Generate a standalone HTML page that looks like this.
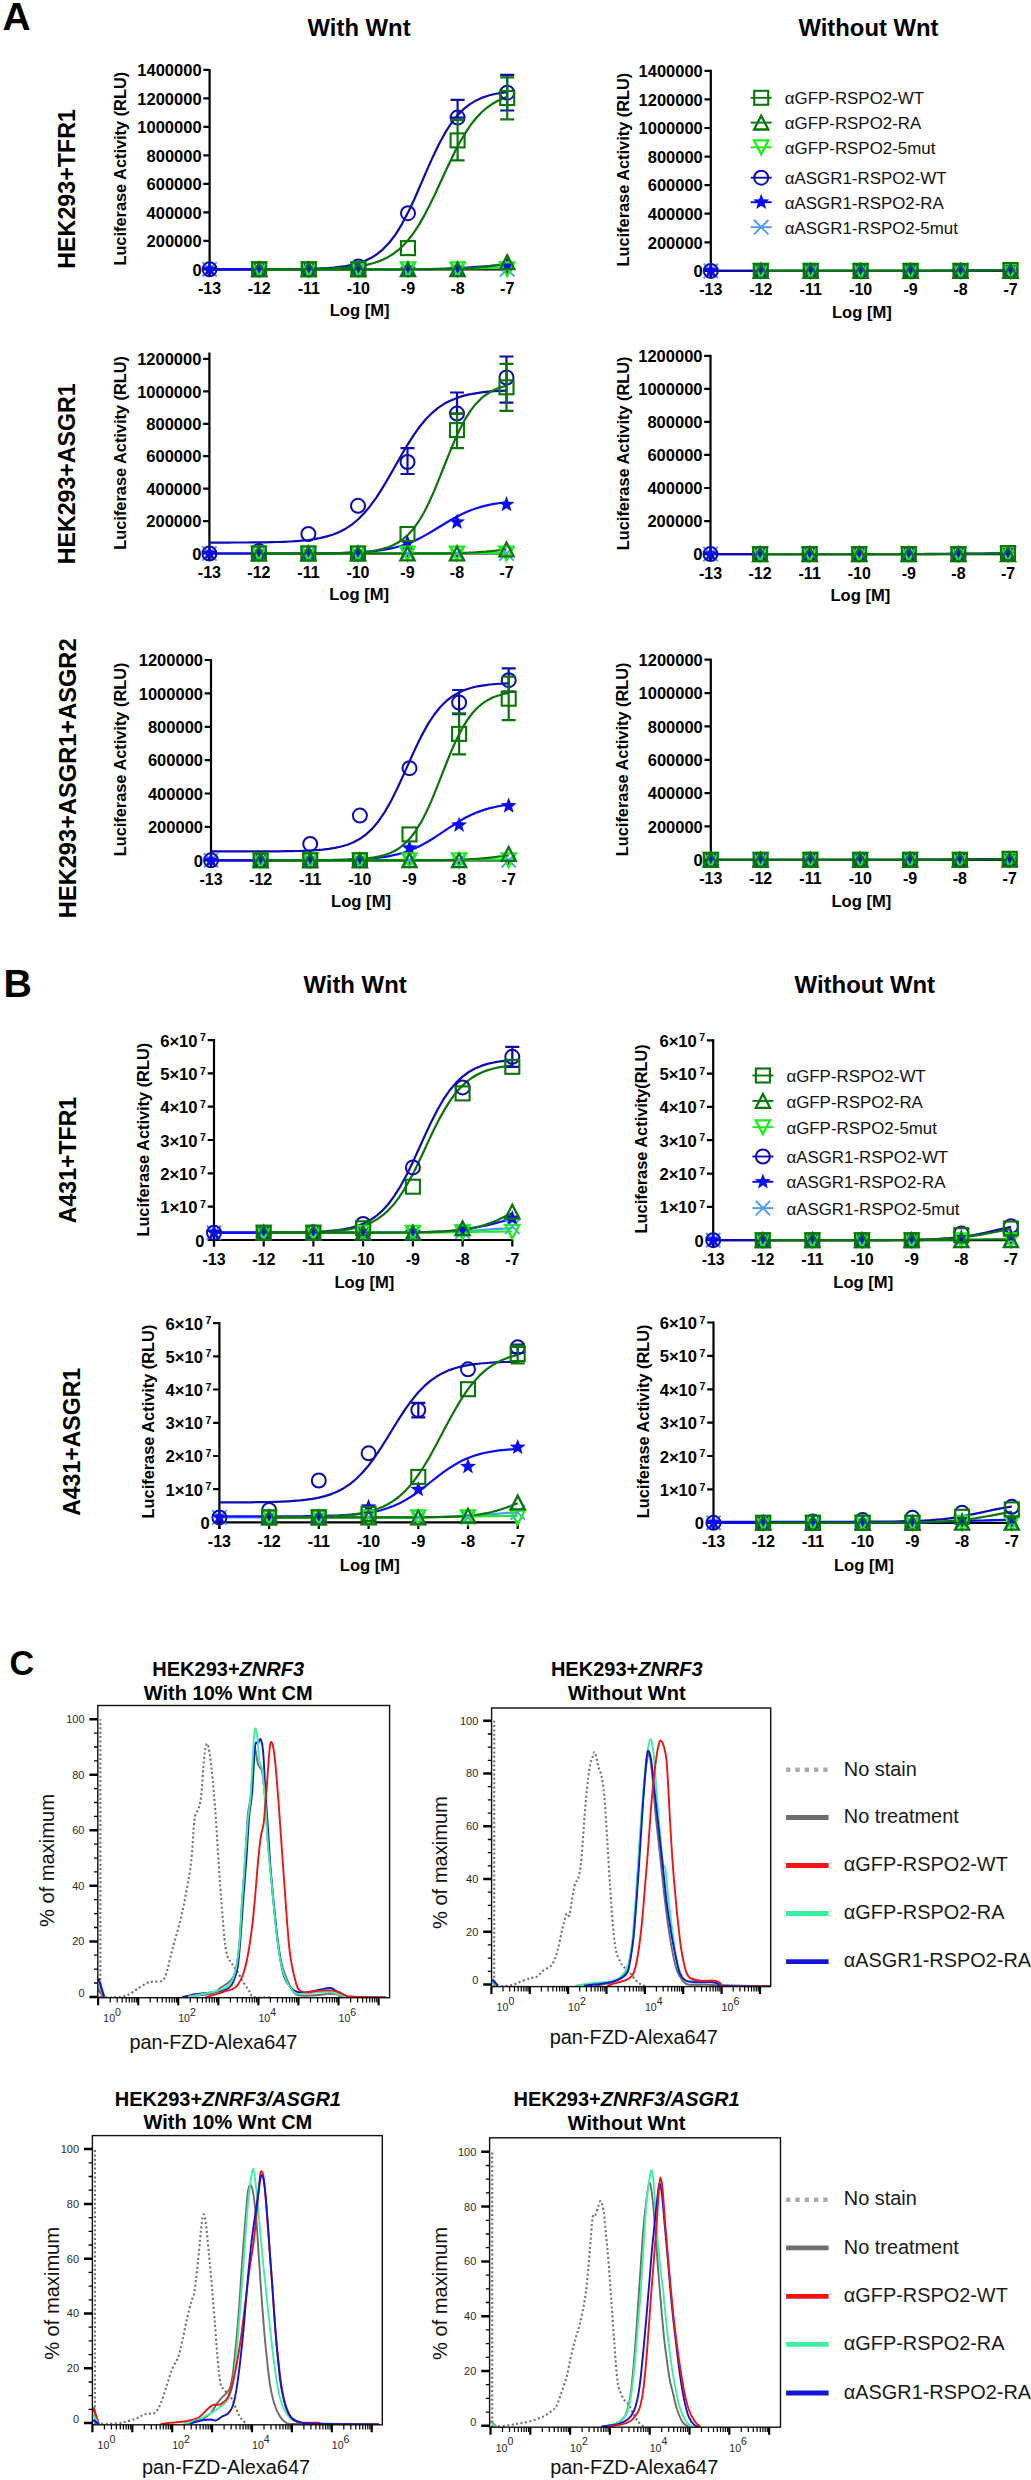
<!DOCTYPE html>
<html><head><meta charset="utf-8"><style>
html,body{margin:0;padding:0;background:#fff;}
svg{display:block;font-family:"Liberation Sans", sans-serif;}
</style></head><body>
<svg width="1031" height="2480" viewBox="0 0 1031 2480">
<rect width="1031" height="2480" fill="#fff"/>
<text font-size="38.95" font-weight="bold" transform="translate(2.47 29.80)">A</text>
<text font-size="39.39" font-weight="bold" transform="translate(3.50 997.00)">B</text>
<text font-size="34.18" font-weight="bold" transform="translate(9.40 1674.96)">C</text>
<text font-size="23.83" font-weight="bold" transform="translate(307.58 35.99)">With Wnt</text>
<text font-size="23.82" font-weight="bold" transform="translate(798.48 35.86)">Without Wnt</text>
<text font-size="23.93" font-weight="bold" transform="translate(303.38 993.18)">With Wnt</text>
<text font-size="23.91" font-weight="bold" transform="translate(794.58 992.86)">Without Wnt</text>
<path d="M209.6 68.9V275.8M208.6 269.3H508.2" stroke="#000" stroke-width="2.2" fill="none"/>
<path d="M203.3 269.3H209.6M203.3 240.8H209.6M203.3 212.3H209.6M203.3 183.8H209.6M203.3 155.4H209.6M203.3 126.9H209.6M203.3 98.4H209.6M203.3 69.9H209.6M209.6 269.3V275.8M259.2 269.3V275.8M308.8 269.3V275.8M358.4 269.3V275.8M408.0 269.3V275.8M457.6 269.3V275.8M507.2 269.3V275.8" stroke="#000" stroke-width="2.2" fill="none"/>
<text x="201.60" y="275.50" font-size="16.5" font-weight="bold" text-anchor="end">0</text>
<text x="201.60" y="247.01" font-size="16.5" font-weight="bold" text-anchor="end">200000</text>
<text x="201.60" y="218.53" font-size="16.5" font-weight="bold" text-anchor="end">400000</text>
<text x="201.60" y="190.04" font-size="16.5" font-weight="bold" text-anchor="end">600000</text>
<text x="201.60" y="161.56" font-size="16.5" font-weight="bold" text-anchor="end">800000</text>
<text x="201.60" y="133.07" font-size="16.5" font-weight="bold" text-anchor="end">1000000</text>
<text x="201.60" y="104.59" font-size="16.5" font-weight="bold" text-anchor="end">1200000</text>
<text x="201.60" y="76.10" font-size="16.5" font-weight="bold" text-anchor="end">1400000</text>
<text x="209.60" y="293.80" font-size="16" font-weight="bold" text-anchor="middle">-13</text>
<text x="259.20" y="293.80" font-size="16" font-weight="bold" text-anchor="middle">-12</text>
<text x="308.80" y="293.80" font-size="16" font-weight="bold" text-anchor="middle">-11</text>
<text x="358.40" y="293.80" font-size="16" font-weight="bold" text-anchor="middle">-10</text>
<text x="408.00" y="293.80" font-size="16" font-weight="bold" text-anchor="middle">-9</text>
<text x="457.60" y="293.80" font-size="16" font-weight="bold" text-anchor="middle">-8</text>
<text x="507.20" y="293.80" font-size="16" font-weight="bold" text-anchor="middle">-7</text>
<text x="359.60" y="316.20" font-size="16.6" font-weight="bold" text-anchor="middle">Log [M]</text>
<text font-size="16.35" font-weight="bold" transform="translate(126.3 265.6) rotate(-90)">Luciferase Activity (RLU)</text>
<text font-size="23.28" font-weight="bold" transform="translate(75.49 268.74) rotate(-90)">HEK293+TFR1</text>
<path d="M209.6 269.3 L215.8 269.3 L222.0 269.3 L228.2 269.3 L234.4 269.3 L240.6 269.3 L246.8 269.3 L253.0 269.3 L259.2 269.3 L265.4 269.3 L271.6 269.2 L277.8 269.2 L284.0 269.2 L290.2 269.1 L296.4 269.1 L302.6 269.0 L308.8 268.8 L315.0 268.6 L321.2 268.4 L327.4 268.1 L333.6 267.6 L339.8 266.9 L346.0 266.1 L352.2 264.9 L358.4 263.2 L364.6 261.0 L370.8 258.1 L377.0 254.2 L383.2 249.1 L389.4 242.5 L395.6 234.3 L401.8 224.3 L408.0 212.6 L414.2 199.5 L420.4 185.3 L426.6 170.9 L432.8 156.9 L439.0 144.0 L445.2 132.7 L451.4 123.0 L457.6 115.2 L463.8 108.9 L470.0 104.1 L476.2 100.4 L482.4 97.6 L488.6 95.5 L494.8 94.0 L501.0 92.9 L507.2 92.1" fill="none" stroke="#0c0cb4" stroke-width="2.2" stroke-linejoin="round"/>
<path d="M209.6 269.3 L215.8 269.3 L222.0 269.3 L228.2 269.3 L234.4 269.3 L240.6 269.3 L246.8 269.3 L253.0 269.3 L259.2 269.3 L265.4 269.3 L271.6 269.3 L277.8 269.3 L284.0 269.3 L290.2 269.3 L296.4 269.3 L302.6 269.3 L308.8 269.3 L315.0 269.3 L321.2 269.3 L327.4 269.3 L333.6 269.3 L339.8 269.3 L346.0 269.3 L352.2 269.3 L358.4 269.3 L364.6 269.3 L370.8 269.3 L377.0 269.3 L383.2 269.3 L389.4 269.3 L395.6 269.3 L401.8 269.2 L408.0 269.2 L414.2 269.2 L420.4 269.1 L426.6 269.1 L432.8 269.0 L439.0 268.8 L445.2 268.7 L451.4 268.4 L457.6 268.2 L463.8 267.8 L470.0 267.4 L476.2 266.9 L482.4 266.5 L488.6 266.0 L494.8 265.5 L501.0 265.1 L507.2 264.7" fill="none" stroke="#0a0aff" stroke-width="2.2" stroke-linejoin="round"/>
<path d="M259.2 269.3 L264.4 269.3 L269.5 269.3 L274.7 269.3 L279.9 269.3 L285.0 269.3 L290.2 269.3 L295.4 269.3 L300.5 269.3 L305.7 269.3 L310.9 269.3 L316.0 269.3 L321.2 269.3 L326.4 269.3 L331.5 269.3 L336.7 269.3 L341.9 269.3 L347.0 269.3 L352.2 269.3 L357.4 269.3 L362.5 269.3 L367.7 269.3 L372.9 269.3 L378.0 269.3 L383.2 269.3 L388.4 269.2 L393.5 269.2 L398.7 269.2 L403.9 269.2 L409.0 269.2 L414.2 269.1 L419.4 269.1 L424.5 269.0 L429.7 269.0 L434.9 268.9 L440.0 268.9 L445.2 268.8 L450.4 268.7 L455.5 268.6 L460.7 268.5 L465.9 268.5 L471.0 268.4 L476.2 268.3 L481.4 268.2 L486.5 268.2 L491.7 268.1 L496.9 268.1 L502.0 268.0 L507.2 268.0" fill="none" stroke="#19f019" stroke-width="2.2" stroke-linejoin="round"/>
<path d="M259.2 269.3 L264.4 269.3 L269.5 269.3 L274.7 269.3 L279.9 269.3 L285.0 269.3 L290.2 269.3 L295.4 269.3 L300.5 269.3 L305.7 269.3 L310.9 269.3 L316.0 269.3 L321.2 269.3 L326.4 269.3 L331.5 269.3 L336.7 269.3 L341.9 269.3 L347.0 269.3 L352.2 269.3 L357.4 269.3 L362.5 269.3 L367.7 269.3 L372.9 269.3 L378.0 269.3 L383.2 269.3 L388.4 269.3 L393.5 269.3 L398.7 269.3 L403.9 269.3 L409.0 269.3 L414.2 269.2 L419.4 269.2 L424.5 269.2 L429.7 269.2 L434.9 269.1 L440.0 269.0 L445.2 269.0 L450.4 268.8 L455.5 268.7 L460.7 268.5 L465.9 268.3 L471.0 268.0 L476.2 267.6 L481.4 267.1 L486.5 266.6 L491.7 265.9 L496.9 265.2 L502.0 264.4 L507.2 263.6" fill="none" stroke="#0a760a" stroke-width="2.2" stroke-linejoin="round"/>
<path d="M259.2 269.3 L264.4 269.3 L269.5 269.3 L274.7 269.2 L279.9 269.2 L285.0 269.2 L290.2 269.2 L295.4 269.2 L300.5 269.1 L305.7 269.1 L310.9 269.0 L316.0 268.9 L321.2 268.8 L326.4 268.7 L331.5 268.5 L336.7 268.2 L341.9 267.9 L347.0 267.5 L352.2 267.0 L357.4 266.4 L362.5 265.6 L367.7 264.6 L372.9 263.3 L378.0 261.6 L383.2 259.5 L388.4 256.9 L393.5 253.7 L398.7 249.7 L403.9 244.8 L409.0 239.0 L414.2 232.1 L419.4 224.1 L424.5 215.1 L429.7 205.1 L434.9 194.4 L440.0 183.3 L445.2 172.0 L450.4 161.0 L455.5 150.5 L460.7 140.8 L465.9 132.1 L471.0 124.5 L476.2 118.0 L481.4 112.5 L486.5 108.0 L491.7 104.3 L496.9 101.3 L502.0 98.9 L507.2 96.9" fill="none" stroke="#0a760a" stroke-width="2.2" stroke-linejoin="round"/>
<path d="M202.4 262.1L216.8 276.5M202.4 276.5L216.8 262.1" stroke="#4d9bff" stroke-width="1.9" fill="none"/>
<path d="M252.0 262.1L266.4 276.5M252.0 276.5L266.4 262.1" stroke="#4d9bff" stroke-width="1.9" fill="none"/>
<path d="M301.6 262.1L316.0 276.5M301.6 276.5L316.0 262.1" stroke="#4d9bff" stroke-width="1.9" fill="none"/>
<path d="M351.2 262.1L365.6 276.5M351.2 276.5L365.6 262.1" stroke="#4d9bff" stroke-width="1.9" fill="none"/>
<path d="M400.8 262.1L415.2 276.5M400.8 276.5L415.2 262.1" stroke="#4d9bff" stroke-width="1.9" fill="none"/>
<path d="M450.4 262.1L464.8 276.5M450.4 276.5L464.8 262.1" stroke="#4d9bff" stroke-width="1.9" fill="none"/>
<path d="M500.0 262.1L514.4 276.5M500.0 276.5L514.4 262.1" stroke="#4d9bff" stroke-width="1.9" fill="none"/>
<polygon points="209.6,260.9 211.7,266.4 217.6,266.7 213.0,270.4 214.5,276.1 209.6,272.8 204.7,276.1 206.2,270.4 201.6,266.7 207.5,266.4" fill="#0a0aff"/>
<polygon points="259.2,260.9 261.3,266.4 267.2,266.7 262.6,270.4 264.1,276.1 259.2,272.8 254.3,276.1 255.8,270.4 251.2,266.7 257.1,266.4" fill="#0a0aff"/>
<polygon points="308.8,260.9 310.9,266.4 316.8,266.7 312.2,270.4 313.7,276.1 308.8,272.8 303.9,276.1 305.4,270.4 300.8,266.7 306.7,266.4" fill="#0a0aff"/>
<polygon points="358.4,260.9 360.5,266.4 366.4,266.7 361.8,270.4 363.3,276.1 358.4,272.8 353.5,276.1 355.0,270.4 350.4,266.7 356.3,266.4" fill="#0a0aff"/>
<polygon points="408.0,260.9 410.1,266.4 416.0,266.7 411.4,270.4 412.9,276.1 408.0,272.8 403.1,276.1 404.6,270.4 400.0,266.7 405.9,266.4" fill="#0a0aff"/>
<polygon points="457.6,260.9 459.7,266.4 465.6,266.7 461.0,270.4 462.5,276.1 457.6,272.8 452.7,276.1 454.2,270.4 449.6,266.7 455.5,266.4" fill="#0a0aff"/>
<polygon points="507.2,256.6 509.3,262.2 515.2,262.4 510.6,266.1 512.1,271.8 507.2,268.6 502.3,271.8 503.8,266.1 499.2,262.4 505.1,262.2" fill="#0a0aff"/>
<circle cx="209.6" cy="269.3" r="7.0" fill="none" stroke="#0c0cb4" stroke-width="2.0"/>
<circle cx="259.2" cy="269.3" r="7.0" fill="none" stroke="#0c0cb4" stroke-width="2.0"/>
<circle cx="308.8" cy="269.3" r="7.0" fill="none" stroke="#0c0cb4" stroke-width="2.0"/>
<circle cx="358.4" cy="266.5" r="7.0" fill="none" stroke="#0c0cb4" stroke-width="2.0"/>
<circle cx="408.0" cy="213.2" r="7.0" fill="none" stroke="#0c0cb4" stroke-width="2.0"/>
<path d="M457.6 117.6V99.8M450.6 117.6h14M450.6 99.8h14" stroke="#0c0cb4" stroke-width="2.2" fill="none"/>
<circle cx="457.6" cy="117.6" r="7.0" fill="none" stroke="#0c0cb4" stroke-width="2.0"/>
<path d="M507.2 110.5V74.9M500.2 110.5h14M500.2 74.9h14" stroke="#0c0cb4" stroke-width="2.2" fill="none"/>
<circle cx="507.2" cy="92.7" r="7.0" fill="none" stroke="#0c0cb4" stroke-width="2.0"/>
<polygon points="259.2,276.2 252.1,262.4 266.3,262.4" fill="none" stroke="#19f019" stroke-width="2.3"/>
<polygon points="308.8,276.2 301.7,262.4 315.9,262.4" fill="none" stroke="#19f019" stroke-width="2.3"/>
<polygon points="358.4,276.2 351.3,262.4 365.5,262.4" fill="none" stroke="#19f019" stroke-width="2.3"/>
<polygon points="408.0,276.2 400.9,262.4 415.1,262.4" fill="none" stroke="#19f019" stroke-width="2.3"/>
<polygon points="457.6,276.2 450.5,262.4 464.7,262.4" fill="none" stroke="#19f019" stroke-width="2.3"/>
<polygon points="507.2,276.2 500.1,262.4 514.3,262.4" fill="none" stroke="#19f019" stroke-width="2.3"/>
<polygon points="259.2,262.4 252.1,276.2 266.3,276.2" fill="none" stroke="#0a760a" stroke-width="2.3"/>
<polygon points="308.8,262.4 301.7,276.2 315.9,276.2" fill="none" stroke="#0a760a" stroke-width="2.3"/>
<polygon points="358.4,262.4 351.3,276.2 365.5,276.2" fill="none" stroke="#0a760a" stroke-width="2.3"/>
<polygon points="408.0,262.4 400.9,276.2 415.1,276.2" fill="none" stroke="#0a760a" stroke-width="2.3"/>
<polygon points="457.6,262.4 450.5,276.2 464.7,276.2" fill="none" stroke="#0a760a" stroke-width="2.3"/>
<polygon points="507.2,255.3 500.1,269.1 514.3,269.1" fill="none" stroke="#0a760a" stroke-width="2.3"/>
<rect x="252.2" y="262.3" width="14.0" height="14.0" fill="none" stroke="#0a760a" stroke-width="2.1"/>
<rect x="301.8" y="262.3" width="14.0" height="14.0" fill="none" stroke="#0a760a" stroke-width="2.1"/>
<rect x="351.4" y="262.3" width="14.0" height="14.0" fill="none" stroke="#0a760a" stroke-width="2.1"/>
<rect x="401.0" y="241.1" width="14.0" height="14.0" fill="none" stroke="#0a760a" stroke-width="2.1"/>
<path d="M457.6 160.3V119.8M450.6 160.3h14M450.6 119.8h14" stroke="#0a760a" stroke-width="2.2" fill="none"/>
<rect x="450.6" y="133.4" width="14.0" height="14.0" fill="none" stroke="#0a760a" stroke-width="2.1"/>
<path d="M507.2 119.3V77.3M500.2 119.3h14M500.2 77.3h14" stroke="#0a760a" stroke-width="2.2" fill="none"/>
<rect x="500.2" y="91.0" width="14.0" height="14.0" fill="none" stroke="#0a760a" stroke-width="2.1"/>
<path d="M710.8 69.8V277.4M709.8 270.9H1011.5" stroke="#000" stroke-width="2.2" fill="none"/>
<path d="M704.5 270.9H710.8M704.5 242.3H710.8M704.5 213.7H710.8M704.5 185.1H710.8M704.5 156.6H710.8M704.5 128.0H710.8M704.5 99.4H710.8M704.5 70.8H710.8M710.8 270.9V277.4M760.8 270.9V277.4M810.7 270.9V277.4M860.6 270.9V277.4M910.6 270.9V277.4M960.5 270.9V277.4M1010.5 270.9V277.4" stroke="#000" stroke-width="2.2" fill="none"/>
<text x="702.80" y="277.10" font-size="16.5" font-weight="bold" text-anchor="end">0</text>
<text x="702.80" y="248.51" font-size="16.5" font-weight="bold" text-anchor="end">200000</text>
<text x="702.80" y="219.93" font-size="16.5" font-weight="bold" text-anchor="end">400000</text>
<text x="702.80" y="191.34" font-size="16.5" font-weight="bold" text-anchor="end">600000</text>
<text x="702.80" y="162.76" font-size="16.5" font-weight="bold" text-anchor="end">800000</text>
<text x="702.80" y="134.17" font-size="16.5" font-weight="bold" text-anchor="end">1000000</text>
<text x="702.80" y="105.59" font-size="16.5" font-weight="bold" text-anchor="end">1200000</text>
<text x="702.80" y="77.00" font-size="16.5" font-weight="bold" text-anchor="end">1400000</text>
<text x="710.80" y="295.40" font-size="16" font-weight="bold" text-anchor="middle">-13</text>
<text x="760.75" y="295.40" font-size="16" font-weight="bold" text-anchor="middle">-12</text>
<text x="810.70" y="295.40" font-size="16" font-weight="bold" text-anchor="middle">-11</text>
<text x="860.65" y="295.40" font-size="16" font-weight="bold" text-anchor="middle">-10</text>
<text x="910.60" y="295.40" font-size="16" font-weight="bold" text-anchor="middle">-9</text>
<text x="960.55" y="295.40" font-size="16" font-weight="bold" text-anchor="middle">-8</text>
<text x="1010.50" y="295.40" font-size="16" font-weight="bold" text-anchor="middle">-7</text>
<text x="861.85" y="317.80" font-size="16.6" font-weight="bold" text-anchor="middle">Log [M]</text>
<text font-size="16.35" font-weight="bold" transform="translate(628.9 266.5) rotate(-90)">Luciferase Activity (RLU)</text>
<path d="M710.8 270.9 L717.0 270.9 L723.3 270.9 L729.5 270.9 L735.8 270.9 L742.0 270.9 L748.3 270.9 L754.5 270.9 L760.8 270.9 L767.0 270.9 L773.2 270.9 L779.5 270.9 L785.7 270.9 L792.0 270.9 L798.2 270.9 L804.5 270.9 L810.7 270.9 L816.9 270.9 L823.2 270.9 L829.4 270.9 L835.7 270.9 L841.9 270.9 L848.2 270.9 L854.4 270.9 L860.6 270.9 L866.9 270.9 L873.1 270.9 L879.4 270.9 L885.6 270.9 L891.9 270.9 L898.1 270.9 L904.4 270.9 L910.6 270.8 L916.8 270.8 L923.1 270.8 L929.3 270.8 L935.6 270.7 L941.8 270.7 L948.1 270.6 L954.3 270.6 L960.5 270.5 L966.8 270.5 L973.0 270.4 L979.3 270.4 L985.5 270.4 L991.8 270.3 L998.0 270.3 L1004.3 270.3 L1010.5 270.3" fill="none" stroke="#0c0cb4" stroke-width="2.2" stroke-linejoin="round"/>
<path d="M760.8 270.9 L766.0 270.9 L771.2 270.9 L776.4 270.9 L781.6 270.9 L786.8 270.9 L792.0 270.9 L797.2 270.9 L802.4 270.9 L807.6 270.9 L812.8 270.9 L818.0 270.9 L823.2 270.9 L828.4 270.9 L833.6 270.9 L838.8 270.9 L844.0 270.9 L849.2 270.9 L854.4 270.9 L859.6 270.9 L864.8 270.9 L870.0 270.9 L875.2 270.9 L880.4 270.9 L885.6 270.9 L890.8 270.9 L896.0 270.9 L901.2 270.9 L906.4 270.9 L911.6 270.9 L916.8 270.9 L922.0 270.9 L927.2 270.9 L932.5 270.9 L937.7 270.9 L942.9 270.9 L948.1 270.8 L953.3 270.8 L958.5 270.8 L963.7 270.8 L968.9 270.8 L974.1 270.7 L979.3 270.7 L984.5 270.6 L989.7 270.6 L994.9 270.5 L1000.1 270.5 L1005.3 270.4 L1010.5 270.3" fill="none" stroke="#0a760a" stroke-width="2.2" stroke-linejoin="round"/>
<path d="M703.6 263.7L718.0 278.1M703.6 278.1L718.0 263.7" stroke="#4d9bff" stroke-width="1.9" fill="none"/>
<path d="M753.5 263.7L768.0 278.1M753.5 278.1L768.0 263.7" stroke="#4d9bff" stroke-width="1.9" fill="none"/>
<path d="M803.5 263.7L817.9 278.1M803.5 278.1L817.9 263.7" stroke="#4d9bff" stroke-width="1.9" fill="none"/>
<path d="M853.4 263.7L867.9 278.1M853.4 278.1L867.9 263.7" stroke="#4d9bff" stroke-width="1.9" fill="none"/>
<path d="M903.4 263.7L917.8 278.1M903.4 278.1L917.8 263.7" stroke="#4d9bff" stroke-width="1.9" fill="none"/>
<path d="M953.3 263.7L967.8 278.1M953.3 278.1L967.8 263.7" stroke="#4d9bff" stroke-width="1.9" fill="none"/>
<path d="M1003.3 263.7L1017.7 278.1M1003.3 278.1L1017.7 263.7" stroke="#4d9bff" stroke-width="1.9" fill="none"/>
<polygon points="710.8,262.5 712.9,268.0 718.8,268.3 714.2,272.0 715.7,277.7 710.8,274.4 705.9,277.7 707.4,272.0 702.8,268.3 708.7,268.0" fill="#0a0aff"/>
<polygon points="760.8,262.5 762.8,268.0 768.7,268.3 764.1,272.0 765.7,277.7 760.8,274.4 755.8,277.7 757.4,272.0 752.8,268.3 758.7,268.0" fill="#0a0aff"/>
<polygon points="810.7,262.5 812.8,268.0 818.7,268.3 814.1,272.0 815.6,277.7 810.7,274.4 805.8,277.7 807.3,272.0 802.7,268.3 808.6,268.0" fill="#0a0aff"/>
<polygon points="860.6,262.5 862.7,268.0 868.6,268.3 864.0,272.0 865.6,277.7 860.6,274.4 855.7,277.7 857.3,272.0 852.7,268.3 858.6,268.0" fill="#0a0aff"/>
<polygon points="910.6,262.5 912.7,268.0 918.6,268.3 914.0,272.0 915.5,277.7 910.6,274.4 905.7,277.7 907.2,272.0 902.6,268.3 908.5,268.0" fill="#0a0aff"/>
<polygon points="960.5,262.5 962.6,268.0 968.5,268.3 963.9,272.0 965.5,277.7 960.5,274.4 955.6,277.7 957.2,272.0 952.6,268.3 958.5,268.0" fill="#0a0aff"/>
<polygon points="1010.5,262.5 1012.6,268.0 1018.5,268.3 1013.9,272.0 1015.4,277.7 1010.5,274.4 1005.6,277.7 1007.1,272.0 1002.5,268.3 1008.4,268.0" fill="#0a0aff"/>
<circle cx="710.8" cy="270.9" r="7.0" fill="none" stroke="#0c0cb4" stroke-width="2.0"/>
<circle cx="760.8" cy="270.9" r="7.0" fill="none" stroke="#0c0cb4" stroke-width="2.0"/>
<circle cx="810.7" cy="270.9" r="7.0" fill="none" stroke="#0c0cb4" stroke-width="2.0"/>
<circle cx="860.6" cy="270.9" r="7.0" fill="none" stroke="#0c0cb4" stroke-width="2.0"/>
<circle cx="910.6" cy="270.9" r="7.0" fill="none" stroke="#0c0cb4" stroke-width="2.0"/>
<circle cx="960.5" cy="270.9" r="7.0" fill="none" stroke="#0c0cb4" stroke-width="2.0"/>
<circle cx="1010.5" cy="270.9" r="7.0" fill="none" stroke="#0c0cb4" stroke-width="2.0"/>
<polygon points="760.8,277.8 753.6,264.0 767.9,264.0" fill="none" stroke="#19f019" stroke-width="2.3"/>
<polygon points="810.7,277.8 803.6,264.0 817.8,264.0" fill="none" stroke="#19f019" stroke-width="2.3"/>
<polygon points="860.6,277.8 853.5,264.0 867.8,264.0" fill="none" stroke="#19f019" stroke-width="2.3"/>
<polygon points="910.6,277.8 903.5,264.0 917.7,264.0" fill="none" stroke="#19f019" stroke-width="2.3"/>
<polygon points="960.5,277.8 953.4,264.0 967.6,264.0" fill="none" stroke="#19f019" stroke-width="2.3"/>
<polygon points="1010.5,277.8 1003.4,264.0 1017.6,264.0" fill="none" stroke="#19f019" stroke-width="2.3"/>
<polygon points="760.8,264.0 753.6,277.8 767.9,277.8" fill="none" stroke="#0a760a" stroke-width="2.3"/>
<polygon points="810.7,264.0 803.6,277.8 817.8,277.8" fill="none" stroke="#0a760a" stroke-width="2.3"/>
<polygon points="860.6,264.0 853.5,277.8 867.8,277.8" fill="none" stroke="#0a760a" stroke-width="2.3"/>
<polygon points="910.6,264.0 903.5,277.8 917.7,277.8" fill="none" stroke="#0a760a" stroke-width="2.3"/>
<polygon points="960.5,264.0 953.4,277.8 967.6,277.8" fill="none" stroke="#0a760a" stroke-width="2.3"/>
<polygon points="1010.5,264.0 1003.4,277.8 1017.6,277.8" fill="none" stroke="#0a760a" stroke-width="2.3"/>
<rect x="753.8" y="263.9" width="14.0" height="14.0" fill="none" stroke="#0a760a" stroke-width="2.1"/>
<rect x="803.7" y="263.9" width="14.0" height="14.0" fill="none" stroke="#0a760a" stroke-width="2.1"/>
<rect x="853.6" y="263.9" width="14.0" height="14.0" fill="none" stroke="#0a760a" stroke-width="2.1"/>
<rect x="903.6" y="263.9" width="14.0" height="14.0" fill="none" stroke="#0a760a" stroke-width="2.1"/>
<rect x="953.5" y="263.9" width="14.0" height="14.0" fill="none" stroke="#0a760a" stroke-width="2.1"/>
<rect x="1003.5" y="263.0" width="14.0" height="14.0" fill="none" stroke="#0a760a" stroke-width="2.1"/>
<path d="M209.4 352.4V560.0M208.4 553.5H507.5" stroke="#000" stroke-width="2.2" fill="none"/>
<path d="M203.1 553.5H209.4M203.1 521.1H209.4M203.1 488.6H209.4M203.1 456.2H209.4M203.1 423.8H209.4M203.1 391.3H209.4M203.1 358.9H209.4M209.4 553.5V560.0M258.9 553.5V560.0M308.4 553.5V560.0M358.0 553.5V560.0M407.5 553.5V560.0M457.0 553.5V560.0M506.5 553.5V560.0" stroke="#000" stroke-width="2.2" fill="none"/>
<text x="201.40" y="559.70" font-size="16.5" font-weight="bold" text-anchor="end">0</text>
<text x="201.40" y="527.27" font-size="16.5" font-weight="bold" text-anchor="end">200000</text>
<text x="201.40" y="494.83" font-size="16.5" font-weight="bold" text-anchor="end">400000</text>
<text x="201.40" y="462.40" font-size="16.5" font-weight="bold" text-anchor="end">600000</text>
<text x="201.40" y="429.97" font-size="16.5" font-weight="bold" text-anchor="end">800000</text>
<text x="201.40" y="397.53" font-size="16.5" font-weight="bold" text-anchor="end">1000000</text>
<text x="201.40" y="365.10" font-size="16.5" font-weight="bold" text-anchor="end">1200000</text>
<text x="209.40" y="578.00" font-size="16" font-weight="bold" text-anchor="middle">-13</text>
<text x="258.92" y="578.00" font-size="16" font-weight="bold" text-anchor="middle">-12</text>
<text x="308.43" y="578.00" font-size="16" font-weight="bold" text-anchor="middle">-11</text>
<text x="357.95" y="578.00" font-size="16" font-weight="bold" text-anchor="middle">-10</text>
<text x="407.47" y="578.00" font-size="16" font-weight="bold" text-anchor="middle">-9</text>
<text x="456.98" y="578.00" font-size="16" font-weight="bold" text-anchor="middle">-8</text>
<text x="506.50" y="578.00" font-size="16" font-weight="bold" text-anchor="middle">-7</text>
<text x="359.15" y="600.40" font-size="16.6" font-weight="bold" text-anchor="middle">Log [M]</text>
<text font-size="16.35" font-weight="bold" transform="translate(126.3 549.7) rotate(-90)">Luciferase Activity (RLU)</text>
<text font-size="23.16" font-weight="bold" transform="translate(75.25 564.23) rotate(-90)">HEK293+ASGR1</text>
<path d="M209.4 542.6 L215.6 542.6 L221.8 542.6 L228.0 542.6 L234.2 542.5 L240.3 542.5 L246.5 542.5 L252.7 542.4 L258.9 542.4 L265.1 542.3 L271.3 542.2 L277.5 542.0 L283.7 541.8 L289.9 541.5 L296.1 541.1 L302.2 540.6 L308.4 540.0 L314.6 539.1 L320.8 537.9 L327.0 536.4 L333.2 534.5 L339.4 532.0 L345.6 528.7 L351.8 524.6 L358.0 519.5 L364.1 513.3 L370.3 505.9 L376.5 497.3 L382.7 487.6 L388.9 477.1 L395.1 466.2 L401.3 455.2 L407.5 444.8 L413.7 435.1 L419.8 426.5 L426.0 419.0 L432.2 412.8 L438.4 407.7 L444.6 403.6 L450.8 400.4 L457.0 397.9 L463.2 395.9 L469.4 394.4 L475.6 393.3 L481.7 392.4 L487.9 391.7 L494.1 391.2 L500.3 390.8 L506.5 390.6" fill="none" stroke="#0c0cb4" stroke-width="2.2" stroke-linejoin="round"/>
<path d="M209.4 553.5 L215.6 553.5 L221.8 553.5 L228.0 553.5 L234.2 553.5 L240.3 553.5 L246.5 553.5 L252.7 553.5 L258.9 553.5 L265.1 553.5 L271.3 553.5 L277.5 553.5 L283.7 553.5 L289.9 553.4 L296.1 553.4 L302.2 553.4 L308.4 553.4 L314.6 553.3 L320.8 553.3 L327.0 553.2 L333.2 553.1 L339.4 553.0 L345.6 552.8 L351.8 552.6 L358.0 552.3 L364.1 551.9 L370.3 551.5 L376.5 550.8 L382.7 550.0 L388.9 548.9 L395.1 547.5 L401.3 545.8 L407.5 543.7 L413.7 541.2 L419.8 538.3 L426.0 534.9 L432.2 531.3 L438.4 527.5 L444.6 523.7 L450.8 520.0 L457.0 516.5 L463.2 513.4 L469.4 510.7 L475.6 508.5 L481.7 506.6 L487.9 505.1 L494.1 503.9 L500.3 503.0 L506.5 502.3" fill="none" stroke="#0a0aff" stroke-width="2.2" stroke-linejoin="round"/>
<path d="M258.9 553.5 L264.1 553.5 L269.2 553.5 L274.4 553.5 L279.5 553.5 L284.7 553.5 L289.9 553.5 L295.0 553.5 L300.2 553.5 L305.3 553.5 L310.5 553.5 L315.7 553.5 L320.8 553.5 L326.0 553.5 L331.1 553.5 L336.3 553.5 L341.4 553.5 L346.6 553.5 L351.8 553.5 L356.9 553.5 L362.1 553.5 L367.2 553.5 L372.4 553.5 L377.6 553.5 L382.7 553.5 L387.9 553.5 L393.0 553.5 L398.2 553.5 L403.3 553.4 L408.5 553.4 L413.7 553.4 L418.8 553.4 L424.0 553.4 L429.1 553.3 L434.3 553.3 L439.4 553.3 L444.6 553.2 L449.8 553.2 L454.9 553.1 L460.1 553.1 L465.2 553.0 L470.4 553.0 L475.6 552.9 L480.7 552.9 L485.9 552.9 L491.0 552.8 L496.2 552.8 L501.3 552.8 L506.5 552.8" fill="none" stroke="#19f019" stroke-width="2.2" stroke-linejoin="round"/>
<path d="M258.9 553.5 L264.1 553.5 L269.2 553.5 L274.4 553.5 L279.5 553.5 L284.7 553.5 L289.9 553.5 L295.0 553.5 L300.2 553.5 L305.3 553.5 L310.5 553.5 L315.7 553.5 L320.8 553.5 L326.0 553.5 L331.1 553.5 L336.3 553.5 L341.4 553.5 L346.6 553.5 L351.8 553.5 L356.9 553.5 L362.1 553.5 L367.2 553.5 L372.4 553.5 L377.6 553.5 L382.7 553.5 L387.9 553.5 L393.0 553.5 L398.2 553.5 L403.3 553.5 L408.5 553.5 L413.7 553.5 L418.8 553.4 L424.0 553.4 L429.1 553.4 L434.3 553.4 L439.4 553.3 L444.6 553.3 L449.8 553.2 L454.9 553.1 L460.1 552.9 L465.2 552.8 L470.4 552.5 L475.6 552.3 L480.7 551.9 L485.9 551.6 L491.0 551.1 L496.2 550.6 L501.3 550.0 L506.5 549.4" fill="none" stroke="#0a760a" stroke-width="2.2" stroke-linejoin="round"/>
<path d="M258.9 553.5 L264.1 553.5 L269.2 553.5 L274.4 553.5 L279.5 553.5 L284.7 553.5 L289.9 553.5 L295.0 553.5 L300.2 553.5 L305.3 553.5 L310.5 553.4 L315.7 553.4 L320.8 553.4 L326.0 553.3 L331.1 553.3 L336.3 553.2 L341.4 553.1 L346.6 552.9 L351.8 552.7 L356.9 552.5 L362.1 552.1 L367.2 551.6 L372.4 551.0 L377.6 550.1 L382.7 548.9 L387.9 547.3 L393.0 545.3 L398.2 542.5 L403.3 538.9 L408.5 534.3 L413.7 528.5 L418.8 521.2 L424.0 512.5 L429.1 502.2 L434.3 490.6 L439.4 478.1 L444.6 465.0 L449.8 452.1 L454.9 439.9 L460.1 428.8 L465.2 419.1 L470.4 410.9 L475.6 404.2 L480.7 398.9 L485.9 394.7 L491.0 391.5 L496.2 389.0 L501.3 387.1 L506.5 385.7" fill="none" stroke="#0a760a" stroke-width="2.2" stroke-linejoin="round"/>
<path d="M202.2 546.3L216.6 560.7M202.2 560.7L216.6 546.3" stroke="#4d9bff" stroke-width="1.9" fill="none"/>
<path d="M251.7 546.3L266.1 560.7M251.7 560.7L266.1 546.3" stroke="#4d9bff" stroke-width="1.9" fill="none"/>
<path d="M301.2 546.3L315.6 560.7M301.2 560.7L315.6 546.3" stroke="#4d9bff" stroke-width="1.9" fill="none"/>
<path d="M350.7 546.3L365.2 560.7M350.7 560.7L365.2 546.3" stroke="#4d9bff" stroke-width="1.9" fill="none"/>
<path d="M400.3 546.3L414.7 560.7M400.3 560.7L414.7 546.3" stroke="#4d9bff" stroke-width="1.9" fill="none"/>
<path d="M449.8 546.3L464.2 560.7M449.8 560.7L464.2 546.3" stroke="#4d9bff" stroke-width="1.9" fill="none"/>
<path d="M499.3 546.3L513.7 560.7M499.3 560.7L513.7 546.3" stroke="#4d9bff" stroke-width="1.9" fill="none"/>
<polygon points="209.4,545.1 211.5,550.6 217.4,550.9 212.8,554.6 214.3,560.3 209.4,557.0 204.5,560.3 206.0,554.6 201.4,550.9 207.3,550.6" fill="#0a0aff"/>
<polygon points="258.9,545.1 261.0,550.6 266.9,550.9 262.3,554.6 263.9,560.3 258.9,557.0 254.0,560.3 255.6,554.6 250.9,550.9 256.8,550.6" fill="#0a0aff"/>
<polygon points="308.4,545.1 310.5,550.6 316.4,550.9 311.8,554.6 313.4,560.3 308.4,557.0 303.5,560.3 305.1,554.6 300.4,550.9 306.4,550.6" fill="#0a0aff"/>
<polygon points="358.0,545.1 360.0,550.6 365.9,550.9 361.3,554.6 362.9,560.3 358.0,557.0 353.0,560.3 354.6,554.6 350.0,550.9 355.9,550.6" fill="#0a0aff"/>
<polygon points="407.5,534.6 409.5,540.1 415.5,540.4 410.8,544.0 412.4,549.8 407.5,546.5 402.5,549.8 404.1,544.0 399.5,540.4 405.4,540.1" fill="#0a0aff"/>
<polygon points="457.0,513.8 459.1,519.3 465.0,519.6 460.3,523.3 461.9,529.0 457.0,525.7 452.0,529.0 453.6,523.3 449.0,519.6 454.9,519.3" fill="#0a0aff"/>
<polygon points="506.5,496.1 508.6,501.7 514.5,501.9 509.9,505.6 511.4,511.3 506.5,508.1 501.6,511.3 503.1,505.6 498.5,501.9 504.4,501.7" fill="#0a0aff"/>
<circle cx="209.4" cy="553.5" r="7.0" fill="none" stroke="#0c0cb4" stroke-width="2.0"/>
<circle cx="258.9" cy="551.1" r="7.0" fill="none" stroke="#0c0cb4" stroke-width="2.0"/>
<circle cx="308.4" cy="534.0" r="7.0" fill="none" stroke="#0c0cb4" stroke-width="2.0"/>
<circle cx="358.0" cy="505.8" r="7.0" fill="none" stroke="#0c0cb4" stroke-width="2.0"/>
<path d="M407.5 474.0V448.1M400.5 474.0h14M400.5 448.1h14" stroke="#0c0cb4" stroke-width="2.2" fill="none"/>
<circle cx="407.5" cy="462.0" r="7.0" fill="none" stroke="#0c0cb4" stroke-width="2.0"/>
<path d="M457.0 413.6V392.5M450.0 413.6h14M450.0 392.5h14" stroke="#0c0cb4" stroke-width="2.2" fill="none"/>
<circle cx="457.0" cy="413.6" r="7.0" fill="none" stroke="#0c0cb4" stroke-width="2.0"/>
<path d="M506.5 402.7V356.5M499.5 402.7h14M499.5 356.5h14" stroke="#0c0cb4" stroke-width="2.2" fill="none"/>
<circle cx="506.5" cy="377.5" r="7.0" fill="none" stroke="#0c0cb4" stroke-width="2.0"/>
<polygon points="258.9,560.4 251.8,546.6 266.0,546.6" fill="none" stroke="#19f019" stroke-width="2.3"/>
<polygon points="308.4,560.4 301.3,546.6 315.5,546.6" fill="none" stroke="#19f019" stroke-width="2.3"/>
<polygon points="358.0,560.4 350.9,546.6 365.1,546.6" fill="none" stroke="#19f019" stroke-width="2.3"/>
<polygon points="407.5,560.4 400.4,546.6 414.6,546.6" fill="none" stroke="#19f019" stroke-width="2.3"/>
<polygon points="457.0,560.4 449.9,546.6 464.1,546.6" fill="none" stroke="#19f019" stroke-width="2.3"/>
<polygon points="506.5,560.4 499.4,546.6 513.6,546.6" fill="none" stroke="#19f019" stroke-width="2.3"/>
<polygon points="258.9,546.6 251.8,560.4 266.0,560.4" fill="none" stroke="#0a760a" stroke-width="2.3"/>
<polygon points="308.4,546.6 301.3,560.4 315.5,560.4" fill="none" stroke="#0a760a" stroke-width="2.3"/>
<polygon points="358.0,546.6 350.9,560.4 365.1,560.4" fill="none" stroke="#0a760a" stroke-width="2.3"/>
<polygon points="407.5,546.6 400.4,560.4 414.6,560.4" fill="none" stroke="#0a760a" stroke-width="2.3"/>
<polygon points="457.0,546.6 449.9,560.4 464.1,560.4" fill="none" stroke="#0a760a" stroke-width="2.3"/>
<polygon points="506.5,542.5 499.4,556.3 513.6,556.3" fill="none" stroke="#0a760a" stroke-width="2.3"/>
<rect x="251.9" y="546.5" width="14.0" height="14.0" fill="none" stroke="#0a760a" stroke-width="2.1"/>
<rect x="301.4" y="546.5" width="14.0" height="14.0" fill="none" stroke="#0a760a" stroke-width="2.1"/>
<rect x="351.0" y="546.5" width="14.0" height="14.0" fill="none" stroke="#0a760a" stroke-width="2.1"/>
<rect x="400.5" y="527.0" width="14.0" height="14.0" fill="none" stroke="#0a760a" stroke-width="2.1"/>
<path d="M457.0 448.1V413.6M450.0 448.1h14M450.0 413.6h14" stroke="#0a760a" stroke-width="2.2" fill="none"/>
<rect x="450.0" y="423.1" width="14.0" height="14.0" fill="none" stroke="#0a760a" stroke-width="2.1"/>
<path d="M506.5 410.8V363.8M499.5 410.8h14M499.5 363.8h14" stroke="#0a760a" stroke-width="2.2" fill="none"/>
<rect x="499.5" y="380.3" width="14.0" height="14.0" fill="none" stroke="#0a760a" stroke-width="2.1"/>
<path d="M710.5 354.8V560.6M709.5 554.1H1009.0" stroke="#000" stroke-width="2.2" fill="none"/>
<path d="M704.2 554.1H710.5M704.2 521.1H710.5M704.2 488.0H710.5M704.2 454.9H710.5M704.2 421.9H710.5M704.2 388.9H710.5M704.2 355.8H710.5M710.5 554.1V560.6M760.1 554.1V560.6M809.7 554.1V560.6M859.2 554.1V560.6M908.8 554.1V560.6M958.4 554.1V560.6M1008.0 554.1V560.6" stroke="#000" stroke-width="2.2" fill="none"/>
<text x="702.50" y="560.30" font-size="16.5" font-weight="bold" text-anchor="end">0</text>
<text x="702.50" y="527.25" font-size="16.5" font-weight="bold" text-anchor="end">200000</text>
<text x="702.50" y="494.20" font-size="16.5" font-weight="bold" text-anchor="end">400000</text>
<text x="702.50" y="461.15" font-size="16.5" font-weight="bold" text-anchor="end">600000</text>
<text x="702.50" y="428.10" font-size="16.5" font-weight="bold" text-anchor="end">800000</text>
<text x="702.50" y="395.05" font-size="16.5" font-weight="bold" text-anchor="end">1000000</text>
<text x="702.50" y="362.00" font-size="16.5" font-weight="bold" text-anchor="end">1200000</text>
<text x="710.50" y="578.60" font-size="16" font-weight="bold" text-anchor="middle">-13</text>
<text x="760.08" y="578.60" font-size="16" font-weight="bold" text-anchor="middle">-12</text>
<text x="809.67" y="578.60" font-size="16" font-weight="bold" text-anchor="middle">-11</text>
<text x="859.25" y="578.60" font-size="16" font-weight="bold" text-anchor="middle">-10</text>
<text x="908.83" y="578.60" font-size="16" font-weight="bold" text-anchor="middle">-9</text>
<text x="958.42" y="578.60" font-size="16" font-weight="bold" text-anchor="middle">-8</text>
<text x="1008.00" y="578.60" font-size="16" font-weight="bold" text-anchor="middle">-7</text>
<text x="860.45" y="601.00" font-size="16.6" font-weight="bold" text-anchor="middle">Log [M]</text>
<text font-size="16.35" font-weight="bold" transform="translate(628.9 550.2) rotate(-90)">Luciferase Activity (RLU)</text>
<path d="M710.5 554.1 L716.7 554.1 L722.9 554.1 L729.1 554.1 L735.3 554.1 L741.5 554.1 L747.7 554.1 L753.9 554.1 L760.1 554.1 L766.3 554.1 L772.5 554.1 L778.7 554.1 L784.9 554.1 L791.1 554.1 L797.3 554.1 L803.5 554.1 L809.7 554.1 L815.9 554.1 L822.1 554.1 L828.3 554.1 L834.5 554.1 L840.7 554.1 L846.9 554.1 L853.1 554.1 L859.2 554.1 L865.4 554.1 L871.6 554.1 L877.8 554.1 L884.0 554.1 L890.2 554.1 L896.4 554.1 L902.6 554.0 L908.8 554.0 L915.0 554.0 L921.2 554.0 L927.4 553.9 L933.6 553.9 L939.8 553.9 L946.0 553.8 L952.2 553.7 L958.4 553.7 L964.6 553.6 L970.8 553.6 L977.0 553.5 L983.2 553.5 L989.4 553.4 L995.6 553.4 L1001.8 553.4 L1008.0 553.3" fill="none" stroke="#0c0cb4" stroke-width="2.2" stroke-linejoin="round"/>
<path d="M760.1 554.1 L765.2 554.1 L770.4 554.1 L775.6 554.1 L780.7 554.1 L785.9 554.1 L791.1 554.1 L796.2 554.1 L801.4 554.1 L806.6 554.1 L811.7 554.1 L816.9 554.1 L822.1 554.1 L827.2 554.1 L832.4 554.1 L837.6 554.1 L842.7 554.1 L847.9 554.1 L853.1 554.1 L858.2 554.1 L863.4 554.1 L868.5 554.1 L873.7 554.1 L878.9 554.1 L884.0 554.1 L889.2 554.1 L894.4 554.1 L899.5 554.1 L904.7 554.1 L909.9 554.1 L915.0 554.1 L920.2 554.1 L925.4 554.1 L930.5 554.1 L935.7 554.1 L940.9 554.0 L946.0 554.0 L951.2 554.0 L956.4 554.0 L961.5 554.0 L966.7 553.9 L971.8 553.9 L977.0 553.8 L982.2 553.8 L987.3 553.7 L992.5 553.7 L997.7 553.6 L1002.8 553.5 L1008.0 553.4" fill="none" stroke="#0a760a" stroke-width="2.2" stroke-linejoin="round"/>
<path d="M703.3 546.9L717.7 561.3M703.3 561.3L717.7 546.9" stroke="#4d9bff" stroke-width="1.9" fill="none"/>
<path d="M752.9 546.9L767.3 561.3M752.9 561.3L767.3 546.9" stroke="#4d9bff" stroke-width="1.9" fill="none"/>
<path d="M802.5 546.9L816.9 561.3M802.5 561.3L816.9 546.9" stroke="#4d9bff" stroke-width="1.9" fill="none"/>
<path d="M852.0 546.9L866.5 561.3M852.0 561.3L866.5 546.9" stroke="#4d9bff" stroke-width="1.9" fill="none"/>
<path d="M901.6 546.9L916.0 561.3M901.6 561.3L916.0 546.9" stroke="#4d9bff" stroke-width="1.9" fill="none"/>
<path d="M951.2 546.9L965.6 561.3M951.2 561.3L965.6 546.9" stroke="#4d9bff" stroke-width="1.9" fill="none"/>
<path d="M1000.8 546.9L1015.2 561.3M1000.8 561.3L1015.2 546.9" stroke="#4d9bff" stroke-width="1.9" fill="none"/>
<polygon points="710.5,545.7 712.6,551.2 718.5,551.5 713.9,555.2 715.4,560.9 710.5,557.6 705.6,560.9 707.1,555.2 702.5,551.5 708.4,551.2" fill="#0a0aff"/>
<polygon points="760.1,545.7 762.2,551.2 768.1,551.5 763.4,555.2 765.0,560.9 760.1,557.6 755.1,560.9 756.7,555.2 752.1,551.5 758.0,551.2" fill="#0a0aff"/>
<polygon points="809.7,545.7 811.7,551.2 817.7,551.5 813.0,555.2 814.6,560.9 809.7,557.6 804.7,560.9 806.3,555.2 801.7,551.5 807.6,551.2" fill="#0a0aff"/>
<polygon points="859.2,545.7 861.3,551.2 867.2,551.5 862.6,555.2 864.2,560.9 859.2,557.6 854.3,560.9 855.9,555.2 851.3,551.5 857.2,551.2" fill="#0a0aff"/>
<polygon points="908.8,545.7 910.9,551.2 916.8,551.5 912.2,555.2 913.8,560.9 908.8,557.6 903.9,560.9 905.5,555.2 900.8,551.5 906.8,551.2" fill="#0a0aff"/>
<polygon points="958.4,545.7 960.5,551.2 966.4,551.5 961.8,555.2 963.4,560.9 958.4,557.6 953.5,560.9 955.1,555.2 950.4,551.5 956.3,551.2" fill="#0a0aff"/>
<polygon points="1008.0,545.7 1010.1,551.2 1016.0,551.5 1011.4,555.2 1012.9,560.9 1008.0,557.6 1003.1,560.9 1004.6,555.2 1000.0,551.5 1005.9,551.2" fill="#0a0aff"/>
<circle cx="710.5" cy="554.1" r="7.0" fill="none" stroke="#0c0cb4" stroke-width="2.0"/>
<circle cx="760.1" cy="554.1" r="7.0" fill="none" stroke="#0c0cb4" stroke-width="2.0"/>
<circle cx="809.7" cy="554.1" r="7.0" fill="none" stroke="#0c0cb4" stroke-width="2.0"/>
<circle cx="859.2" cy="554.1" r="7.0" fill="none" stroke="#0c0cb4" stroke-width="2.0"/>
<circle cx="908.8" cy="554.1" r="7.0" fill="none" stroke="#0c0cb4" stroke-width="2.0"/>
<circle cx="958.4" cy="554.1" r="7.0" fill="none" stroke="#0c0cb4" stroke-width="2.0"/>
<circle cx="1008.0" cy="554.1" r="7.0" fill="none" stroke="#0c0cb4" stroke-width="2.0"/>
<polygon points="760.1,561.0 753.0,547.2 767.2,547.2" fill="none" stroke="#19f019" stroke-width="2.3"/>
<polygon points="809.7,561.0 802.6,547.2 816.8,547.2" fill="none" stroke="#19f019" stroke-width="2.3"/>
<polygon points="859.2,561.0 852.1,547.2 866.4,547.2" fill="none" stroke="#19f019" stroke-width="2.3"/>
<polygon points="908.8,561.0 901.7,547.2 915.9,547.2" fill="none" stroke="#19f019" stroke-width="2.3"/>
<polygon points="958.4,561.0 951.3,547.2 965.5,547.2" fill="none" stroke="#19f019" stroke-width="2.3"/>
<polygon points="1008.0,561.0 1000.9,547.2 1015.1,547.2" fill="none" stroke="#19f019" stroke-width="2.3"/>
<polygon points="760.1,547.2 753.0,561.0 767.2,561.0" fill="none" stroke="#0a760a" stroke-width="2.3"/>
<polygon points="809.7,547.2 802.6,561.0 816.8,561.0" fill="none" stroke="#0a760a" stroke-width="2.3"/>
<polygon points="859.2,547.2 852.1,561.0 866.4,561.0" fill="none" stroke="#0a760a" stroke-width="2.3"/>
<polygon points="908.8,547.2 901.7,561.0 915.9,561.0" fill="none" stroke="#0a760a" stroke-width="2.3"/>
<polygon points="958.4,547.2 951.3,561.0 965.5,561.0" fill="none" stroke="#0a760a" stroke-width="2.3"/>
<polygon points="1008.0,547.2 1000.9,561.0 1015.1,561.0" fill="none" stroke="#0a760a" stroke-width="2.3"/>
<rect x="753.1" y="547.1" width="14.0" height="14.0" fill="none" stroke="#0a760a" stroke-width="2.1"/>
<rect x="802.7" y="547.1" width="14.0" height="14.0" fill="none" stroke="#0a760a" stroke-width="2.1"/>
<rect x="852.2" y="547.1" width="14.0" height="14.0" fill="none" stroke="#0a760a" stroke-width="2.1"/>
<rect x="901.8" y="547.1" width="14.0" height="14.0" fill="none" stroke="#0a760a" stroke-width="2.1"/>
<rect x="951.4" y="547.1" width="14.0" height="14.0" fill="none" stroke="#0a760a" stroke-width="2.1"/>
<rect x="1001.0" y="546.1" width="14.0" height="14.0" fill="none" stroke="#0a760a" stroke-width="2.1"/>
<path d="M211.0 659.0V866.8M210.0 860.3H509.7" stroke="#000" stroke-width="2.2" fill="none"/>
<path d="M204.7 860.3H211.0M204.7 826.9H211.0M204.7 793.5H211.0M204.7 760.1H211.0M204.7 726.8H211.0M204.7 693.4H211.0M204.7 660.0H211.0M211.0 860.3V866.8M260.6 860.3V866.8M310.2 860.3V866.8M359.9 860.3V866.8M409.5 860.3V866.8M459.1 860.3V866.8M508.7 860.3V866.8" stroke="#000" stroke-width="2.2" fill="none"/>
<text x="203.00" y="866.50" font-size="16.5" font-weight="bold" text-anchor="end">0</text>
<text x="203.00" y="833.12" font-size="16.5" font-weight="bold" text-anchor="end">200000</text>
<text x="203.00" y="799.73" font-size="16.5" font-weight="bold" text-anchor="end">400000</text>
<text x="203.00" y="766.35" font-size="16.5" font-weight="bold" text-anchor="end">600000</text>
<text x="203.00" y="732.97" font-size="16.5" font-weight="bold" text-anchor="end">800000</text>
<text x="203.00" y="699.58" font-size="16.5" font-weight="bold" text-anchor="end">1000000</text>
<text x="203.00" y="666.20" font-size="16.5" font-weight="bold" text-anchor="end">1200000</text>
<text x="211.00" y="884.80" font-size="16" font-weight="bold" text-anchor="middle">-13</text>
<text x="260.62" y="884.80" font-size="16" font-weight="bold" text-anchor="middle">-12</text>
<text x="310.23" y="884.80" font-size="16" font-weight="bold" text-anchor="middle">-11</text>
<text x="359.85" y="884.80" font-size="16" font-weight="bold" text-anchor="middle">-10</text>
<text x="409.47" y="884.80" font-size="16" font-weight="bold" text-anchor="middle">-9</text>
<text x="459.08" y="884.80" font-size="16" font-weight="bold" text-anchor="middle">-8</text>
<text x="508.70" y="884.80" font-size="16" font-weight="bold" text-anchor="middle">-7</text>
<text x="361.05" y="907.20" font-size="16.6" font-weight="bold" text-anchor="middle">Log [M]</text>
<text font-size="16.35" font-weight="bold" transform="translate(126.2 856.3) rotate(-90)">Luciferase Activity (RLU)</text>
<text font-size="23.63" font-weight="bold" transform="translate(75.64 918.16) rotate(-90)">HEK293+ASGR1+ASGR2</text>
<path d="M211.0 851.4 L217.2 851.4 L223.4 851.4 L229.6 851.4 L235.8 851.4 L242.0 851.4 L248.2 851.4 L254.4 851.4 L260.6 851.4 L266.8 851.4 L273.0 851.3 L279.2 851.3 L285.4 851.2 L291.6 851.1 L297.8 851.0 L304.0 850.8 L310.2 850.5 L316.4 850.1 L322.6 849.6 L328.8 848.9 L335.0 847.9 L341.2 846.5 L347.4 844.7 L353.6 842.2 L359.9 838.8 L366.1 834.4 L372.3 828.6 L378.5 821.2 L384.7 812.1 L390.9 801.2 L397.1 788.8 L403.3 775.4 L409.5 761.4 L415.7 747.8 L421.9 735.1 L428.1 723.9 L434.3 714.5 L440.5 706.8 L446.7 700.7 L452.9 696.0 L459.1 692.4 L465.3 689.7 L471.5 687.8 L477.7 686.3 L483.9 685.3 L490.1 684.5 L496.3 684.0 L502.5 683.6 L508.7 683.3" fill="none" stroke="#0c0cb4" stroke-width="2.2" stroke-linejoin="round"/>
<path d="M211.0 860.3 L217.2 860.3 L223.4 860.3 L229.6 860.3 L235.8 860.3 L242.0 860.3 L248.2 860.3 L254.4 860.3 L260.6 860.3 L266.8 860.3 L273.0 860.3 L279.2 860.3 L285.4 860.3 L291.6 860.3 L297.8 860.2 L304.0 860.2 L310.2 860.2 L316.4 860.1 L322.6 860.1 L328.8 860.0 L335.0 859.9 L341.2 859.8 L347.4 859.7 L353.6 859.4 L359.9 859.2 L366.1 858.8 L372.3 858.3 L378.5 857.7 L384.7 856.8 L390.9 855.8 L397.1 854.4 L403.3 852.7 L409.5 850.6 L415.7 848.0 L421.9 845.0 L428.1 841.5 L434.3 837.7 L440.5 833.6 L446.7 829.4 L452.9 825.3 L459.1 821.4 L465.3 817.8 L471.5 814.7 L477.7 812.1 L483.9 809.9 L490.1 808.1 L496.3 806.7 L502.5 805.5 L508.7 804.7" fill="none" stroke="#0a0aff" stroke-width="2.2" stroke-linejoin="round"/>
<path d="M260.6 860.3 L265.8 860.3 L271.0 860.3 L276.1 860.3 L281.3 860.3 L286.5 860.3 L291.6 860.3 L296.8 860.3 L302.0 860.3 L307.1 860.3 L312.3 860.3 L317.5 860.3 L322.6 860.3 L327.8 860.3 L333.0 860.3 L338.1 860.3 L343.3 860.3 L348.5 860.3 L353.6 860.3 L358.8 860.3 L364.0 860.3 L369.2 860.3 L374.3 860.3 L379.5 860.3 L384.7 860.3 L389.8 860.3 L395.0 860.3 L400.2 860.2 L405.3 860.2 L410.5 860.2 L415.7 860.2 L420.8 860.2 L426.0 860.2 L431.2 860.1 L436.3 860.1 L441.5 860.0 L446.7 860.0 L451.8 860.0 L457.0 859.9 L462.2 859.9 L467.4 859.8 L472.5 859.8 L477.7 859.7 L482.9 859.7 L488.0 859.6 L493.2 859.6 L498.4 859.6 L503.5 859.6 L508.7 859.5" fill="none" stroke="#19f019" stroke-width="2.2" stroke-linejoin="round"/>
<path d="M260.6 860.3 L265.8 860.3 L271.0 860.3 L276.1 860.3 L281.3 860.3 L286.5 860.3 L291.6 860.3 L296.8 860.3 L302.0 860.3 L307.1 860.3 L312.3 860.3 L317.5 860.3 L322.6 860.3 L327.8 860.3 L333.0 860.3 L338.1 860.3 L343.3 860.3 L348.5 860.3 L353.6 860.3 L358.8 860.3 L364.0 860.3 L369.2 860.3 L374.3 860.3 L379.5 860.3 L384.7 860.3 L389.8 860.3 L395.0 860.3 L400.2 860.3 L405.3 860.3 L410.5 860.3 L415.7 860.2 L420.8 860.2 L426.0 860.2 L431.2 860.2 L436.3 860.1 L441.5 860.1 L446.7 860.0 L451.8 859.9 L457.0 859.8 L462.2 859.6 L467.4 859.4 L472.5 859.1 L477.7 858.8 L482.9 858.4 L488.0 857.9 L493.2 857.3 L498.4 856.7 L503.5 856.0 L508.7 855.3" fill="none" stroke="#0a760a" stroke-width="2.2" stroke-linejoin="round"/>
<path d="M260.6 860.3 L265.8 860.3 L271.0 860.3 L276.1 860.3 L281.3 860.3 L286.5 860.3 L291.6 860.3 L296.8 860.3 L302.0 860.3 L307.1 860.2 L312.3 860.2 L317.5 860.2 L322.6 860.2 L327.8 860.1 L333.0 860.1 L338.1 860.0 L343.3 859.9 L348.5 859.7 L353.6 859.5 L358.8 859.2 L364.0 858.7 L369.2 858.2 L374.3 857.4 L379.5 856.4 L384.7 855.0 L389.8 853.2 L395.0 850.7 L400.2 847.5 L405.3 843.2 L410.5 837.8 L415.7 831.0 L420.8 822.7 L426.0 812.7 L431.2 801.4 L436.3 788.9 L441.5 775.7 L446.7 762.5 L451.8 749.9 L457.0 738.5 L462.2 728.4 L467.4 719.9 L472.5 713.0 L477.7 707.5 L482.9 703.2 L488.0 699.9 L493.2 697.3 L498.4 695.5 L503.5 694.0 L508.7 693.0" fill="none" stroke="#0a760a" stroke-width="2.2" stroke-linejoin="round"/>
<path d="M203.8 853.1L218.2 867.5M203.8 867.5L218.2 853.1" stroke="#4d9bff" stroke-width="1.9" fill="none"/>
<path d="M253.4 853.1L267.8 867.5M253.4 867.5L267.8 853.1" stroke="#4d9bff" stroke-width="1.9" fill="none"/>
<path d="M303.0 853.1L317.4 867.5M303.0 867.5L317.4 853.1" stroke="#4d9bff" stroke-width="1.9" fill="none"/>
<path d="M352.6 853.1L367.1 867.5M352.6 867.5L367.1 853.1" stroke="#4d9bff" stroke-width="1.9" fill="none"/>
<path d="M402.3 853.1L416.7 867.5M402.3 867.5L416.7 853.1" stroke="#4d9bff" stroke-width="1.9" fill="none"/>
<path d="M451.9 853.1L466.3 867.5M451.9 867.5L466.3 853.1" stroke="#4d9bff" stroke-width="1.9" fill="none"/>
<path d="M501.5 853.1L515.9 867.5M501.5 867.5L515.9 853.1" stroke="#4d9bff" stroke-width="1.9" fill="none"/>
<polygon points="211.0,851.9 213.1,857.4 219.0,857.7 214.4,861.4 215.9,867.1 211.0,863.8 206.1,867.1 207.6,861.4 203.0,857.7 208.9,857.4" fill="#0a0aff"/>
<polygon points="260.6,851.9 262.7,857.4 268.6,857.7 264.0,861.4 265.6,867.1 260.6,863.8 255.7,867.1 257.3,861.4 252.6,857.7 258.5,857.4" fill="#0a0aff"/>
<polygon points="310.2,851.9 312.3,857.4 318.2,857.7 313.6,861.4 315.2,867.1 310.2,863.8 305.3,867.1 306.9,861.4 302.2,857.7 308.2,857.4" fill="#0a0aff"/>
<polygon points="359.9,851.9 361.9,857.4 367.8,857.7 363.2,861.4 364.8,867.1 359.9,863.8 354.9,867.1 356.5,861.4 351.9,857.7 357.8,857.4" fill="#0a0aff"/>
<polygon points="409.5,839.7 411.5,845.3 417.5,845.5 412.8,849.2 414.4,854.9 409.5,851.6 404.5,854.9 406.1,849.2 401.5,845.5 407.4,845.3" fill="#0a0aff"/>
<polygon points="459.1,816.7 461.2,822.2 467.1,822.5 462.4,826.2 464.0,831.9 459.1,828.6 454.1,831.9 455.7,826.2 451.1,822.5 457.0,822.2" fill="#0a0aff"/>
<polygon points="508.7,797.5 510.8,803.0 516.7,803.3 512.1,807.0 513.6,812.7 508.7,809.4 503.8,812.7 505.3,807.0 500.7,803.3 506.6,803.0" fill="#0a0aff"/>
<circle cx="211.0" cy="860.3" r="7.0" fill="none" stroke="#0c0cb4" stroke-width="2.0"/>
<circle cx="260.6" cy="860.3" r="7.0" fill="none" stroke="#0c0cb4" stroke-width="2.0"/>
<circle cx="310.2" cy="843.9" r="7.0" fill="none" stroke="#0c0cb4" stroke-width="2.0"/>
<circle cx="359.9" cy="815.6" r="7.0" fill="none" stroke="#0c0cb4" stroke-width="2.0"/>
<circle cx="409.5" cy="768.2" r="7.0" fill="none" stroke="#0c0cb4" stroke-width="2.0"/>
<path d="M459.1 714.2V690.0M452.1 714.2h14M452.1 690.0h14" stroke="#0c0cb4" stroke-width="2.2" fill="none"/>
<circle cx="459.1" cy="702.6" r="7.0" fill="none" stroke="#0c0cb4" stroke-width="2.0"/>
<path d="M508.7 691.7V668.3M501.7 691.7h14M501.7 668.3h14" stroke="#0c0cb4" stroke-width="2.2" fill="none"/>
<circle cx="508.7" cy="680.2" r="7.0" fill="none" stroke="#0c0cb4" stroke-width="2.0"/>
<polygon points="260.6,867.2 253.5,853.4 267.7,853.4" fill="none" stroke="#19f019" stroke-width="2.3"/>
<polygon points="310.2,867.2 303.1,853.4 317.3,853.4" fill="none" stroke="#19f019" stroke-width="2.3"/>
<polygon points="359.9,867.2 352.8,853.4 367.0,853.4" fill="none" stroke="#19f019" stroke-width="2.3"/>
<polygon points="409.5,867.2 402.4,853.4 416.6,853.4" fill="none" stroke="#19f019" stroke-width="2.3"/>
<polygon points="459.1,867.2 452.0,853.4 466.2,853.4" fill="none" stroke="#19f019" stroke-width="2.3"/>
<polygon points="508.7,867.2 501.6,853.4 515.8,853.4" fill="none" stroke="#19f019" stroke-width="2.3"/>
<polygon points="260.6,853.4 253.5,867.2 267.7,867.2" fill="none" stroke="#0a760a" stroke-width="2.3"/>
<polygon points="310.2,853.4 303.1,867.2 317.3,867.2" fill="none" stroke="#0a760a" stroke-width="2.3"/>
<polygon points="359.9,853.4 352.8,867.2 367.0,867.2" fill="none" stroke="#0a760a" stroke-width="2.3"/>
<polygon points="409.5,853.4 402.4,867.2 416.6,867.2" fill="none" stroke="#0a760a" stroke-width="2.3"/>
<polygon points="459.1,853.4 452.0,867.2 466.2,867.2" fill="none" stroke="#0a760a" stroke-width="2.3"/>
<polygon points="508.7,847.1 501.6,860.9 515.8,860.9" fill="none" stroke="#0a760a" stroke-width="2.3"/>
<rect x="253.6" y="853.3" width="14.0" height="14.0" fill="none" stroke="#0a760a" stroke-width="2.1"/>
<rect x="303.2" y="853.3" width="14.0" height="14.0" fill="none" stroke="#0a760a" stroke-width="2.1"/>
<rect x="352.9" y="853.3" width="14.0" height="14.0" fill="none" stroke="#0a760a" stroke-width="2.1"/>
<rect x="402.5" y="827.4" width="14.0" height="14.0" fill="none" stroke="#0a760a" stroke-width="2.1"/>
<path d="M459.1 754.3V713.4M452.1 754.3h14M452.1 713.4h14" stroke="#0a760a" stroke-width="2.2" fill="none"/>
<rect x="452.1" y="726.9" width="14.0" height="14.0" fill="none" stroke="#0a760a" stroke-width="2.1"/>
<path d="M508.7 720.1V676.7M501.7 720.1h14M501.7 676.7h14" stroke="#0a760a" stroke-width="2.2" fill="none"/>
<rect x="501.7" y="691.7" width="14.0" height="14.0" fill="none" stroke="#0a760a" stroke-width="2.1"/>
<path d="M710.8 658.7V866.3M709.8 859.8H1010.7" stroke="#000" stroke-width="2.2" fill="none"/>
<path d="M704.5 859.8H710.8M704.5 826.4H710.8M704.5 793.1H710.8M704.5 759.8H710.8M704.5 726.4H710.8M704.5 693.1H710.8M704.5 659.7H710.8M710.8 859.8V866.3M760.6 859.8V866.3M810.4 859.8V866.3M860.2 859.8V866.3M910.1 859.8V866.3M959.9 859.8V866.3M1009.7 859.8V866.3" stroke="#000" stroke-width="2.2" fill="none"/>
<text x="702.80" y="866.00" font-size="16.5" font-weight="bold" text-anchor="end">0</text>
<text x="702.80" y="832.65" font-size="16.5" font-weight="bold" text-anchor="end">200000</text>
<text x="702.80" y="799.30" font-size="16.5" font-weight="bold" text-anchor="end">400000</text>
<text x="702.80" y="765.95" font-size="16.5" font-weight="bold" text-anchor="end">600000</text>
<text x="702.80" y="732.60" font-size="16.5" font-weight="bold" text-anchor="end">800000</text>
<text x="702.80" y="699.25" font-size="16.5" font-weight="bold" text-anchor="end">1000000</text>
<text x="702.80" y="665.90" font-size="16.5" font-weight="bold" text-anchor="end">1200000</text>
<text x="710.80" y="884.30" font-size="16" font-weight="bold" text-anchor="middle">-13</text>
<text x="760.62" y="884.30" font-size="16" font-weight="bold" text-anchor="middle">-12</text>
<text x="810.43" y="884.30" font-size="16" font-weight="bold" text-anchor="middle">-11</text>
<text x="860.25" y="884.30" font-size="16" font-weight="bold" text-anchor="middle">-10</text>
<text x="910.07" y="884.30" font-size="16" font-weight="bold" text-anchor="middle">-9</text>
<text x="959.88" y="884.30" font-size="16" font-weight="bold" text-anchor="middle">-8</text>
<text x="1009.70" y="884.30" font-size="16" font-weight="bold" text-anchor="middle">-7</text>
<text x="861.45" y="906.70" font-size="16.6" font-weight="bold" text-anchor="middle">Log [M]</text>
<text font-size="16.35" font-weight="bold" transform="translate(627.6 856.2) rotate(-90)">Luciferase Activity (RLU)</text>
<path d="M710.8 859.8 L717.0 859.8 L723.3 859.8 L729.5 859.8 L735.7 859.8 L741.9 859.8 L748.2 859.8 L754.4 859.8 L760.6 859.8 L766.8 859.8 L773.1 859.8 L779.3 859.8 L785.5 859.8 L791.8 859.8 L798.0 859.8 L804.2 859.8 L810.4 859.8 L816.7 859.8 L822.9 859.8 L829.1 859.8 L835.3 859.8 L841.6 859.8 L847.8 859.8 L854.0 859.8 L860.2 859.8 L866.5 859.8 L872.7 859.8 L878.9 859.8 L885.2 859.8 L891.4 859.8 L897.6 859.8 L903.8 859.7 L910.1 859.7 L916.3 859.7 L922.5 859.7 L928.7 859.6 L935.0 859.6 L941.2 859.6 L947.4 859.5 L953.7 859.4 L959.9 859.4 L966.1 859.3 L972.3 859.3 L978.6 859.2 L984.8 859.2 L991.0 859.1 L997.2 859.1 L1003.5 859.1 L1009.7 859.0" fill="none" stroke="#0c0cb4" stroke-width="2.2" stroke-linejoin="round"/>
<path d="M710.8 859.8 L717.0 859.8 L723.3 859.8 L729.5 859.8 L735.7 859.8 L741.9 859.8 L748.2 859.8 L754.4 859.8 L760.6 859.8 L766.8 859.8 L773.1 859.8 L779.3 859.8 L785.5 859.8 L791.8 859.8 L798.0 859.8 L804.2 859.8 L810.4 859.8 L816.7 859.8 L822.9 859.8 L829.1 859.8 L835.3 859.8 L841.6 859.8 L847.8 859.8 L854.0 859.8 L860.2 859.8 L866.5 859.8 L872.7 859.8 L878.9 859.8 L885.2 859.8 L891.4 859.8 L897.6 859.8 L903.8 859.8 L910.1 859.8 L916.3 859.8 L922.5 859.8 L928.7 859.8 L935.0 859.8 L941.2 859.7 L947.4 859.7 L953.7 859.7 L959.9 859.7 L966.1 859.6 L972.3 859.6 L978.6 859.5 L984.8 859.5 L991.0 859.4 L997.2 859.3 L1003.5 859.2 L1009.7 859.1" fill="none" stroke="#0a760a" stroke-width="2.2" stroke-linejoin="round"/>
<path d="M703.6 852.6L718.0 867.0M703.6 867.0L718.0 852.6" stroke="#4d9bff" stroke-width="1.9" fill="none"/>
<path d="M753.4 852.6L767.8 867.0M753.4 867.0L767.8 852.6" stroke="#4d9bff" stroke-width="1.9" fill="none"/>
<path d="M803.2 852.6L817.6 867.0M803.2 867.0L817.6 852.6" stroke="#4d9bff" stroke-width="1.9" fill="none"/>
<path d="M853.0 852.6L867.5 867.0M853.0 867.0L867.5 852.6" stroke="#4d9bff" stroke-width="1.9" fill="none"/>
<path d="M902.9 852.6L917.3 867.0M902.9 867.0L917.3 852.6" stroke="#4d9bff" stroke-width="1.9" fill="none"/>
<path d="M952.7 852.6L967.1 867.0M952.7 867.0L967.1 852.6" stroke="#4d9bff" stroke-width="1.9" fill="none"/>
<path d="M1002.5 852.6L1016.9 867.0M1002.5 867.0L1016.9 852.6" stroke="#4d9bff" stroke-width="1.9" fill="none"/>
<polygon points="710.8,851.4 712.9,856.9 718.8,857.2 714.2,860.9 715.7,866.6 710.8,863.3 705.9,866.6 707.4,860.9 702.8,857.2 708.7,856.9" fill="#0a0aff"/>
<polygon points="760.6,851.4 762.7,856.9 768.6,857.2 764.0,860.9 765.6,866.6 760.6,863.3 755.7,866.6 757.3,860.9 752.6,857.2 758.5,856.9" fill="#0a0aff"/>
<polygon points="810.4,851.4 812.5,856.9 818.4,857.2 813.8,860.9 815.4,866.6 810.4,863.3 805.5,866.6 807.1,860.9 802.4,857.2 808.4,856.9" fill="#0a0aff"/>
<polygon points="860.2,851.4 862.3,856.9 868.2,857.2 863.6,860.9 865.2,866.6 860.2,863.3 855.3,866.6 856.9,860.9 852.3,857.2 858.2,856.9" fill="#0a0aff"/>
<polygon points="910.1,851.4 912.1,856.9 918.1,857.2 913.4,860.9 915.0,866.6 910.1,863.3 905.1,866.6 906.7,860.9 902.1,857.2 908.0,856.9" fill="#0a0aff"/>
<polygon points="959.9,851.4 962.0,856.9 967.9,857.2 963.2,860.9 964.8,866.6 959.9,863.3 954.9,866.6 956.5,860.9 951.9,857.2 957.8,856.9" fill="#0a0aff"/>
<polygon points="1009.7,851.4 1011.8,856.9 1017.7,857.2 1013.1,860.9 1014.6,866.6 1009.7,863.3 1004.8,866.6 1006.3,860.9 1001.7,857.2 1007.6,856.9" fill="#0a0aff"/>
<circle cx="710.8" cy="859.8" r="7.0" fill="none" stroke="#0c0cb4" stroke-width="2.0"/>
<circle cx="760.6" cy="859.8" r="7.0" fill="none" stroke="#0c0cb4" stroke-width="2.0"/>
<circle cx="810.4" cy="859.8" r="7.0" fill="none" stroke="#0c0cb4" stroke-width="2.0"/>
<circle cx="860.2" cy="859.8" r="7.0" fill="none" stroke="#0c0cb4" stroke-width="2.0"/>
<circle cx="910.1" cy="859.8" r="7.0" fill="none" stroke="#0c0cb4" stroke-width="2.0"/>
<circle cx="959.9" cy="859.8" r="7.0" fill="none" stroke="#0c0cb4" stroke-width="2.0"/>
<circle cx="1009.7" cy="859.8" r="7.0" fill="none" stroke="#0c0cb4" stroke-width="2.0"/>
<polygon points="710.8,866.7 703.7,852.9 717.9,852.9" fill="none" stroke="#19f019" stroke-width="2.3"/>
<polygon points="760.6,866.7 753.5,852.9 767.7,852.9" fill="none" stroke="#19f019" stroke-width="2.3"/>
<polygon points="810.4,866.7 803.3,852.9 817.5,852.9" fill="none" stroke="#19f019" stroke-width="2.3"/>
<polygon points="860.2,866.7 853.1,852.9 867.4,852.9" fill="none" stroke="#19f019" stroke-width="2.3"/>
<polygon points="910.1,866.7 903.0,852.9 917.2,852.9" fill="none" stroke="#19f019" stroke-width="2.3"/>
<polygon points="959.9,866.7 952.8,852.9 967.0,852.9" fill="none" stroke="#19f019" stroke-width="2.3"/>
<polygon points="1009.7,866.7 1002.6,852.9 1016.8,852.9" fill="none" stroke="#19f019" stroke-width="2.3"/>
<polygon points="710.8,852.9 703.7,866.7 717.9,866.7" fill="none" stroke="#0a760a" stroke-width="2.3"/>
<polygon points="760.6,852.9 753.5,866.7 767.7,866.7" fill="none" stroke="#0a760a" stroke-width="2.3"/>
<polygon points="810.4,852.9 803.3,866.7 817.5,866.7" fill="none" stroke="#0a760a" stroke-width="2.3"/>
<polygon points="860.2,852.9 853.1,866.7 867.4,866.7" fill="none" stroke="#0a760a" stroke-width="2.3"/>
<polygon points="910.1,852.9 903.0,866.7 917.2,866.7" fill="none" stroke="#0a760a" stroke-width="2.3"/>
<polygon points="959.9,852.9 952.8,866.7 967.0,866.7" fill="none" stroke="#0a760a" stroke-width="2.3"/>
<polygon points="1009.7,852.9 1002.6,866.7 1016.8,866.7" fill="none" stroke="#0a760a" stroke-width="2.3"/>
<rect x="703.8" y="852.8" width="14.0" height="14.0" fill="none" stroke="#0a760a" stroke-width="2.1"/>
<rect x="753.6" y="852.8" width="14.0" height="14.0" fill="none" stroke="#0a760a" stroke-width="2.1"/>
<rect x="803.4" y="852.8" width="14.0" height="14.0" fill="none" stroke="#0a760a" stroke-width="2.1"/>
<rect x="853.2" y="852.8" width="14.0" height="14.0" fill="none" stroke="#0a760a" stroke-width="2.1"/>
<rect x="903.1" y="852.8" width="14.0" height="14.0" fill="none" stroke="#0a760a" stroke-width="2.1"/>
<rect x="952.9" y="852.8" width="14.0" height="14.0" fill="none" stroke="#0a760a" stroke-width="2.1"/>
<rect x="1002.7" y="851.8" width="14.0" height="14.0" fill="none" stroke="#0a760a" stroke-width="2.1"/>
<path d="M214.0 1039.1V1246.5M213.0 1240.0H513.3" stroke="#000" stroke-width="2.2" fill="none"/>
<path d="M207.7 1240.0H214.0M207.7 1206.7H214.0M207.7 1173.4H214.0M207.7 1140.0H214.0M207.7 1106.7H214.0M207.7 1073.4H214.0M207.7 1040.1H214.0M214.0 1240.0V1246.5M263.7 1240.0V1246.5M313.4 1240.0V1246.5M363.1 1240.0V1246.5M412.9 1240.0V1246.5M462.6 1240.0V1246.5M512.3 1240.0V1246.5" stroke="#000" stroke-width="2.2" fill="none"/>
<text x="204.40" y="1246.60" font-size="16.5" font-weight="bold" text-anchor="end">0</text>
<text x="197.60" y="1213.18" font-size="16.6" font-weight="bold" text-anchor="end">1×10</text>
<text x="200.00" y="1207.78" font-size="10.6" font-weight="bold">7</text>
<text x="197.60" y="1179.87" font-size="16.6" font-weight="bold" text-anchor="end">2×10</text>
<text x="200.00" y="1174.47" font-size="10.6" font-weight="bold">7</text>
<text x="197.60" y="1146.55" font-size="16.6" font-weight="bold" text-anchor="end">3×10</text>
<text x="200.00" y="1141.15" font-size="10.6" font-weight="bold">7</text>
<text x="197.60" y="1113.23" font-size="16.6" font-weight="bold" text-anchor="end">4×10</text>
<text x="200.00" y="1107.83" font-size="10.6" font-weight="bold">7</text>
<text x="197.60" y="1079.92" font-size="16.6" font-weight="bold" text-anchor="end">5×10</text>
<text x="200.00" y="1074.52" font-size="10.6" font-weight="bold">7</text>
<text x="197.60" y="1046.60" font-size="16.6" font-weight="bold" text-anchor="end">6×10</text>
<text x="200.00" y="1041.20" font-size="10.6" font-weight="bold">7</text>
<text x="214.00" y="1264.50" font-size="16" font-weight="bold" text-anchor="middle">-13</text>
<text x="263.72" y="1264.50" font-size="16" font-weight="bold" text-anchor="middle">-12</text>
<text x="313.43" y="1264.50" font-size="16" font-weight="bold" text-anchor="middle">-11</text>
<text x="363.15" y="1264.50" font-size="16" font-weight="bold" text-anchor="middle">-10</text>
<text x="412.87" y="1264.50" font-size="16" font-weight="bold" text-anchor="middle">-9</text>
<text x="462.58" y="1264.50" font-size="16" font-weight="bold" text-anchor="middle">-8</text>
<text x="512.30" y="1264.50" font-size="16" font-weight="bold" text-anchor="middle">-7</text>
<text x="364.35" y="1288.10" font-size="16.6" font-weight="bold" text-anchor="middle">Log [M]</text>
<text font-size="16.35" font-weight="bold" transform="translate(149.1 1236.6) rotate(-90)">Luciferase Activity (RLU)</text>
<text font-size="23.07" font-weight="bold" transform="translate(75.55 1223.15) rotate(-90)">A431+TFR1</text>
<path d="M214.0 1232.7 L220.2 1232.7 L226.4 1232.7 L232.6 1232.7 L238.9 1232.7 L245.1 1232.7 L251.3 1232.7 L257.5 1232.7 L263.7 1232.7 L269.9 1232.7 L276.1 1232.7 L282.4 1232.7 L288.6 1232.7 L294.8 1232.7 L301.0 1232.7 L307.2 1232.7 L313.4 1232.7 L319.6 1232.7 L325.9 1232.7 L332.1 1232.7 L338.3 1232.7 L344.5 1232.7 L350.7 1232.7 L356.9 1232.7 L363.1 1232.7 L369.4 1232.6 L375.6 1232.6 L381.8 1232.6 L388.0 1232.6 L394.2 1232.6 L400.4 1232.6 L406.7 1232.5 L412.9 1232.5 L419.1 1232.4 L425.3 1232.4 L431.5 1232.3 L437.7 1232.1 L443.9 1232.0 L450.2 1231.8 L456.4 1231.5 L462.6 1231.2 L468.8 1230.9 L475.0 1230.5 L481.2 1230.1 L487.4 1229.7 L493.7 1229.2 L499.9 1228.8 L506.1 1228.5 L512.3 1228.1" fill="none" stroke="#4d9bff" stroke-width="2.2" stroke-linejoin="round"/>
<path d="M214.0 1232.7 L220.2 1232.7 L226.4 1232.7 L232.6 1232.7 L238.9 1232.7 L245.1 1232.6 L251.3 1232.6 L257.5 1232.6 L263.7 1232.6 L269.9 1232.6 L276.1 1232.6 L282.4 1232.5 L288.6 1232.5 L294.8 1232.4 L301.0 1232.3 L307.2 1232.1 L313.4 1231.9 L319.6 1231.6 L325.9 1231.3 L332.1 1230.7 L338.3 1230.0 L344.5 1229.1 L350.7 1227.8 L356.9 1226.0 L363.1 1223.7 L369.4 1220.6 L375.6 1216.5 L381.8 1211.2 L388.0 1204.5 L394.2 1196.2 L400.4 1186.3 L406.7 1174.7 L412.9 1161.9 L419.1 1148.3 L425.3 1134.6 L431.5 1121.4 L437.7 1109.3 L443.9 1098.7 L450.2 1089.7 L456.4 1082.4 L462.6 1076.6 L468.8 1072.0 L475.0 1068.5 L481.2 1065.9 L487.4 1063.9 L493.7 1062.5 L499.9 1061.4 L506.1 1060.6 L512.3 1060.0" fill="none" stroke="#0c0cb4" stroke-width="2.2" stroke-linejoin="round"/>
<path d="M214.0 1232.7 L220.2 1232.7 L226.4 1232.7 L232.6 1232.7 L238.9 1232.7 L245.1 1232.7 L251.3 1232.7 L257.5 1232.7 L263.7 1232.7 L269.9 1232.7 L276.1 1232.7 L282.4 1232.7 L288.6 1232.7 L294.8 1232.7 L301.0 1232.7 L307.2 1232.7 L313.4 1232.7 L319.6 1232.7 L325.9 1232.7 L332.1 1232.7 L338.3 1232.7 L344.5 1232.7 L350.7 1232.7 L356.9 1232.6 L363.1 1232.6 L369.4 1232.6 L375.6 1232.6 L381.8 1232.6 L388.0 1232.6 L394.2 1232.5 L400.4 1232.5 L406.7 1232.4 L412.9 1232.3 L419.1 1232.2 L425.3 1232.0 L431.5 1231.8 L437.7 1231.6 L443.9 1231.3 L450.2 1230.8 L456.4 1230.3 L462.6 1229.6 L468.8 1228.7 L475.0 1227.7 L481.2 1226.5 L487.4 1225.1 L493.7 1223.6 L499.9 1222.0 L506.1 1220.4 L512.3 1218.8" fill="none" stroke="#0a0aff" stroke-width="2.2" stroke-linejoin="round"/>
<path d="M263.7 1232.7 L268.9 1232.7 L274.1 1232.7 L279.3 1232.7 L284.4 1232.7 L289.6 1232.7 L294.8 1232.7 L300.0 1232.7 L305.1 1232.7 L310.3 1232.7 L315.5 1232.7 L320.7 1232.7 L325.9 1232.7 L331.0 1232.7 L336.2 1232.7 L341.4 1232.7 L346.6 1232.7 L351.8 1232.7 L356.9 1232.7 L362.1 1232.7 L367.3 1232.7 L372.5 1232.7 L377.7 1232.6 L382.8 1232.6 L388.0 1232.6 L393.2 1232.6 L398.4 1232.6 L403.5 1232.6 L408.7 1232.6 L413.9 1232.5 L419.1 1232.5 L424.3 1232.5 L429.4 1232.4 L434.6 1232.4 L439.8 1232.3 L445.0 1232.3 L450.2 1232.2 L455.3 1232.1 L460.5 1232.0 L465.7 1232.0 L470.9 1231.9 L476.0 1231.8 L481.2 1231.7 L486.4 1231.7 L491.6 1231.6 L496.8 1231.6 L501.9 1231.5 L507.1 1231.5 L512.3 1231.5" fill="none" stroke="#19f019" stroke-width="2.2" stroke-linejoin="round"/>
<path d="M263.7 1232.7 L268.9 1232.7 L274.1 1232.7 L279.3 1232.7 L284.4 1232.7 L289.6 1232.7 L294.8 1232.7 L300.0 1232.7 L305.1 1232.7 L310.3 1232.7 L315.5 1232.7 L320.7 1232.7 L325.9 1232.7 L331.0 1232.7 L336.2 1232.7 L341.4 1232.7 L346.6 1232.7 L351.8 1232.7 L356.9 1232.7 L362.1 1232.7 L367.3 1232.6 L372.5 1232.6 L377.7 1232.6 L382.8 1232.6 L388.0 1232.6 L393.2 1232.6 L398.4 1232.6 L403.5 1232.5 L408.7 1232.5 L413.9 1232.4 L419.1 1232.3 L424.3 1232.2 L429.4 1232.1 L434.6 1231.9 L439.8 1231.7 L445.0 1231.4 L450.2 1231.1 L455.3 1230.6 L460.5 1230.0 L465.7 1229.3 L470.9 1228.4 L476.0 1227.3 L481.2 1226.0 L486.4 1224.4 L491.6 1222.5 L496.8 1220.4 L501.9 1218.1 L507.1 1215.6 L512.3 1213.0" fill="none" stroke="#0a760a" stroke-width="2.2" stroke-linejoin="round"/>
<path d="M263.7 1232.6 L268.9 1232.6 L274.1 1232.6 L279.3 1232.6 L284.4 1232.5 L289.6 1232.5 L294.8 1232.5 L300.0 1232.4 L305.1 1232.3 L310.3 1232.2 L315.5 1232.0 L320.7 1231.9 L325.9 1231.6 L331.0 1231.3 L336.2 1230.9 L341.4 1230.3 L346.6 1229.7 L351.8 1228.8 L356.9 1227.6 L362.1 1226.2 L367.3 1224.3 L372.5 1221.9 L377.7 1218.9 L382.8 1215.2 L388.0 1210.6 L393.2 1205.1 L398.4 1198.4 L403.5 1190.7 L408.7 1181.8 L413.9 1171.9 L419.1 1161.3 L424.3 1150.3 L429.4 1139.1 L434.6 1128.3 L439.8 1118.1 L445.0 1108.9 L450.2 1100.6 L455.3 1093.5 L460.5 1087.6 L465.7 1082.6 L470.9 1078.5 L476.0 1075.3 L481.2 1072.7 L486.4 1070.6 L491.6 1069.0 L496.8 1067.7 L501.9 1066.8 L507.1 1066.0 L512.3 1065.4" fill="none" stroke="#0a760a" stroke-width="2.2" stroke-linejoin="round"/>
<path d="M206.8 1225.5L221.2 1239.9M206.8 1239.9L221.2 1225.5" stroke="#4d9bff" stroke-width="1.9" fill="none"/>
<path d="M256.5 1225.5L270.9 1239.9M256.5 1239.9L270.9 1225.5" stroke="#4d9bff" stroke-width="1.9" fill="none"/>
<path d="M306.2 1225.5L320.6 1239.9M306.2 1239.9L320.6 1225.5" stroke="#4d9bff" stroke-width="1.9" fill="none"/>
<path d="M355.9 1225.5L370.4 1239.9M355.9 1239.9L370.4 1225.5" stroke="#4d9bff" stroke-width="1.9" fill="none"/>
<path d="M405.7 1225.5L420.1 1239.9M405.7 1239.9L420.1 1225.5" stroke="#4d9bff" stroke-width="1.9" fill="none"/>
<path d="M455.4 1224.1L469.8 1238.6M455.4 1238.6L469.8 1224.1" stroke="#4d9bff" stroke-width="1.9" fill="none"/>
<path d="M505.1 1219.5L519.5 1233.9M505.1 1233.9L519.5 1219.5" stroke="#4d9bff" stroke-width="1.9" fill="none"/>
<polygon points="214.0,1224.3 216.1,1229.8 222.0,1230.1 217.4,1233.8 218.9,1239.5 214.0,1236.2 209.1,1239.5 210.6,1233.8 206.0,1230.1 211.9,1229.8" fill="#0a0aff"/>
<polygon points="263.7,1224.3 265.8,1229.8 271.7,1230.1 267.1,1233.8 268.7,1239.5 263.7,1236.2 258.8,1239.5 260.4,1233.8 255.7,1230.1 261.6,1229.8" fill="#0a0aff"/>
<polygon points="313.4,1224.3 315.5,1229.8 321.4,1230.1 316.8,1233.8 318.4,1239.5 313.4,1236.2 308.5,1239.5 310.1,1233.8 305.4,1230.1 311.4,1229.8" fill="#0a0aff"/>
<polygon points="363.1,1224.3 365.2,1229.8 371.1,1230.1 366.5,1233.8 368.1,1239.5 363.1,1236.2 358.2,1239.5 359.8,1233.8 355.2,1230.1 361.1,1229.8" fill="#0a0aff"/>
<polygon points="412.9,1224.3 414.9,1229.8 420.9,1230.1 416.2,1233.8 417.8,1239.5 412.9,1236.2 407.9,1239.5 409.5,1233.8 404.9,1230.1 410.8,1229.8" fill="#0a0aff"/>
<polygon points="462.6,1221.6 464.7,1227.2 470.6,1227.4 465.9,1231.1 467.5,1236.8 462.6,1233.5 457.6,1236.8 459.2,1231.1 454.6,1227.4 460.5,1227.2" fill="#0a0aff"/>
<polygon points="512.3,1209.9 514.4,1215.5 520.3,1215.7 515.7,1219.4 517.2,1225.1 512.3,1221.9 507.4,1225.1 508.9,1219.4 504.3,1215.7 510.2,1215.5" fill="#0a0aff"/>
<circle cx="214.0" cy="1232.7" r="7.0" fill="none" stroke="#0c0cb4" stroke-width="2.0"/>
<circle cx="263.7" cy="1232.7" r="7.0" fill="none" stroke="#0c0cb4" stroke-width="2.0"/>
<circle cx="313.4" cy="1232.3" r="7.0" fill="none" stroke="#0c0cb4" stroke-width="2.0"/>
<circle cx="363.1" cy="1224.0" r="7.0" fill="none" stroke="#0c0cb4" stroke-width="2.0"/>
<circle cx="412.9" cy="1167.4" r="7.0" fill="none" stroke="#0c0cb4" stroke-width="2.0"/>
<circle cx="462.6" cy="1087.4" r="7.0" fill="none" stroke="#0c0cb4" stroke-width="2.0"/>
<path d="M512.3 1066.8V1046.8M505.3 1066.8h14M505.3 1046.8h14" stroke="#0c0cb4" stroke-width="2.2" fill="none"/>
<circle cx="512.3" cy="1056.8" r="7.0" fill="none" stroke="#0c0cb4" stroke-width="2.0"/>
<polygon points="263.7,1239.6 256.6,1225.8 270.8,1225.8" fill="none" stroke="#19f019" stroke-width="2.3"/>
<polygon points="313.4,1239.6 306.3,1225.8 320.5,1225.8" fill="none" stroke="#19f019" stroke-width="2.3"/>
<polygon points="363.1,1239.6 356.0,1225.8 370.2,1225.8" fill="none" stroke="#19f019" stroke-width="2.3"/>
<polygon points="412.9,1239.6 405.8,1225.8 420.0,1225.8" fill="none" stroke="#19f019" stroke-width="2.3"/>
<polygon points="462.6,1239.2 455.5,1225.4 469.7,1225.4" fill="none" stroke="#19f019" stroke-width="2.3"/>
<polygon points="512.3,1238.6 505.2,1224.8 519.4,1224.8" fill="none" stroke="#19f019" stroke-width="2.3"/>
<polygon points="263.7,1225.8 256.6,1239.6 270.8,1239.6" fill="none" stroke="#0a760a" stroke-width="2.3"/>
<polygon points="313.4,1225.8 306.3,1239.6 320.5,1239.6" fill="none" stroke="#0a760a" stroke-width="2.3"/>
<polygon points="363.1,1225.8 356.0,1239.6 370.2,1239.6" fill="none" stroke="#0a760a" stroke-width="2.3"/>
<polygon points="412.9,1225.8 405.8,1239.6 420.0,1239.6" fill="none" stroke="#0a760a" stroke-width="2.3"/>
<polygon points="462.6,1221.4 455.5,1235.2 469.7,1235.2" fill="none" stroke="#0a760a" stroke-width="2.3"/>
<polygon points="512.3,1204.8 505.2,1218.6 519.4,1218.6" fill="none" stroke="#0a760a" stroke-width="2.3"/>
<rect x="256.7" y="1225.7" width="14.0" height="14.0" fill="none" stroke="#0a760a" stroke-width="2.1"/>
<rect x="306.4" y="1225.7" width="14.0" height="14.0" fill="none" stroke="#0a760a" stroke-width="2.1"/>
<rect x="356.1" y="1221.3" width="14.0" height="14.0" fill="none" stroke="#0a760a" stroke-width="2.1"/>
<rect x="405.9" y="1179.7" width="14.0" height="14.0" fill="none" stroke="#0a760a" stroke-width="2.1"/>
<rect x="455.6" y="1086.4" width="14.0" height="14.0" fill="none" stroke="#0a760a" stroke-width="2.1"/>
<rect x="505.3" y="1059.8" width="14.0" height="14.0" fill="none" stroke="#0a760a" stroke-width="2.1"/>
<path d="M713.2 1039.3V1246.7M712.2 1240.2H1011.9" stroke="#000" stroke-width="2.2" fill="none"/>
<path d="M706.9 1240.2H713.2M706.9 1206.9H713.2M706.9 1173.6H713.2M706.9 1140.2H713.2M706.9 1106.9H713.2M706.9 1073.6H713.2M706.9 1040.3H713.2M713.2 1240.2V1246.7M762.8 1240.2V1246.7M812.4 1240.2V1246.7M862.0 1240.2V1246.7M911.7 1240.2V1246.7M961.3 1240.2V1246.7M1010.9 1240.2V1246.7" stroke="#000" stroke-width="2.2" fill="none"/>
<text x="703.60" y="1246.80" font-size="16.5" font-weight="bold" text-anchor="end">0</text>
<text x="696.80" y="1213.38" font-size="16.6" font-weight="bold" text-anchor="end">1×10</text>
<text x="699.20" y="1207.98" font-size="10.6" font-weight="bold">7</text>
<text x="696.80" y="1180.07" font-size="16.6" font-weight="bold" text-anchor="end">2×10</text>
<text x="699.20" y="1174.67" font-size="10.6" font-weight="bold">7</text>
<text x="696.80" y="1146.75" font-size="16.6" font-weight="bold" text-anchor="end">3×10</text>
<text x="699.20" y="1141.35" font-size="10.6" font-weight="bold">7</text>
<text x="696.80" y="1113.43" font-size="16.6" font-weight="bold" text-anchor="end">4×10</text>
<text x="699.20" y="1108.03" font-size="10.6" font-weight="bold">7</text>
<text x="696.80" y="1080.12" font-size="16.6" font-weight="bold" text-anchor="end">5×10</text>
<text x="699.20" y="1074.72" font-size="10.6" font-weight="bold">7</text>
<text x="696.80" y="1046.80" font-size="16.6" font-weight="bold" text-anchor="end">6×10</text>
<text x="699.20" y="1041.40" font-size="10.6" font-weight="bold">7</text>
<text x="713.20" y="1264.70" font-size="16" font-weight="bold" text-anchor="middle">-13</text>
<text x="762.82" y="1264.70" font-size="16" font-weight="bold" text-anchor="middle">-12</text>
<text x="812.43" y="1264.70" font-size="16" font-weight="bold" text-anchor="middle">-11</text>
<text x="862.05" y="1264.70" font-size="16" font-weight="bold" text-anchor="middle">-10</text>
<text x="911.67" y="1264.70" font-size="16" font-weight="bold" text-anchor="middle">-9</text>
<text x="961.28" y="1264.70" font-size="16" font-weight="bold" text-anchor="middle">-8</text>
<text x="1010.90" y="1264.70" font-size="16" font-weight="bold" text-anchor="middle">-7</text>
<text x="863.25" y="1288.30" font-size="16.6" font-weight="bold" text-anchor="middle">Log [M]</text>
<text font-size="16.35" font-weight="bold" transform="translate(647.1 1233.4) rotate(-90)">Luciferase Activity(RLU)</text>
<path d="M713.2 1240.2 L719.4 1240.2 L725.6 1240.2 L731.8 1240.2 L738.0 1240.2 L744.2 1240.2 L750.4 1240.2 L756.6 1240.2 L762.8 1240.2 L769.0 1240.2 L775.2 1240.2 L781.4 1240.2 L787.6 1240.2 L793.8 1240.2 L800.0 1240.2 L806.2 1240.2 L812.4 1240.2 L818.6 1240.2 L824.8 1240.2 L831.0 1240.2 L837.2 1240.2 L843.4 1240.2 L849.6 1240.2 L855.8 1240.2 L862.0 1240.2 L868.3 1240.1 L874.5 1240.1 L880.7 1240.1 L886.9 1240.1 L893.1 1240.0 L899.3 1240.0 L905.5 1239.9 L911.7 1239.8 L917.9 1239.7 L924.1 1239.5 L930.3 1239.3 L936.5 1239.0 L942.7 1238.6 L948.9 1238.2 L955.1 1237.6 L961.3 1236.9 L967.5 1236.0 L973.7 1235.0 L979.9 1233.8 L986.1 1232.5 L992.3 1231.1 L998.5 1229.6 L1004.7 1228.2 L1010.9 1226.9" fill="none" stroke="#0c0cb4" stroke-width="2.2" stroke-linejoin="round"/>
<path d="M762.8 1240.2 L768.0 1240.2 L773.2 1240.2 L778.3 1240.2 L783.5 1240.2 L788.7 1240.2 L793.8 1240.2 L799.0 1240.2 L804.2 1240.2 L809.3 1240.2 L814.5 1240.2 L819.7 1240.2 L824.8 1240.2 L830.0 1240.2 L835.2 1240.2 L840.3 1240.2 L845.5 1240.2 L850.7 1240.2 L855.8 1240.2 L861.0 1240.2 L866.2 1240.2 L871.4 1240.2 L876.5 1240.2 L881.7 1240.2 L886.9 1240.2 L892.0 1240.2 L897.2 1240.2 L902.4 1240.1 L907.5 1240.1 L912.7 1240.1 L917.9 1240.1 L923.0 1240.1 L928.2 1240.0 L933.4 1240.0 L938.5 1239.9 L943.7 1239.9 L948.9 1239.8 L954.0 1239.8 L959.2 1239.7 L964.4 1239.7 L969.6 1239.6 L974.7 1239.5 L979.9 1239.5 L985.1 1239.4 L990.2 1239.4 L995.4 1239.4 L1000.6 1239.3 L1005.7 1239.3 L1010.9 1239.3" fill="none" stroke="#0a760a" stroke-width="2.2" stroke-linejoin="round"/>
<path d="M762.8 1240.2 L768.0 1240.2 L773.2 1240.2 L778.3 1240.2 L783.5 1240.2 L788.7 1240.2 L793.8 1240.2 L799.0 1240.2 L804.2 1240.2 L809.3 1240.2 L814.5 1240.2 L819.7 1240.2 L824.8 1240.2 L830.0 1240.2 L835.2 1240.2 L840.3 1240.2 L845.5 1240.2 L850.7 1240.2 L855.8 1240.2 L861.0 1240.2 L866.2 1240.2 L871.4 1240.1 L876.5 1240.1 L881.7 1240.1 L886.9 1240.1 L892.0 1240.1 L897.2 1240.0 L902.4 1240.0 L907.5 1239.9 L912.7 1239.9 L917.9 1239.8 L923.0 1239.7 L928.2 1239.5 L933.4 1239.3 L938.5 1239.1 L943.7 1238.8 L948.9 1238.5 L954.0 1238.1 L959.2 1237.6 L964.4 1237.1 L969.6 1236.4 L974.7 1235.7 L979.9 1234.8 L985.1 1233.9 L990.2 1233.0 L995.4 1232.0 L1000.6 1231.0 L1005.7 1230.0 L1010.9 1229.1" fill="none" stroke="#0a760a" stroke-width="2.2" stroke-linejoin="round"/>
<path d="M706.0 1233.0L720.4 1247.4M706.0 1247.4L720.4 1233.0" stroke="#4d9bff" stroke-width="1.9" fill="none"/>
<path d="M755.6 1233.0L770.0 1247.4M755.6 1247.4L770.0 1233.0" stroke="#4d9bff" stroke-width="1.9" fill="none"/>
<path d="M805.2 1233.0L819.6 1247.4M805.2 1247.4L819.6 1233.0" stroke="#4d9bff" stroke-width="1.9" fill="none"/>
<path d="M854.8 1233.0L869.3 1247.4M854.8 1247.4L869.3 1233.0" stroke="#4d9bff" stroke-width="1.9" fill="none"/>
<path d="M904.5 1233.0L918.9 1247.4M904.5 1247.4L918.9 1233.0" stroke="#4d9bff" stroke-width="1.9" fill="none"/>
<path d="M954.1 1233.0L968.5 1247.4M954.1 1247.4L968.5 1233.0" stroke="#4d9bff" stroke-width="1.9" fill="none"/>
<path d="M1003.7 1233.0L1018.1 1247.4M1003.7 1247.4L1018.1 1233.0" stroke="#4d9bff" stroke-width="1.9" fill="none"/>
<polygon points="713.2,1231.8 715.3,1237.3 721.2,1237.6 716.6,1241.3 718.1,1247.0 713.2,1243.7 708.3,1247.0 709.8,1241.3 705.2,1237.6 711.1,1237.3" fill="#0a0aff"/>
<polygon points="762.8,1231.8 764.9,1237.3 770.8,1237.6 766.2,1241.3 767.8,1247.0 762.8,1243.7 757.9,1247.0 759.5,1241.3 754.8,1237.6 760.7,1237.3" fill="#0a0aff"/>
<polygon points="812.4,1231.8 814.5,1237.3 820.4,1237.6 815.8,1241.3 817.4,1247.0 812.4,1243.7 807.5,1247.0 809.1,1241.3 804.4,1237.6 810.4,1237.3" fill="#0a0aff"/>
<polygon points="862.0,1231.8 864.1,1237.3 870.0,1237.6 865.4,1241.3 867.0,1247.0 862.0,1243.7 857.1,1247.0 858.7,1241.3 854.1,1237.6 860.0,1237.3" fill="#0a0aff"/>
<polygon points="911.7,1231.8 913.7,1237.3 919.7,1237.6 915.0,1241.3 916.6,1247.0 911.7,1243.7 906.7,1247.0 908.3,1241.3 903.7,1237.6 909.6,1237.3" fill="#0a0aff"/>
<polygon points="961.3,1229.1 963.4,1234.7 969.3,1234.9 964.6,1238.6 966.2,1244.3 961.3,1241.1 956.3,1244.3 957.9,1238.6 953.3,1234.9 959.2,1234.7" fill="#0a0aff"/>
<polygon points="1010.9,1227.8 1013.0,1233.3 1018.9,1233.6 1014.3,1237.3 1015.8,1243.0 1010.9,1239.7 1006.0,1243.0 1007.5,1237.3 1002.9,1233.6 1008.8,1233.3" fill="#0a0aff"/>
<circle cx="713.2" cy="1240.2" r="7.0" fill="none" stroke="#0c0cb4" stroke-width="2.0"/>
<circle cx="762.8" cy="1240.2" r="7.0" fill="none" stroke="#0c0cb4" stroke-width="2.0"/>
<circle cx="812.4" cy="1240.2" r="7.0" fill="none" stroke="#0c0cb4" stroke-width="2.0"/>
<circle cx="862.0" cy="1240.2" r="7.0" fill="none" stroke="#0c0cb4" stroke-width="2.0"/>
<circle cx="911.7" cy="1240.2" r="7.0" fill="none" stroke="#0c0cb4" stroke-width="2.0"/>
<circle cx="961.3" cy="1233.5" r="7.0" fill="none" stroke="#0c0cb4" stroke-width="2.0"/>
<circle cx="1010.9" cy="1226.2" r="7.0" fill="none" stroke="#0c0cb4" stroke-width="2.0"/>
<polygon points="762.8,1247.1 755.7,1233.3 769.9,1233.3" fill="none" stroke="#19f019" stroke-width="2.3"/>
<polygon points="812.4,1247.1 805.3,1233.3 819.5,1233.3" fill="none" stroke="#19f019" stroke-width="2.3"/>
<polygon points="862.0,1247.1 854.9,1233.3 869.1,1233.3" fill="none" stroke="#19f019" stroke-width="2.3"/>
<polygon points="911.7,1247.1 904.6,1233.3 918.8,1233.3" fill="none" stroke="#19f019" stroke-width="2.3"/>
<polygon points="961.3,1247.1 954.2,1233.3 968.4,1233.3" fill="none" stroke="#19f019" stroke-width="2.3"/>
<polygon points="1010.9,1247.1 1003.8,1233.3 1018.0,1233.3" fill="none" stroke="#19f019" stroke-width="2.3"/>
<polygon points="762.8,1233.3 755.7,1247.1 769.9,1247.1" fill="none" stroke="#0a760a" stroke-width="2.3"/>
<polygon points="812.4,1233.3 805.3,1247.1 819.5,1247.1" fill="none" stroke="#0a760a" stroke-width="2.3"/>
<polygon points="862.0,1233.3 854.9,1247.1 869.1,1247.1" fill="none" stroke="#0a760a" stroke-width="2.3"/>
<polygon points="911.7,1233.3 904.6,1247.1 918.8,1247.1" fill="none" stroke="#0a760a" stroke-width="2.3"/>
<polygon points="961.3,1233.3 954.2,1247.1 968.4,1247.1" fill="none" stroke="#0a760a" stroke-width="2.3"/>
<polygon points="1010.9,1233.3 1003.8,1247.1 1018.0,1247.1" fill="none" stroke="#0a760a" stroke-width="2.3"/>
<rect x="755.8" y="1233.2" width="14.0" height="14.0" fill="none" stroke="#0a760a" stroke-width="2.1"/>
<rect x="805.4" y="1233.2" width="14.0" height="14.0" fill="none" stroke="#0a760a" stroke-width="2.1"/>
<rect x="855.0" y="1233.2" width="14.0" height="14.0" fill="none" stroke="#0a760a" stroke-width="2.1"/>
<rect x="904.7" y="1233.2" width="14.0" height="14.0" fill="none" stroke="#0a760a" stroke-width="2.1"/>
<rect x="954.3" y="1228.2" width="14.0" height="14.0" fill="none" stroke="#0a760a" stroke-width="2.1"/>
<rect x="1003.9" y="1221.5" width="14.0" height="14.0" fill="none" stroke="#0a760a" stroke-width="2.1"/>
<path d="M219.4 1322.1V1528.9M218.4 1522.4H518.7" stroke="#000" stroke-width="2.2" fill="none"/>
<path d="M213.1 1522.4H219.4M213.1 1489.2H219.4M213.1 1456.0H219.4M213.1 1422.8H219.4M213.1 1389.5H219.4M213.1 1356.3H219.4M213.1 1323.1H219.4M219.4 1522.4V1528.9M269.1 1522.4V1528.9M318.8 1522.4V1528.9M368.6 1522.4V1528.9M418.3 1522.4V1528.9M468.0 1522.4V1528.9M517.7 1522.4V1528.9" stroke="#000" stroke-width="2.2" fill="none"/>
<text x="209.80" y="1529.00" font-size="16.5" font-weight="bold" text-anchor="end">0</text>
<text x="203.00" y="1495.68" font-size="16.6" font-weight="bold" text-anchor="end">1×10</text>
<text x="205.40" y="1490.28" font-size="10.6" font-weight="bold">7</text>
<text x="203.00" y="1462.47" font-size="16.6" font-weight="bold" text-anchor="end">2×10</text>
<text x="205.40" y="1457.07" font-size="10.6" font-weight="bold">7</text>
<text x="203.00" y="1429.25" font-size="16.6" font-weight="bold" text-anchor="end">3×10</text>
<text x="205.40" y="1423.85" font-size="10.6" font-weight="bold">7</text>
<text x="203.00" y="1396.03" font-size="16.6" font-weight="bold" text-anchor="end">4×10</text>
<text x="205.40" y="1390.63" font-size="10.6" font-weight="bold">7</text>
<text x="203.00" y="1362.82" font-size="16.6" font-weight="bold" text-anchor="end">5×10</text>
<text x="205.40" y="1357.42" font-size="10.6" font-weight="bold">7</text>
<text x="203.00" y="1329.60" font-size="16.6" font-weight="bold" text-anchor="end">6×10</text>
<text x="205.40" y="1324.20" font-size="10.6" font-weight="bold">7</text>
<text x="219.40" y="1546.90" font-size="16" font-weight="bold" text-anchor="middle">-13</text>
<text x="269.12" y="1546.90" font-size="16" font-weight="bold" text-anchor="middle">-12</text>
<text x="318.83" y="1546.90" font-size="16" font-weight="bold" text-anchor="middle">-11</text>
<text x="368.55" y="1546.90" font-size="16" font-weight="bold" text-anchor="middle">-10</text>
<text x="418.27" y="1546.90" font-size="16" font-weight="bold" text-anchor="middle">-9</text>
<text x="467.98" y="1546.90" font-size="16" font-weight="bold" text-anchor="middle">-8</text>
<text x="517.70" y="1546.90" font-size="16" font-weight="bold" text-anchor="middle">-7</text>
<text x="369.75" y="1570.50" font-size="16.6" font-weight="bold" text-anchor="middle">Log [M]</text>
<text font-size="16.35" font-weight="bold" transform="translate(154.1 1518.4) rotate(-90)">Luciferase Activity (RLU)</text>
<text font-size="23.06" font-weight="bold" transform="translate(80.05 1515.85) rotate(-90)">A431+ASGR1</text>
<path d="M219.4 1517.4 L225.6 1517.4 L231.8 1517.4 L238.0 1517.4 L244.3 1517.4 L250.5 1517.4 L256.7 1517.4 L262.9 1517.4 L269.1 1517.4 L275.3 1517.4 L281.5 1517.4 L287.8 1517.4 L294.0 1517.4 L300.2 1517.4 L306.4 1517.4 L312.6 1517.4 L318.8 1517.4 L325.0 1517.4 L331.3 1517.4 L337.5 1517.4 L343.7 1517.4 L349.9 1517.4 L356.1 1517.4 L362.3 1517.4 L368.6 1517.4 L374.8 1517.4 L381.0 1517.4 L387.2 1517.4 L393.4 1517.4 L399.6 1517.3 L405.8 1517.3 L412.1 1517.3 L418.3 1517.2 L424.5 1517.1 L430.7 1517.1 L436.9 1517.0 L443.1 1516.8 L449.3 1516.6 L455.6 1516.4 L461.8 1516.1 L468.0 1515.8 L474.2 1515.4 L480.4 1515.0 L486.6 1514.6 L492.8 1514.1 L499.1 1513.6 L505.3 1513.2 L511.5 1512.7 L517.7 1512.4" fill="none" stroke="#4d9bff" stroke-width="2.2" stroke-linejoin="round"/>
<path d="M219.4 1502.4 L225.6 1502.4 L231.8 1502.4 L238.0 1502.4 L244.3 1502.3 L250.5 1502.3 L256.7 1502.2 L262.9 1502.1 L269.1 1502.0 L275.3 1501.8 L281.5 1501.6 L287.8 1501.3 L294.0 1500.9 L300.2 1500.4 L306.4 1499.7 L312.6 1498.8 L318.8 1497.6 L325.0 1496.1 L331.3 1494.1 L337.5 1491.5 L343.7 1488.2 L349.9 1484.1 L356.1 1479.0 L362.3 1472.8 L368.6 1465.5 L374.8 1457.1 L381.0 1447.9 L387.2 1438.0 L393.4 1427.8 L399.6 1417.9 L405.8 1408.4 L412.1 1399.9 L418.3 1392.3 L424.5 1385.9 L430.7 1380.6 L436.9 1376.3 L443.1 1372.9 L449.3 1370.1 L455.6 1368.0 L461.8 1366.4 L468.0 1365.2 L474.2 1364.2 L480.4 1363.5 L486.6 1363.0 L492.8 1362.5 L499.1 1362.2 L505.3 1362.0 L511.5 1361.8 L517.7 1361.7" fill="none" stroke="#0c0cb4" stroke-width="2.2" stroke-linejoin="round"/>
<path d="M219.4 1516.4 L225.6 1516.4 L231.8 1516.4 L238.0 1516.4 L244.3 1516.4 L250.5 1516.4 L256.7 1516.4 L262.9 1516.4 L269.1 1516.4 L275.3 1516.4 L281.5 1516.4 L287.8 1516.3 L294.0 1516.3 L300.2 1516.3 L306.4 1516.2 L312.6 1516.1 L318.8 1516.0 L325.0 1515.9 L331.3 1515.7 L337.5 1515.5 L343.7 1515.2 L349.9 1514.8 L356.1 1514.3 L362.3 1513.6 L368.6 1512.8 L374.8 1511.6 L381.0 1510.2 L387.2 1508.3 L393.4 1506.0 L399.6 1503.2 L405.8 1499.9 L412.1 1496.0 L418.3 1491.7 L424.5 1487.0 L430.7 1482.0 L436.9 1477.1 L443.1 1472.4 L449.3 1468.1 L455.6 1464.2 L461.8 1460.8 L468.0 1458.0 L474.2 1455.8 L480.4 1453.9 L486.6 1452.5 L492.8 1451.3 L499.1 1450.4 L505.3 1449.8 L511.5 1449.3 L517.7 1448.9" fill="none" stroke="#0a0aff" stroke-width="2.2" stroke-linejoin="round"/>
<path d="M269.1 1517.4 L274.3 1517.4 L279.5 1517.4 L284.7 1517.4 L289.8 1517.4 L295.0 1517.4 L300.2 1517.4 L305.4 1517.4 L310.5 1517.4 L315.7 1517.4 L320.9 1517.4 L326.1 1517.4 L331.3 1517.4 L336.4 1517.4 L341.6 1517.4 L346.8 1517.4 L352.0 1517.4 L357.2 1517.4 L362.3 1517.4 L367.5 1517.4 L372.7 1517.4 L377.9 1517.4 L383.1 1517.4 L388.2 1517.4 L393.4 1517.4 L398.6 1517.4 L403.8 1517.3 L408.9 1517.3 L414.1 1517.3 L419.3 1517.3 L424.5 1517.2 L429.7 1517.2 L434.8 1517.1 L440.0 1517.1 L445.2 1517.0 L450.4 1516.9 L455.6 1516.8 L460.7 1516.7 L465.9 1516.6 L471.1 1516.5 L476.3 1516.4 L481.4 1516.3 L486.6 1516.2 L491.8 1516.2 L497.0 1516.1 L502.2 1516.0 L507.3 1516.0 L512.5 1515.9 L517.7 1515.9" fill="none" stroke="#19f019" stroke-width="2.2" stroke-linejoin="round"/>
<path d="M269.1 1517.4 L274.3 1517.4 L279.5 1517.4 L284.7 1517.4 L289.8 1517.4 L295.0 1517.4 L300.2 1517.4 L305.4 1517.4 L310.5 1517.4 L315.7 1517.4 L320.9 1517.4 L326.1 1517.4 L331.3 1517.4 L336.4 1517.4 L341.6 1517.4 L346.8 1517.4 L352.0 1517.4 L357.2 1517.4 L362.3 1517.4 L367.5 1517.4 L372.7 1517.4 L377.9 1517.4 L383.1 1517.4 L388.2 1517.4 L393.4 1517.4 L398.6 1517.4 L403.8 1517.4 L408.9 1517.4 L414.1 1517.3 L419.3 1517.3 L424.5 1517.3 L429.7 1517.2 L434.8 1517.1 L440.0 1517.0 L445.2 1516.9 L450.4 1516.8 L455.6 1516.6 L460.7 1516.3 L465.9 1515.9 L471.1 1515.4 L476.3 1514.9 L481.4 1514.1 L486.6 1513.2 L491.8 1512.0 L497.0 1510.6 L502.2 1509.0 L507.3 1507.3 L512.5 1505.3 L517.7 1503.3" fill="none" stroke="#0a760a" stroke-width="2.2" stroke-linejoin="round"/>
<path d="M269.1 1517.4 L274.3 1517.3 L279.5 1517.3 L284.7 1517.3 L289.8 1517.3 L295.0 1517.2 L300.2 1517.2 L305.4 1517.1 L310.5 1517.0 L315.7 1516.9 L320.9 1516.7 L326.1 1516.6 L331.3 1516.3 L336.4 1516.0 L341.6 1515.7 L346.8 1515.2 L352.0 1514.7 L357.2 1513.9 L362.3 1513.0 L367.5 1511.9 L372.7 1510.5 L377.9 1508.8 L383.1 1506.7 L388.2 1504.0 L393.4 1500.9 L398.6 1497.0 L403.8 1492.4 L408.9 1487.0 L414.1 1480.7 L419.3 1473.5 L424.5 1465.5 L429.7 1456.7 L434.8 1447.3 L440.0 1437.6 L445.2 1427.7 L450.4 1418.0 L455.6 1408.8 L460.7 1400.1 L465.9 1392.2 L471.1 1385.2 L476.3 1379.1 L481.4 1373.8 L486.6 1369.3 L491.8 1365.6 L497.0 1362.5 L502.2 1360.0 L507.3 1357.9 L512.5 1356.3 L517.7 1354.9" fill="none" stroke="#0a760a" stroke-width="2.2" stroke-linejoin="round"/>
<path d="M212.2 1510.2L226.6 1524.6M212.2 1524.6L226.6 1510.2" stroke="#4d9bff" stroke-width="1.9" fill="none"/>
<path d="M261.9 1510.2L276.3 1524.6M261.9 1524.6L276.3 1510.2" stroke="#4d9bff" stroke-width="1.9" fill="none"/>
<path d="M311.6 1510.2L326.0 1524.6M311.6 1524.6L326.0 1510.2" stroke="#4d9bff" stroke-width="1.9" fill="none"/>
<path d="M361.3 1510.2L375.8 1524.6M361.3 1524.6L375.8 1510.2" stroke="#4d9bff" stroke-width="1.9" fill="none"/>
<path d="M411.1 1510.2L425.5 1524.6M411.1 1524.6L425.5 1510.2" stroke="#4d9bff" stroke-width="1.9" fill="none"/>
<path d="M460.8 1510.2L475.2 1524.6M460.8 1524.6L475.2 1510.2" stroke="#4d9bff" stroke-width="1.9" fill="none"/>
<path d="M510.5 1505.2L524.9 1519.6M510.5 1519.6L524.9 1505.2" stroke="#4d9bff" stroke-width="1.9" fill="none"/>
<polygon points="219.4,1509.0 221.5,1514.6 227.4,1514.8 222.8,1518.5 224.3,1524.2 219.4,1520.9 214.5,1524.2 216.0,1518.5 211.4,1514.8 217.3,1514.6" fill="#0a0aff"/>
<polygon points="269.1,1509.0 271.2,1514.6 277.1,1514.8 272.5,1518.5 274.1,1524.2 269.1,1520.9 264.2,1524.2 265.8,1518.5 261.1,1514.8 267.0,1514.6" fill="#0a0aff"/>
<polygon points="318.8,1509.0 320.9,1514.6 326.8,1514.8 322.2,1518.5 323.8,1524.2 318.8,1520.9 313.9,1524.2 315.5,1518.5 310.8,1514.8 316.8,1514.6" fill="#0a0aff"/>
<polygon points="368.6,1498.7 370.6,1504.3 376.5,1504.5 371.9,1508.2 373.5,1513.9 368.6,1510.6 363.6,1513.9 365.2,1508.2 360.6,1504.5 366.5,1504.3" fill="#0a0aff"/>
<polygon points="418.3,1481.1 420.3,1486.7 426.3,1486.9 421.6,1490.6 423.2,1496.3 418.3,1493.0 413.3,1496.3 414.9,1490.6 410.3,1486.9 416.2,1486.7" fill="#0a0aff"/>
<polygon points="468.0,1458.2 470.1,1463.7 476.0,1464.0 471.3,1467.7 472.9,1473.4 468.0,1470.1 463.0,1473.4 464.6,1467.7 460.0,1464.0 465.9,1463.7" fill="#0a0aff"/>
<polygon points="517.7,1438.9 519.8,1444.5 525.7,1444.7 521.1,1448.4 522.6,1454.1 517.7,1450.9 512.8,1454.1 514.3,1448.4 509.7,1444.7 515.6,1444.5" fill="#0a0aff"/>
<circle cx="219.4" cy="1517.4" r="7.0" fill="none" stroke="#0c0cb4" stroke-width="2.0"/>
<circle cx="269.1" cy="1510.1" r="7.0" fill="none" stroke="#0c0cb4" stroke-width="2.0"/>
<circle cx="318.8" cy="1480.5" r="7.0" fill="none" stroke="#0c0cb4" stroke-width="2.0"/>
<circle cx="368.6" cy="1453.3" r="7.0" fill="none" stroke="#0c0cb4" stroke-width="2.0"/>
<path d="M418.3 1417.4V1402.8M411.3 1417.4h14M411.3 1402.8h14" stroke="#0c0cb4" stroke-width="2.2" fill="none"/>
<circle cx="418.3" cy="1410.1" r="7.0" fill="none" stroke="#0c0cb4" stroke-width="2.0"/>
<circle cx="468.0" cy="1369.3" r="7.0" fill="none" stroke="#0c0cb4" stroke-width="2.0"/>
<path d="M517.7 1353.0V1344.7M510.7 1353.0h14M510.7 1344.7h14" stroke="#0c0cb4" stroke-width="2.2" fill="none"/>
<circle cx="517.7" cy="1347.3" r="7.0" fill="none" stroke="#0c0cb4" stroke-width="2.0"/>
<polygon points="269.1,1524.3 262.0,1510.5 276.2,1510.5" fill="none" stroke="#19f019" stroke-width="2.3"/>
<polygon points="318.8,1524.3 311.7,1510.5 325.9,1510.5" fill="none" stroke="#19f019" stroke-width="2.3"/>
<polygon points="368.6,1524.3 361.5,1510.5 375.7,1510.5" fill="none" stroke="#19f019" stroke-width="2.3"/>
<polygon points="418.3,1524.3 411.2,1510.5 425.4,1510.5" fill="none" stroke="#19f019" stroke-width="2.3"/>
<polygon points="468.0,1524.3 460.9,1510.5 475.1,1510.5" fill="none" stroke="#19f019" stroke-width="2.3"/>
<polygon points="517.7,1524.3 510.6,1510.5 524.8,1510.5" fill="none" stroke="#19f019" stroke-width="2.3"/>
<polygon points="269.1,1510.5 262.0,1524.3 276.2,1524.3" fill="none" stroke="#0a760a" stroke-width="2.3"/>
<polygon points="318.8,1510.5 311.7,1524.3 325.9,1524.3" fill="none" stroke="#0a760a" stroke-width="2.3"/>
<polygon points="368.6,1510.5 361.5,1524.3 375.7,1524.3" fill="none" stroke="#0a760a" stroke-width="2.3"/>
<polygon points="418.3,1510.5 411.2,1524.3 425.4,1524.3" fill="none" stroke="#0a760a" stroke-width="2.3"/>
<polygon points="468.0,1508.9 460.9,1522.7 475.1,1522.7" fill="none" stroke="#0a760a" stroke-width="2.3"/>
<polygon points="517.7,1495.6 510.6,1509.4 524.8,1509.4" fill="none" stroke="#0a760a" stroke-width="2.3"/>
<rect x="262.1" y="1510.4" width="14.0" height="14.0" fill="none" stroke="#0a760a" stroke-width="2.1"/>
<rect x="311.8" y="1510.4" width="14.0" height="14.0" fill="none" stroke="#0a760a" stroke-width="2.1"/>
<rect x="361.6" y="1506.8" width="14.0" height="14.0" fill="none" stroke="#0a760a" stroke-width="2.1"/>
<rect x="411.3" y="1469.9" width="14.0" height="14.0" fill="none" stroke="#0a760a" stroke-width="2.1"/>
<rect x="461.0" y="1382.2" width="14.0" height="14.0" fill="none" stroke="#0a760a" stroke-width="2.1"/>
<path d="M517.7 1363.3V1345.7M510.7 1363.3h14M510.7 1345.7h14" stroke="#0a760a" stroke-width="2.2" fill="none"/>
<rect x="510.7" y="1347.0" width="14.0" height="14.0" fill="none" stroke="#0a760a" stroke-width="2.1"/>
<path d="M713.5 1321.5V1529.3M712.5 1522.8H1012.8" stroke="#000" stroke-width="2.2" fill="none"/>
<path d="M707.2 1522.8H713.5M707.2 1489.4H713.5M707.2 1456.0H713.5M707.2 1422.7H713.5M707.2 1389.3H713.5M707.2 1355.9H713.5M707.2 1322.5H713.5M713.5 1522.8V1529.3M763.2 1522.8V1529.3M812.9 1522.8V1529.3M862.6 1522.8V1529.3M912.4 1522.8V1529.3M962.1 1522.8V1529.3M1011.8 1522.8V1529.3" stroke="#000" stroke-width="2.2" fill="none"/>
<text x="703.90" y="1529.40" font-size="16.5" font-weight="bold" text-anchor="end">0</text>
<text x="697.10" y="1495.92" font-size="16.6" font-weight="bold" text-anchor="end">1×10</text>
<text x="699.50" y="1490.52" font-size="10.6" font-weight="bold">7</text>
<text x="697.10" y="1462.53" font-size="16.6" font-weight="bold" text-anchor="end">2×10</text>
<text x="699.50" y="1457.13" font-size="10.6" font-weight="bold">7</text>
<text x="697.10" y="1429.15" font-size="16.6" font-weight="bold" text-anchor="end">3×10</text>
<text x="699.50" y="1423.75" font-size="10.6" font-weight="bold">7</text>
<text x="697.10" y="1395.77" font-size="16.6" font-weight="bold" text-anchor="end">4×10</text>
<text x="699.50" y="1390.37" font-size="10.6" font-weight="bold">7</text>
<text x="697.10" y="1362.38" font-size="16.6" font-weight="bold" text-anchor="end">5×10</text>
<text x="699.50" y="1356.98" font-size="10.6" font-weight="bold">7</text>
<text x="697.10" y="1329.00" font-size="16.6" font-weight="bold" text-anchor="end">6×10</text>
<text x="699.50" y="1323.60" font-size="10.6" font-weight="bold">7</text>
<text x="713.50" y="1547.30" font-size="16" font-weight="bold" text-anchor="middle">-13</text>
<text x="763.22" y="1547.30" font-size="16" font-weight="bold" text-anchor="middle">-12</text>
<text x="812.93" y="1547.30" font-size="16" font-weight="bold" text-anchor="middle">-11</text>
<text x="862.65" y="1547.30" font-size="16" font-weight="bold" text-anchor="middle">-10</text>
<text x="912.37" y="1547.30" font-size="16" font-weight="bold" text-anchor="middle">-9</text>
<text x="962.08" y="1547.30" font-size="16" font-weight="bold" text-anchor="middle">-8</text>
<text x="1011.80" y="1547.30" font-size="16" font-weight="bold" text-anchor="middle">-7</text>
<text x="863.85" y="1570.90" font-size="16.6" font-weight="bold" text-anchor="middle">Log [M]</text>
<text font-size="16.35" font-weight="bold" transform="translate(649.4 1518.2) rotate(-90)">Luciferase Activity (RLU)</text>
<path d="M713.5 1521.8 L719.7 1521.8 L725.9 1521.8 L732.1 1521.8 L738.4 1521.8 L744.6 1521.8 L750.8 1521.8 L757.0 1521.8 L763.2 1521.8 L769.4 1521.8 L775.6 1521.8 L781.9 1521.8 L788.1 1521.8 L794.3 1521.8 L800.5 1521.8 L806.7 1521.8 L812.9 1521.8 L819.1 1521.8 L825.4 1521.8 L831.6 1521.8 L837.8 1521.8 L844.0 1521.8 L850.2 1521.8 L856.4 1521.7 L862.6 1521.7 L868.9 1521.7 L875.1 1521.7 L881.3 1521.6 L887.5 1521.6 L893.7 1521.5 L899.9 1521.4 L906.2 1521.2 L912.4 1521.1 L918.6 1520.8 L924.8 1520.5 L931.0 1520.2 L937.2 1519.7 L943.4 1519.1 L949.7 1518.3 L955.9 1517.4 L962.1 1516.4 L968.3 1515.2 L974.5 1513.9 L980.7 1512.6 L986.9 1511.2 L993.2 1509.9 L999.4 1508.6 L1005.6 1507.5 L1011.8 1506.6" fill="none" stroke="#0c0cb4" stroke-width="2.2" stroke-linejoin="round"/>
<path d="M713.5 1522.8 L719.7 1522.8 L725.9 1522.8 L732.1 1522.8 L738.4 1522.8 L744.6 1522.8 L750.8 1522.8 L757.0 1522.8 L763.2 1522.8 L769.4 1522.8 L775.6 1522.8 L781.9 1522.8 L788.1 1522.8 L794.3 1522.8 L800.5 1522.8 L806.7 1522.8 L812.9 1522.8 L819.1 1522.8 L825.4 1522.8 L831.6 1522.8 L837.8 1522.8 L844.0 1522.8 L850.2 1522.8 L856.4 1522.8 L862.6 1522.8 L868.9 1522.8 L875.1 1522.7 L881.3 1522.7 L887.5 1522.7 L893.7 1522.7 L899.9 1522.6 L906.2 1522.6 L912.4 1522.5 L918.6 1522.4 L924.8 1522.3 L931.0 1522.2 L937.2 1522.0 L943.4 1521.8 L949.7 1521.6 L955.9 1521.4 L962.1 1521.1 L968.3 1520.9 L974.5 1520.7 L980.7 1520.5 L986.9 1520.3 L993.2 1520.1 L999.4 1520.0 L1005.6 1519.9 L1011.8 1519.8" fill="none" stroke="#0a0aff" stroke-width="2.2" stroke-linejoin="round"/>
<path d="M763.2 1522.8 L768.4 1522.8 L773.6 1522.8 L778.8 1522.8 L783.9 1522.8 L789.1 1522.8 L794.3 1522.8 L799.5 1522.8 L804.6 1522.8 L809.8 1522.8 L815.0 1522.8 L820.2 1522.8 L825.4 1522.8 L830.5 1522.8 L835.7 1522.8 L840.9 1522.8 L846.1 1522.8 L851.3 1522.8 L856.4 1522.8 L861.6 1522.8 L866.8 1522.8 L872.0 1522.7 L877.2 1522.7 L882.3 1522.7 L887.5 1522.7 L892.7 1522.7 L897.9 1522.6 L903.0 1522.6 L908.2 1522.5 L913.4 1522.5 L918.6 1522.4 L923.8 1522.3 L928.9 1522.1 L934.1 1521.9 L939.3 1521.7 L944.5 1521.4 L949.7 1521.1 L954.8 1520.7 L960.0 1520.2 L965.2 1519.7 L970.4 1519.0 L975.5 1518.3 L980.7 1517.4 L985.9 1516.5 L991.1 1515.6 L996.3 1514.6 L1001.4 1513.6 L1006.6 1512.6 L1011.8 1511.7" fill="none" stroke="#0a760a" stroke-width="2.2" stroke-linejoin="round"/>
<path d="M706.3 1515.6L720.7 1530.0M706.3 1530.0L720.7 1515.6" stroke="#4d9bff" stroke-width="1.9" fill="none"/>
<path d="M756.0 1515.6L770.4 1530.0M756.0 1530.0L770.4 1515.6" stroke="#4d9bff" stroke-width="1.9" fill="none"/>
<path d="M805.7 1515.6L820.1 1530.0M805.7 1530.0L820.1 1515.6" stroke="#4d9bff" stroke-width="1.9" fill="none"/>
<path d="M855.4 1515.6L869.9 1530.0M855.4 1530.0L869.9 1515.6" stroke="#4d9bff" stroke-width="1.9" fill="none"/>
<path d="M905.2 1515.6L919.6 1530.0M905.2 1530.0L919.6 1515.6" stroke="#4d9bff" stroke-width="1.9" fill="none"/>
<path d="M954.9 1515.6L969.3 1530.0M954.9 1530.0L969.3 1515.6" stroke="#4d9bff" stroke-width="1.9" fill="none"/>
<path d="M1004.6 1515.6L1019.0 1530.0M1004.6 1530.0L1019.0 1515.6" stroke="#4d9bff" stroke-width="1.9" fill="none"/>
<polygon points="713.5,1514.4 715.6,1519.9 721.5,1520.2 716.9,1523.9 718.4,1529.6 713.5,1526.3 708.6,1529.6 710.1,1523.9 705.5,1520.2 711.4,1519.9" fill="#0a0aff"/>
<polygon points="763.2,1514.4 765.3,1519.9 771.2,1520.2 766.6,1523.9 768.2,1529.6 763.2,1526.3 758.3,1529.6 759.9,1523.9 755.2,1520.2 761.1,1519.9" fill="#0a0aff"/>
<polygon points="812.9,1514.4 815.0,1519.9 820.9,1520.2 816.3,1523.9 817.9,1529.6 812.9,1526.3 808.0,1529.6 809.6,1523.9 804.9,1520.2 810.9,1519.9" fill="#0a0aff"/>
<polygon points="862.6,1514.4 864.7,1519.9 870.6,1520.2 866.0,1523.9 867.6,1529.6 862.6,1526.3 857.7,1529.6 859.3,1523.9 854.7,1520.2 860.6,1519.9" fill="#0a0aff"/>
<polygon points="912.4,1514.4 914.4,1519.9 920.4,1520.2 915.7,1523.9 917.3,1529.6 912.4,1526.3 907.4,1529.6 909.0,1523.9 904.4,1520.2 910.3,1519.9" fill="#0a0aff"/>
<polygon points="962.1,1511.7 964.2,1517.3 970.1,1517.5 965.4,1521.2 967.0,1526.9 962.1,1523.7 957.1,1526.9 958.7,1521.2 954.1,1517.5 960.0,1517.3" fill="#0a0aff"/>
<polygon points="1011.8,1511.1 1013.9,1516.6 1019.8,1516.9 1015.2,1520.6 1016.7,1526.3 1011.8,1523.0 1006.9,1526.3 1008.4,1520.6 1003.8,1516.9 1009.7,1516.6" fill="#0a0aff"/>
<circle cx="713.5" cy="1522.8" r="7.0" fill="none" stroke="#0c0cb4" stroke-width="2.0"/>
<circle cx="763.2" cy="1522.8" r="7.0" fill="none" stroke="#0c0cb4" stroke-width="2.0"/>
<circle cx="812.9" cy="1521.5" r="7.0" fill="none" stroke="#0c0cb4" stroke-width="2.0"/>
<circle cx="862.6" cy="1520.1" r="7.0" fill="none" stroke="#0c0cb4" stroke-width="2.0"/>
<circle cx="912.4" cy="1517.8" r="7.0" fill="none" stroke="#0c0cb4" stroke-width="2.0"/>
<circle cx="962.1" cy="1512.8" r="7.0" fill="none" stroke="#0c0cb4" stroke-width="2.0"/>
<circle cx="1011.8" cy="1506.8" r="7.0" fill="none" stroke="#0c0cb4" stroke-width="2.0"/>
<polygon points="763.2,1529.7 756.1,1515.9 770.3,1515.9" fill="none" stroke="#19f019" stroke-width="2.3"/>
<polygon points="812.9,1529.7 805.8,1515.9 820.0,1515.9" fill="none" stroke="#19f019" stroke-width="2.3"/>
<polygon points="862.6,1529.7 855.5,1515.9 869.8,1515.9" fill="none" stroke="#19f019" stroke-width="2.3"/>
<polygon points="912.4,1529.7 905.3,1515.9 919.5,1515.9" fill="none" stroke="#19f019" stroke-width="2.3"/>
<polygon points="962.1,1529.7 955.0,1515.9 969.2,1515.9" fill="none" stroke="#19f019" stroke-width="2.3"/>
<polygon points="1011.8,1529.7 1004.7,1515.9 1018.9,1515.9" fill="none" stroke="#19f019" stroke-width="2.3"/>
<polygon points="763.2,1515.9 756.1,1529.7 770.3,1529.7" fill="none" stroke="#0a760a" stroke-width="2.3"/>
<polygon points="812.9,1515.9 805.8,1529.7 820.0,1529.7" fill="none" stroke="#0a760a" stroke-width="2.3"/>
<polygon points="862.6,1515.9 855.5,1529.7 869.8,1529.7" fill="none" stroke="#0a760a" stroke-width="2.3"/>
<polygon points="912.4,1515.9 905.3,1529.7 919.5,1529.7" fill="none" stroke="#0a760a" stroke-width="2.3"/>
<polygon points="962.1,1515.9 955.0,1529.7 969.2,1529.7" fill="none" stroke="#0a760a" stroke-width="2.3"/>
<polygon points="1011.8,1515.9 1004.7,1529.7 1018.9,1529.7" fill="none" stroke="#0a760a" stroke-width="2.3"/>
<rect x="756.2" y="1515.8" width="14.0" height="14.0" fill="none" stroke="#0a760a" stroke-width="2.1"/>
<rect x="805.9" y="1515.8" width="14.0" height="14.0" fill="none" stroke="#0a760a" stroke-width="2.1"/>
<rect x="855.6" y="1515.8" width="14.0" height="14.0" fill="none" stroke="#0a760a" stroke-width="2.1"/>
<rect x="905.4" y="1515.8" width="14.0" height="14.0" fill="none" stroke="#0a760a" stroke-width="2.1"/>
<rect x="955.1" y="1509.8" width="14.0" height="14.0" fill="none" stroke="#0a760a" stroke-width="2.1"/>
<rect x="1004.8" y="1502.4" width="14.0" height="14.0" fill="none" stroke="#0a760a" stroke-width="2.1"/>
<path d="M750.7 97.8h21" stroke="#0a760a" stroke-width="1.9"/>
<rect x="754.2" y="90.8" width="14.0" height="14.0" fill="none" stroke="#0a760a" stroke-width="2.1"/>
<text x="784.80" y="104.40" font-size="16.9" fill="#111">αGFP-RSPO2-WT</text>
<path d="M750.7 122.6h21" stroke="#0a760a" stroke-width="1.9"/>
<polygon points="761.2,115.7 754.1,129.5 768.3,129.5" fill="none" stroke="#0a760a" stroke-width="2.3"/>
<text x="784.80" y="129.20" font-size="16.9" fill="#111">αGFP-RSPO2-RA</text>
<path d="M750.7 147.3h21" stroke="#19f019" stroke-width="1.9"/>
<polygon points="761.2,154.2 754.1,140.4 768.3,140.4" fill="none" stroke="#19f019" stroke-width="2.3"/>
<text x="784.80" y="153.90" font-size="16.9" fill="#111">αGFP-RSPO2-5mut</text>
<path d="M750.7 177.7h21" stroke="#0c0cb4" stroke-width="1.9"/>
<circle cx="761.2" cy="177.7" r="7.0" fill="none" stroke="#0c0cb4" stroke-width="2.0"/>
<text x="784.80" y="184.30" font-size="16.9" fill="#111">αASGR1-RSPO2-WT</text>
<path d="M750.7 202.2h21" stroke="#0a0aff" stroke-width="1.9"/>
<polygon points="761.2,193.8 763.3,199.3 769.2,199.6 764.6,203.3 766.1,209.0 761.2,205.7 756.3,209.0 757.8,203.3 753.2,199.6 759.1,199.3" fill="#0a0aff"/>
<text x="784.80" y="208.80" font-size="16.9" fill="#111">αASGR1-RSPO2-RA</text>
<path d="M750.7 227.2h21" stroke="#4d9bff" stroke-width="1.9"/>
<path d="M754.0 220.0L768.4 234.4M754.0 234.4L768.4 220.0" stroke="#4d9bff" stroke-width="1.9" fill="none"/>
<text x="784.80" y="233.80" font-size="16.9" fill="#111">αASGR1-RSPO2-5mut</text>
<path d="M752.4 1075.5h21" stroke="#0a760a" stroke-width="1.9"/>
<rect x="755.9" y="1068.5" width="14.0" height="14.0" fill="none" stroke="#0a760a" stroke-width="2.1"/>
<text x="786.40" y="1082.10" font-size="16.9" fill="#111">αGFP-RSPO2-WT</text>
<path d="M752.4 1100.9h21" stroke="#0a760a" stroke-width="1.9"/>
<polygon points="762.9,1094.0 755.8,1107.8 770.0,1107.8" fill="none" stroke="#0a760a" stroke-width="2.3"/>
<text x="786.40" y="1107.50" font-size="16.9" fill="#111">αGFP-RSPO2-RA</text>
<path d="M752.4 1127.2h21" stroke="#19f019" stroke-width="1.9"/>
<polygon points="762.9,1134.1 755.8,1120.3 770.0,1120.3" fill="none" stroke="#19f019" stroke-width="2.3"/>
<text x="786.40" y="1133.80" font-size="16.9" fill="#111">αGFP-RSPO2-5mut</text>
<path d="M752.4 1156.5h21" stroke="#0c0cb4" stroke-width="1.9"/>
<circle cx="762.9" cy="1156.5" r="7.0" fill="none" stroke="#0c0cb4" stroke-width="2.0"/>
<text x="786.40" y="1163.10" font-size="16.9" fill="#111">αASGR1-RSPO2-WT</text>
<path d="M752.4 1181.8h21" stroke="#0a0aff" stroke-width="1.9"/>
<polygon points="762.9,1173.4 765.0,1178.9 770.9,1179.2 766.3,1182.9 767.8,1188.6 762.9,1185.3 758.0,1188.6 759.5,1182.9 754.9,1179.2 760.8,1178.9" fill="#0a0aff"/>
<text x="786.40" y="1188.40" font-size="16.9" fill="#111">αASGR1-RSPO2-RA</text>
<path d="M752.4 1208.1h21" stroke="#4d9bff" stroke-width="1.9"/>
<path d="M755.7 1200.9L770.1 1215.3M755.7 1215.3L770.1 1200.9" stroke="#4d9bff" stroke-width="1.9" fill="none"/>
<text x="786.40" y="1214.70" font-size="16.9" fill="#111">αASGR1-RSPO2-5mut</text>
<clipPath id="c1"><rect x="97.8" y="1705.5" width="291.8" height="292.20000000000005"/></clipPath>
<g clip-path="url(#c1)" fill="none" stroke-linejoin="round">
<path d="M100.4 1997.7V1719.2" stroke="#707070" stroke-width="2.1" stroke-dasharray="2 2.4"/>
<path d="M100.8 1996.8 C102.8 1996.9 108.1 1997.6 112.5 1997.4 C116.8 1997.1 122.6 1996.9 127.0 1995.3 C131.4 1993.8 135.2 1990.1 138.6 1988.0 C142.0 1986.0 144.9 1983.9 147.4 1982.8 C149.8 1981.7 150.8 1982.0 153.2 1981.6 C155.6 1981.3 159.7 1982.1 161.9 1980.8 C164.1 1979.4 164.6 1978.6 166.3 1973.5 C168.0 1968.4 169.9 1958.5 172.1 1950.2 C174.3 1942.0 177.2 1932.8 179.4 1924.0 C181.6 1915.3 183.3 1908.0 185.2 1897.8 C187.1 1887.7 189.6 1875.1 191.0 1862.9 C192.5 1850.8 193.2 1833.1 193.9 1825.1 C194.7 1817.1 194.7 1817.6 195.4 1814.9 C196.1 1812.3 197.3 1812.3 198.3 1809.1 C199.3 1806.0 200.2 1804.5 201.2 1796.0 C202.2 1787.5 203.1 1766.9 204.1 1758.2 C205.1 1749.5 206.0 1744.1 207.0 1743.6 C208.0 1743.2 209.0 1749.0 209.9 1755.3 C210.9 1761.6 211.9 1771.3 212.8 1781.5 C213.8 1791.6 214.8 1802.8 215.7 1816.4 C216.7 1830.0 217.7 1848.4 218.7 1862.9 C219.6 1877.5 220.6 1891.1 221.6 1903.7 C222.5 1916.3 223.5 1929.9 224.5 1938.6 C225.4 1947.3 226.2 1951.9 227.4 1956.0 C228.6 1960.2 230.0 1960.6 231.7 1963.3 C233.4 1966.0 235.6 1968.9 237.6 1972.0 C239.5 1975.2 241.4 1979.1 243.4 1982.2 C245.3 1985.4 247.5 1988.5 249.2 1991.0 C250.9 1993.4 250.2 1995.7 253.6 1996.8 C257.0 1997.8 266.9 1997.3 269.6 1997.4" stroke="#707070" stroke-width="2.1" stroke-dasharray="2 2.5"/>
<path d="M98.6 1988.0L104.1 1996.9" stroke="#6c6c6c" stroke-width="2.2"/>
<path d="M98.6 1990.0L104.1 1996.9" stroke="#f01414" stroke-width="2.2"/>
<path d="M98.6 1985.0L104.1 1996.9" stroke="#3cf0a0" stroke-width="2.2"/>
<path d="M98.6 1978.5L104.1 1996.9" stroke="#1414d8" stroke-width="2.2"/>
<path d="M182.3 1996.8 C187.1 1996.3 205.1 1995.3 211.4 1993.9 C217.7 1992.4 217.2 1990.0 220.1 1988.0 C223.0 1986.1 226.4 1984.6 228.8 1982.2 C231.3 1979.8 233.0 1979.3 234.7 1973.5 C236.4 1967.7 237.8 1958.9 239.0 1947.3 C240.2 1935.7 241.0 1917.7 241.9 1903.7 C242.9 1889.6 243.9 1877.5 244.8 1862.9 C245.8 1848.4 246.8 1827.5 247.7 1816.4 C248.7 1805.2 249.7 1805.7 250.7 1796.0 C251.6 1786.3 252.8 1766.2 253.6 1758.2 C254.3 1750.2 254.3 1747.0 255.0 1748.0 C255.8 1749.0 256.7 1759.9 257.9 1764.0 C259.1 1768.1 261.1 1766.4 262.3 1772.7 C263.5 1779.0 264.2 1789.7 265.2 1801.8 C266.2 1814.0 266.9 1830.9 268.1 1845.5 C269.3 1860.0 271.0 1874.6 272.5 1889.1 C273.9 1903.7 275.4 1920.6 276.8 1932.8 C278.3 1944.9 279.5 1954.1 281.2 1961.9 C282.9 1969.6 285.1 1974.5 287.0 1979.3 C289.0 1984.2 290.9 1988.3 292.8 1991.0 C294.8 1993.6 294.8 1994.6 298.7 1995.3 C302.5 1996.0 311.3 1995.6 316.1 1995.3 C321.0 1995.1 324.4 1994.0 327.8 1993.9 C331.2 1993.7 333.6 1994.0 336.5 1994.4 C339.4 1994.9 337.0 1996.3 345.2 1996.8 C353.5 1997.3 379.2 1997.3 386.0 1997.4" stroke="#6c6c6c" stroke-width="1.9"/>
<path d="M182.3 1997.4 C184.2 1996.9 190.5 1995.1 193.9 1994.4 C197.3 1993.8 199.7 1993.6 202.7 1993.3 C205.6 1992.9 208.5 1992.8 211.4 1992.4 C214.3 1992.0 217.2 1991.7 220.1 1991.0 C223.0 1990.2 226.7 1989.5 228.8 1988.0 C231.0 1986.6 231.7 1985.6 233.2 1982.2 C234.7 1978.8 236.4 1974.9 237.6 1967.7 C238.8 1960.4 239.5 1950.2 240.5 1938.6 C241.4 1926.9 242.4 1910.9 243.4 1897.8 C244.4 1884.8 245.3 1873.6 246.3 1860.0 C247.3 1846.4 248.2 1827.5 249.2 1816.4 C250.2 1805.2 251.1 1804.7 252.1 1793.1 C253.1 1781.5 254.1 1754.8 255.0 1746.6 C256.0 1738.3 257.0 1744.9 257.9 1743.6 C258.9 1742.4 260.0 1737.8 260.8 1739.3 C261.7 1740.7 262.4 1744.4 263.2 1752.4 C263.9 1760.4 264.4 1774.2 265.2 1787.3 C266.0 1800.4 267.1 1816.4 268.1 1830.9 C269.1 1845.5 269.8 1859.5 271.0 1874.6 C272.2 1889.6 273.9 1907.5 275.4 1921.1 C276.8 1934.7 278.3 1946.8 279.8 1956.0 C281.2 1965.3 282.4 1971.3 284.1 1976.4 C285.8 1981.5 288.0 1984.1 289.9 1986.6 C291.9 1989.1 293.3 1990.6 295.8 1991.5 C298.2 1992.5 301.1 1992.6 304.5 1992.4 C307.9 1992.2 312.7 1991.0 316.1 1990.4 C319.5 1989.7 322.4 1989.0 324.9 1988.6 C327.3 1988.2 328.7 1987.7 330.7 1988.0 C332.6 1988.4 334.1 1989.7 336.5 1991.0 C338.9 1992.2 342.8 1994.3 345.2 1995.3 C347.6 1996.3 344.2 1996.4 351.0 1996.8 C357.8 1997.1 380.1 1997.3 386.0 1997.4" stroke="#1414d8" stroke-width="1.9"/>
<path d="M188.1 1996.8 C193.0 1995.8 210.4 1992.9 217.2 1991.0 C224.0 1989.0 225.9 1988.0 228.8 1985.1 C231.7 1982.2 233.0 1979.8 234.7 1973.5 C236.4 1967.2 237.8 1958.9 239.0 1947.3 C240.2 1935.7 241.0 1917.7 241.9 1903.7 C242.9 1889.6 243.9 1876.5 244.8 1862.9 C245.8 1849.4 246.8 1833.4 247.7 1822.2 C248.7 1811.0 249.7 1809.1 250.7 1796.0 C251.6 1782.9 252.8 1754.9 253.6 1743.6 C254.3 1732.4 254.4 1729.5 255.0 1728.5 C255.7 1727.5 256.6 1732.4 257.4 1737.8 C258.1 1743.3 258.6 1755.8 259.4 1761.1 C260.2 1766.4 261.3 1763.0 262.3 1769.8 C263.3 1776.6 264.2 1789.2 265.2 1801.8 C266.2 1814.4 266.9 1830.4 268.1 1845.5 C269.3 1860.5 271.0 1877.0 272.5 1892.0 C273.9 1907.1 275.4 1923.5 276.8 1935.7 C278.3 1947.8 279.5 1957.0 281.2 1964.8 C282.9 1972.5 285.1 1977.9 287.0 1982.2 C289.0 1986.6 290.9 1989.0 292.8 1991.0 C294.8 1992.9 294.8 1993.6 298.7 1993.9 C302.5 1994.1 311.3 1992.7 316.1 1992.4 C321.0 1992.1 324.4 1991.6 327.8 1991.8 C331.2 1992.1 333.1 1993.0 336.5 1993.9 C339.9 1994.7 339.9 1996.2 348.1 1996.8 C356.4 1997.4 379.6 1997.3 386.0 1997.4" stroke="#3cf0a0" stroke-width="1.9"/>
<path d="M205.6 1997.4 C207.5 1996.8 213.8 1994.9 217.2 1993.9 C220.6 1992.8 223.5 1991.7 225.9 1991.0 C228.4 1990.2 229.8 1990.5 231.7 1989.5 C233.7 1988.5 235.6 1987.8 237.6 1985.1 C239.5 1982.5 241.7 1978.3 243.4 1973.5 C245.1 1968.6 246.3 1963.8 247.7 1956.0 C249.2 1948.3 250.9 1936.6 252.1 1926.9 C253.3 1917.2 254.1 1908.5 255.0 1897.8 C256.0 1887.2 257.0 1873.1 257.9 1862.9 C258.9 1852.7 259.9 1843.5 260.8 1836.7 C261.8 1830.0 262.8 1830.4 263.8 1822.2 C264.7 1814.0 265.7 1799.4 266.7 1787.3 C267.6 1775.2 268.8 1757.0 269.6 1749.5 C270.3 1741.9 270.4 1742.7 271.0 1742.2 C271.6 1741.7 272.3 1742.9 273.1 1746.6 C273.8 1750.2 274.5 1755.3 275.4 1764.0 C276.3 1772.7 277.3 1786.3 278.3 1798.9 C279.3 1811.5 280.2 1826.1 281.2 1839.7 C282.2 1853.2 283.1 1866.8 284.1 1880.4 C285.1 1894.0 286.1 1909.0 287.0 1921.1 C288.0 1933.2 288.7 1943.9 289.9 1953.1 C291.1 1962.3 292.8 1970.3 294.3 1976.4 C295.8 1982.5 296.5 1986.8 298.7 1989.5 C300.8 1992.2 304.5 1992.2 307.4 1992.4 C310.3 1992.6 312.7 1991.3 316.1 1991.0 C319.5 1990.6 324.4 1990.3 327.8 1990.4 C331.2 1990.5 333.6 1990.7 336.5 1991.5 C339.4 1992.4 342.8 1994.4 345.2 1995.3 C347.6 1996.2 344.2 1996.4 351.0 1996.8 C357.8 1997.1 380.1 1997.3 386.0 1997.4" stroke="#f01414" stroke-width="1.9"/>
</g>
<rect x="97.8" y="1705.5" width="291.8" height="292.20000000000005" fill="none" stroke="#111" stroke-width="1.4"/>
<path d="M89.4 1996.9H97.8M89.4 1941.4H97.8M89.4 1885.8H97.8M89.4 1830.3H97.8M89.4 1774.7H97.8M89.4 1719.2H97.8" stroke="#000" stroke-width="2.5"/>
<path d="M94.0 1983.0H97.8M94.0 1969.1H97.8M94.0 1955.2H97.8M94.0 1927.5H97.8M94.0 1913.6H97.8M94.0 1899.7H97.8M94.0 1871.9H97.8M94.0 1858.1H97.8M94.0 1844.2H97.8M94.0 1816.4H97.8M94.0 1802.5H97.8M94.0 1788.6H97.8M94.0 1760.9H97.8M94.0 1747.0H97.8M94.0 1733.1H97.8" stroke="#000" stroke-width="1.3"/>
<text x="84.50" y="1996.60" font-size="11" text-anchor="end" fill="#2a2a2a">0</text>
<text x="84.50" y="1945.26" font-size="11" text-anchor="end" fill="#2a2a2a">20</text>
<text x="84.50" y="1889.72" font-size="11" text-anchor="end" fill="#2a2a2a">40</text>
<text x="84.50" y="1834.18" font-size="11" text-anchor="end" fill="#2a2a2a">60</text>
<text x="84.50" y="1778.64" font-size="11" text-anchor="end" fill="#2a2a2a">80</text>
<text x="84.50" y="1723.10" font-size="11" text-anchor="end" fill="#2a2a2a">100</text>
<path d="M98.1 1997.7V2005.2M138.2 1997.7V2005.2M178.2 1997.7V2005.2M218.3 1997.7V2005.2M258.4 1997.7V2005.2M298.4 1997.7V2005.2M338.5 1997.7V2005.2M378.6 1997.7V2005.2" stroke="#000" stroke-width="2.2"/>
<path d="M110.2 1997.7V2002.5M117.2 1997.7V2002.5M122.2 1997.7V2002.5M126.1 1997.7V2002.5M129.3 1997.7V2002.5M132.0 1997.7V2002.5M134.3 1997.7V2002.5M136.3 1997.7V2002.5M150.2 1997.7V2002.5M157.3 1997.7V2002.5M162.3 1997.7V2002.5M166.2 1997.7V2002.5M169.4 1997.7V2002.5M172.0 1997.7V2002.5M174.4 1997.7V2002.5M176.4 1997.7V2002.5M190.3 1997.7V2002.5M197.4 1997.7V2002.5M202.4 1997.7V2002.5M206.2 1997.7V2002.5M209.4 1997.7V2002.5M212.1 1997.7V2002.5M214.4 1997.7V2002.5M216.5 1997.7V2002.5M230.4 1997.7V2002.5M237.4 1997.7V2002.5M242.4 1997.7V2002.5M246.3 1997.7V2002.5M249.5 1997.7V2002.5M252.2 1997.7V2002.5M254.5 1997.7V2002.5M256.5 1997.7V2002.5M270.4 1997.7V2002.5M277.5 1997.7V2002.5M282.5 1997.7V2002.5M286.4 1997.7V2002.5M289.6 1997.7V2002.5M292.2 1997.7V2002.5M294.6 1997.7V2002.5M296.6 1997.7V2002.5M310.5 1997.7V2002.5M317.6 1997.7V2002.5M322.6 1997.7V2002.5M326.5 1997.7V2002.5M329.6 1997.7V2002.5M332.3 1997.7V2002.5M334.6 1997.7V2002.5M336.7 1997.7V2002.5M350.6 1997.7V2002.5M357.6 1997.7V2002.5M362.6 1997.7V2002.5M366.5 1997.7V2002.5M369.7 1997.7V2002.5M372.4 1997.7V2002.5M374.7 1997.7V2002.5M376.8 1997.7V2002.5" stroke="#000" stroke-width="1.2"/>
<text x="103.3" y="2022.3" font-size="10.6" fill="#2a2a2a">10<tspan dy="-6.6">0</tspan></text>
<text x="178.2" y="2022.3" font-size="10.6" fill="#2a2a2a">10<tspan dy="-6.6">2</tspan></text>
<text x="258.4" y="2022.3" font-size="10.6" fill="#2a2a2a">10<tspan dy="-6.6">4</tspan></text>
<text x="338.5" y="2022.3" font-size="10.6" fill="#2a2a2a">10<tspan dy="-6.6">6</tspan></text>
<text x="228.20" y="1676.00" font-size="20" font-weight="bold" text-anchor="middle">HEK293+<tspan font-style="italic">ZNRF3</tspan></text>
<text x="228.20" y="1699.60" font-size="20" font-weight="bold" text-anchor="middle">With 10% Wnt CM</text>
<text x="213.40" y="2049.00" font-size="19.9" text-anchor="middle" fill="#111">pan-FZD-Alexa647</text>
<text font-size="20.1" text-anchor="middle" fill="#111" transform="translate(53.9 1860.5) rotate(-90)">% of maximum</text>
<clipPath id="c2"><rect x="491.6" y="1708.0" width="279.1" height="278.5999999999999"/></clipPath>
<g clip-path="url(#c2)" fill="none" stroke-linejoin="round">
<path d="M494.2 1986.6V1720.8" stroke="#707070" stroke-width="2.1" stroke-dasharray="2 2.4"/>
<path d="M496.6 1986.6 C499.1 1986.3 506.8 1986.1 511.2 1985.1 C515.5 1984.2 519.4 1982.0 522.8 1980.8 C526.2 1979.6 529.1 1978.6 531.6 1977.9 C534.0 1977.1 535.4 1977.6 537.4 1976.4 C539.3 1975.2 540.8 1972.5 543.2 1970.6 C545.6 1968.6 549.5 1968.2 551.9 1964.8 C554.3 1961.4 556.0 1956.0 557.7 1950.2 C559.4 1944.4 560.6 1935.9 562.1 1929.9 C563.6 1923.8 565.3 1916.3 566.5 1913.8 C567.7 1911.4 568.4 1918.0 569.4 1915.3 C570.3 1912.6 571.3 1903.2 572.3 1897.8 C573.3 1892.5 574.2 1886.5 575.2 1883.3 C576.2 1880.1 577.1 1882.3 578.1 1878.9 C579.1 1875.5 580.0 1871.9 581.0 1862.9 C582.0 1854.0 583.0 1837.2 583.9 1825.1 C584.9 1813.0 585.9 1799.9 586.8 1790.2 C587.8 1780.5 588.8 1772.5 589.7 1766.9 C590.7 1761.3 591.8 1759.2 592.7 1756.7 C593.5 1754.3 594.0 1750.7 595.0 1752.4 C595.9 1754.1 597.4 1763.0 598.5 1766.9 C599.5 1770.8 600.4 1770.8 601.4 1775.6 C602.4 1780.5 603.3 1785.3 604.3 1796.0 C605.3 1806.7 606.2 1824.6 607.2 1839.7 C608.2 1854.7 609.1 1871.7 610.1 1886.2 C611.1 1900.8 612.0 1916.3 613.0 1926.9 C614.0 1937.6 614.7 1944.4 615.9 1950.2 C617.1 1956.0 618.8 1958.9 620.3 1961.9 C621.7 1964.8 623.0 1965.7 624.7 1967.7 C626.4 1969.6 628.5 1971.3 630.5 1973.5 C632.4 1975.7 634.4 1978.8 636.3 1980.8 C638.2 1982.7 640.2 1984.2 642.1 1985.1 C644.1 1986.1 647.0 1986.3 647.9 1986.6" stroke="#707070" stroke-width="2.1" stroke-dasharray="2 2.5"/>
<path d="M492.4 1982.0L497.9 1985.8" stroke="#3cf0a0" stroke-width="2.2"/>
<path d="M492.4 1979.5L497.9 1985.8" stroke="#1414d8" stroke-width="2.2"/>
<path d="M595.6 1985.7 C598.5 1985.1 608.7 1983.8 613.0 1982.2 C617.4 1980.7 619.3 1978.8 621.7 1976.4 C624.2 1974.0 625.9 1972.5 627.6 1967.7 C629.3 1962.8 630.7 1955.6 631.9 1947.3 C633.1 1939.1 633.9 1930.3 634.8 1918.2 C635.8 1906.1 636.8 1889.1 637.7 1874.6 C638.7 1860.0 639.7 1844.5 640.7 1830.9 C641.6 1817.4 642.6 1804.3 643.6 1793.1 C644.5 1782.0 645.5 1770.6 646.5 1764.0 C647.4 1757.5 648.4 1751.9 649.4 1753.8 C650.4 1755.8 651.3 1766.2 652.3 1775.6 C653.3 1785.1 654.0 1798.0 655.2 1810.6 C656.4 1823.2 658.1 1837.7 659.6 1851.3 C661.0 1864.9 662.5 1879.4 663.9 1892.0 C665.4 1904.6 666.8 1916.8 668.3 1926.9 C669.8 1937.1 671.2 1945.9 672.7 1953.1 C674.1 1960.4 675.3 1966.0 677.0 1970.6 C678.7 1975.2 680.9 1978.4 682.8 1980.8 C684.8 1983.1 684.8 1983.9 688.7 1984.6 C692.5 1985.2 701.3 1984.5 706.1 1984.6 C711.0 1984.6 707.1 1984.8 717.8 1985.1 C728.4 1985.4 761.4 1986.1 770.1 1986.3" stroke="#6c6c6c" stroke-width="1.9"/>
<path d="M575.2 1985.7 C578.6 1985.2 589.3 1983.6 595.6 1982.8 C601.9 1982.0 608.7 1981.9 613.0 1980.8 C617.4 1979.6 619.3 1978.2 621.7 1975.8 C624.2 1973.4 625.9 1971.5 627.6 1966.2 C629.3 1961.0 630.7 1953.9 631.9 1944.4 C633.1 1934.9 633.9 1922.1 634.8 1909.5 C635.8 1896.9 636.8 1882.8 637.7 1868.8 C638.7 1854.7 639.7 1838.7 640.7 1825.1 C641.6 1811.5 642.6 1798.4 643.6 1787.3 C644.5 1776.1 645.4 1766.2 646.5 1758.2 C647.6 1750.2 649.0 1739.8 650.3 1739.3 C651.5 1738.8 652.7 1746.3 653.8 1755.3 C654.8 1764.3 655.7 1781.0 656.7 1793.1 C657.6 1805.2 658.5 1816.4 659.6 1828.0 C660.6 1839.7 662.1 1856.1 663.1 1862.9 C664.0 1869.7 664.5 1862.9 665.4 1868.8 C666.3 1874.6 667.1 1887.2 668.3 1897.8 C669.5 1908.5 671.2 1922.1 672.7 1932.8 C674.1 1943.4 675.3 1954.3 677.0 1961.9 C678.7 1969.4 680.9 1974.7 682.8 1977.9 C684.8 1981.0 684.8 1980.3 688.7 1980.8 C692.5 1981.3 701.3 1980.3 706.1 1980.8 C711.0 1981.3 714.9 1982.9 717.8 1983.7 C720.7 1984.5 714.9 1985.3 723.6 1985.7 C732.3 1986.2 762.4 1986.2 770.1 1986.3" stroke="#3cf0a0" stroke-width="1.9"/>
<path d="M583.9 1985.7 C586.8 1985.4 596.5 1984.4 601.4 1983.7 C606.2 1983.0 609.6 1982.6 613.0 1981.6 C616.4 1980.7 619.3 1979.5 621.7 1977.9 C624.2 1976.3 626.1 1975.2 627.6 1972.0 C629.0 1968.9 629.5 1964.5 630.5 1958.9 C631.4 1953.4 632.4 1947.8 633.4 1938.6 C634.4 1929.4 635.3 1916.3 636.3 1903.7 C637.3 1891.1 638.2 1877.5 639.2 1862.9 C640.2 1848.4 641.2 1829.5 642.1 1816.4 C643.0 1803.3 643.6 1795.0 644.4 1784.4 C645.3 1773.7 646.3 1756.7 647.4 1752.4 C648.4 1748.0 649.8 1752.9 650.8 1758.2 C651.9 1763.5 652.8 1775.6 653.8 1784.4 C654.7 1793.1 655.7 1801.8 656.7 1810.6 C657.6 1819.3 658.5 1827.0 659.6 1836.7 C660.6 1846.4 661.8 1857.6 663.1 1868.8 C664.3 1879.9 665.5 1893.0 666.8 1903.7 C668.2 1914.3 669.8 1924.0 671.2 1932.8 C672.7 1941.5 674.1 1949.2 675.6 1956.0 C677.0 1962.8 678.2 1969.4 679.9 1973.5 C681.6 1977.6 683.3 1979.3 685.8 1980.8 C688.2 1982.2 690.1 1982.0 694.5 1982.2 C698.8 1982.5 708.1 1982.0 711.9 1982.2 C715.8 1982.5 715.8 1983.1 717.8 1983.7 C719.7 1984.3 714.9 1985.3 723.6 1985.7 C732.3 1986.2 762.4 1986.2 770.1 1986.3" stroke="#1414d8" stroke-width="1.9"/>
<path d="M607.2 1985.7 C609.1 1985.1 615.4 1983.3 618.8 1982.2 C622.2 1981.2 625.1 1980.8 627.6 1979.3 C630.0 1977.9 631.7 1977.4 633.4 1973.5 C635.1 1969.6 636.3 1964.8 637.7 1956.0 C639.2 1947.3 640.9 1932.8 642.1 1921.1 C643.3 1909.5 644.1 1897.8 645.0 1886.2 C646.0 1874.6 647.0 1863.9 647.9 1851.3 C648.9 1838.7 649.9 1822.7 650.8 1810.6 C651.8 1798.4 652.8 1787.8 653.8 1778.6 C654.7 1769.3 655.8 1761.1 656.7 1755.3 C657.5 1749.5 658.3 1746.1 659.0 1743.6 C659.7 1741.2 660.2 1740.2 661.0 1740.7 C661.8 1741.2 663.0 1742.7 663.9 1746.6 C664.9 1750.4 665.9 1752.4 666.8 1764.0 C667.8 1775.6 668.8 1799.9 669.8 1816.4 C670.7 1832.9 671.7 1849.4 672.7 1862.9 C673.6 1876.5 674.6 1887.2 675.6 1897.8 C676.5 1908.5 677.5 1918.2 678.5 1926.9 C679.5 1935.7 680.2 1942.9 681.4 1950.2 C682.6 1957.5 684.3 1966.0 685.8 1970.6 C687.2 1975.2 687.7 1976.2 690.1 1977.9 C692.5 1979.6 696.2 1980.3 700.3 1980.8 C704.4 1981.3 711.5 1980.3 714.9 1980.8 C718.2 1981.3 718.7 1982.7 720.7 1983.7 C722.6 1984.6 718.2 1986.2 726.5 1986.6 C734.7 1987.0 762.9 1986.3 770.1 1986.3" stroke="#f01414" stroke-width="1.9"/>
</g>
<rect x="491.6" y="1708.0" width="279.1" height="278.5999999999999" fill="none" stroke="#111" stroke-width="1.4"/>
<path d="M483.2 1984.5H491.6M483.2 1931.8H491.6M483.2 1879.0H491.6M483.2 1826.3H491.6M483.2 1773.5H491.6M483.2 1720.8H491.6" stroke="#000" stroke-width="2.5"/>
<path d="M487.8 1971.3H491.6M487.8 1958.1H491.6M487.8 1944.9H491.6M487.8 1918.6H491.6M487.8 1905.4H491.6M487.8 1892.2H491.6M487.8 1865.8H491.6M487.8 1852.7H491.6M487.8 1839.5H491.6M487.8 1813.1H491.6M487.8 1799.9H491.6M487.8 1786.7H491.6M487.8 1760.4H491.6M487.8 1747.2H491.6M487.8 1734.0H491.6" stroke="#000" stroke-width="1.3"/>
<text x="478.30" y="1984.20" font-size="11" text-anchor="end" fill="#2a2a2a">0</text>
<text x="478.30" y="1935.66" font-size="11" text-anchor="end" fill="#2a2a2a">20</text>
<text x="478.30" y="1882.92" font-size="11" text-anchor="end" fill="#2a2a2a">40</text>
<text x="478.30" y="1830.18" font-size="11" text-anchor="end" fill="#2a2a2a">60</text>
<text x="478.30" y="1777.44" font-size="11" text-anchor="end" fill="#2a2a2a">80</text>
<text x="478.30" y="1724.70" font-size="11" text-anchor="end" fill="#2a2a2a">100</text>
<path d="M491.4 1986.6V1994.1M529.8 1986.6V1994.1M568.1 1986.6V1994.1M606.5 1986.6V1994.1M644.9 1986.6V1994.1M683.2 1986.6V1994.1M721.6 1986.6V1994.1M760.0 1986.6V1994.1" stroke="#000" stroke-width="2.2"/>
<path d="M503.0 1986.6V1991.4M509.7 1986.6V1991.4M514.5 1986.6V1991.4M518.2 1986.6V1991.4M521.3 1986.6V1991.4M523.8 1986.6V1991.4M526.1 1986.6V1991.4M528.0 1986.6V1991.4M541.3 1986.6V1991.4M548.1 1986.6V1991.4M552.9 1986.6V1991.4M556.6 1986.6V1991.4M559.6 1986.6V1991.4M562.2 1986.6V1991.4M564.4 1986.6V1991.4M566.4 1986.6V1991.4M579.7 1986.6V1991.4M586.4 1986.6V1991.4M591.2 1986.6V1991.4M595.0 1986.6V1991.4M598.0 1986.6V1991.4M600.6 1986.6V1991.4M602.8 1986.6V1991.4M604.8 1986.6V1991.4M618.1 1986.6V1991.4M624.8 1986.6V1991.4M629.6 1986.6V1991.4M633.3 1986.6V1991.4M636.4 1986.6V1991.4M638.9 1986.6V1991.4M641.2 1986.6V1991.4M643.1 1986.6V1991.4M656.4 1986.6V1991.4M663.2 1986.6V1991.4M668.0 1986.6V1991.4M671.7 1986.6V1991.4M674.7 1986.6V1991.4M677.3 1986.6V1991.4M679.5 1986.6V1991.4M681.5 1986.6V1991.4M694.8 1986.6V1991.4M701.6 1986.6V1991.4M706.4 1986.6V1991.4M710.1 1986.6V1991.4M713.1 1986.6V1991.4M715.7 1986.6V1991.4M717.9 1986.6V1991.4M719.9 1986.6V1991.4M733.2 1986.6V1991.4M739.9 1986.6V1991.4M744.7 1986.6V1991.4M748.4 1986.6V1991.4M751.5 1986.6V1991.4M754.0 1986.6V1991.4M756.3 1986.6V1991.4M758.2 1986.6V1991.4" stroke="#000" stroke-width="1.2"/>
<text x="496.6" y="2011.2" font-size="10.6" fill="#2a2a2a">10<tspan dy="-6.6">0</tspan></text>
<text x="568.1" y="2011.2" font-size="10.6" fill="#2a2a2a">10<tspan dy="-6.6">2</tspan></text>
<text x="644.9" y="2011.2" font-size="10.6" fill="#2a2a2a">10<tspan dy="-6.6">4</tspan></text>
<text x="721.6" y="2011.2" font-size="10.6" fill="#2a2a2a">10<tspan dy="-6.6">6</tspan></text>
<text x="626.80" y="1676.00" font-size="20" font-weight="bold" text-anchor="middle">HEK293+<tspan font-style="italic">ZNRF3</tspan></text>
<text x="626.80" y="1699.60" font-size="20" font-weight="bold" text-anchor="middle">Without Wnt</text>
<text x="633.70" y="2044.40" font-size="19.9" text-anchor="middle" fill="#111">pan-FZD-Alexa647</text>
<text font-size="20.1" text-anchor="middle" fill="#111" transform="translate(447.0 1862.6) rotate(-90)">% of maximum</text>
<clipPath id="c3"><rect x="92.4" y="2135.6" width="289.9" height="289.2000000000003"/></clipPath>
<g clip-path="url(#c3)" fill="none" stroke-linejoin="round">
<path d="M95.0 2424.8V2149.1" stroke="#707070" stroke-width="2.1" stroke-dasharray="2 2.4"/>
<path d="M96.7 2423.9 C100.1 2423.8 111.8 2423.8 117.1 2423.3 C122.4 2422.8 125.3 2421.8 128.7 2421.0 C132.1 2420.1 135.0 2419.1 137.5 2418.0 C139.9 2417.0 141.3 2415.3 143.3 2414.6 C145.2 2413.8 147.2 2414.0 149.1 2413.7 C151.0 2413.4 153.0 2414.5 154.9 2412.8 C156.9 2411.1 158.8 2408.0 160.7 2403.5 C162.7 2399.0 164.6 2391.9 166.6 2386.0 C168.5 2380.2 170.4 2373.4 172.4 2368.6 C174.3 2363.7 176.5 2361.8 178.2 2356.9 C179.9 2352.1 181.1 2345.8 182.6 2339.5 C184.0 2333.2 185.5 2325.4 186.9 2319.1 C188.4 2312.8 190.1 2306.0 191.3 2301.7 C192.5 2297.3 193.2 2298.3 194.2 2292.9 C195.2 2287.6 196.1 2278.4 197.1 2269.7 C198.1 2260.9 199.2 2248.8 200.0 2240.6 C200.8 2232.3 201.4 2224.6 202.1 2220.2 C202.7 2215.8 203.2 2213.9 203.8 2214.4 C204.4 2214.9 205.0 2216.8 205.8 2223.1 C206.7 2229.4 207.8 2242.0 208.7 2252.2 C209.7 2262.4 210.7 2273.1 211.7 2284.2 C212.6 2295.4 213.6 2307.0 214.6 2319.1 C215.5 2331.2 216.5 2346.3 217.5 2356.9 C218.4 2367.6 219.4 2377.8 220.4 2383.1 C221.4 2388.5 222.1 2387.2 223.3 2388.9 C224.5 2390.6 226.2 2391.6 227.7 2393.3 C229.1 2395.0 230.6 2396.5 232.0 2399.1 C233.5 2401.8 234.9 2406.2 236.4 2409.3 C237.8 2412.5 239.1 2415.6 240.7 2418.0 C242.4 2420.5 245.6 2422.9 246.6 2423.9" stroke="#707070" stroke-width="2.1" stroke-dasharray="2 2.5"/>
<path d="M93.2 2407.0L98.7 2424.0" stroke="#6c6c6c" stroke-width="2.2"/>
<path d="M93.2 2407.5L98.7 2424.0" stroke="#f01414" stroke-width="2.2"/>
<path d="M93.2 2415.0L98.7 2424.0" stroke="#3cf0a0" stroke-width="2.2"/>
<path d="M93.2 2420.0L98.7 2424.0" stroke="#1414d8" stroke-width="2.2"/>
<path d="M184.0 2423.9 C186.4 2423.4 194.2 2422.6 198.6 2421.0 C202.9 2419.3 207.3 2416.3 210.2 2413.7 C213.1 2411.0 214.1 2407.6 216.0 2404.9 C218.0 2402.3 219.9 2399.9 221.8 2397.7 C223.8 2395.5 226.2 2393.8 227.7 2391.9 C229.1 2389.9 229.6 2389.9 230.6 2386.0 C231.5 2382.2 232.5 2376.3 233.5 2368.6 C234.4 2360.8 235.4 2350.2 236.4 2339.5 C237.4 2328.8 238.3 2317.7 239.3 2304.6 C240.3 2291.5 241.2 2274.5 242.2 2260.9 C243.2 2247.4 244.1 2234.7 245.1 2223.1 C246.1 2211.5 247.1 2197.4 248.0 2191.1 C249.0 2184.8 250.0 2184.3 250.9 2185.3 C251.9 2186.3 252.9 2190.1 253.8 2196.9 C254.8 2203.7 255.8 2213.9 256.8 2226.0 C257.7 2238.1 258.7 2255.6 259.7 2269.7 C260.6 2283.7 261.5 2296.8 262.6 2310.4 C263.6 2324.0 264.8 2339.0 266.1 2351.1 C267.3 2363.2 268.5 2374.4 269.8 2383.1 C271.2 2391.9 272.5 2397.9 274.2 2403.5 C275.9 2409.1 278.1 2413.4 280.0 2416.6 C282.0 2419.7 282.9 2421.2 285.8 2422.4 C288.8 2423.6 282.0 2423.5 297.5 2423.9 C313.0 2424.2 365.4 2424.3 379.0 2424.4" stroke="#6c6c6c" stroke-width="1.9"/>
<path d="M184.0 2423.9 C186.4 2423.1 194.2 2421.2 198.6 2419.5 C202.9 2417.8 206.8 2415.6 210.2 2413.7 C213.6 2411.7 216.3 2409.8 218.9 2407.9 C221.6 2405.9 224.3 2404.5 226.2 2402.0 C228.1 2399.6 229.4 2396.9 230.6 2393.3 C231.8 2389.7 232.5 2386.8 233.5 2380.2 C234.4 2373.7 235.4 2364.2 236.4 2354.0 C237.4 2343.8 238.3 2331.2 239.3 2319.1 C240.3 2307.0 241.2 2294.4 242.2 2281.3 C243.2 2268.2 244.1 2253.7 245.1 2240.6 C246.1 2227.5 247.1 2212.9 248.0 2202.7 C249.0 2192.6 250.1 2185.0 250.9 2179.5 C251.8 2173.9 252.4 2167.8 253.3 2169.3 C254.1 2170.7 255.1 2178.7 256.2 2188.2 C257.2 2197.6 258.6 2214.4 259.7 2226.0 C260.7 2237.7 261.4 2245.9 262.6 2258.0 C263.8 2270.1 265.5 2285.2 266.9 2298.8 C268.4 2312.3 269.8 2326.9 271.3 2339.5 C272.8 2352.1 274.2 2364.7 275.7 2374.4 C277.1 2384.1 278.3 2391.4 280.0 2397.7 C281.7 2404.0 283.9 2408.6 285.8 2412.2 C287.8 2415.9 289.2 2417.8 291.7 2419.5 C294.1 2421.2 296.5 2421.8 300.4 2422.4 C304.3 2423.0 301.8 2422.9 314.9 2423.3 C328.0 2423.6 368.3 2424.2 379.0 2424.4" stroke="#3cf0a0" stroke-width="1.9"/>
<path d="M160.7 2423.9 C163.2 2423.6 170.9 2422.9 175.3 2422.4 C179.6 2421.9 183.0 2421.8 186.9 2421.0 C190.8 2420.1 195.2 2419.4 198.6 2417.5 C202.0 2415.5 204.9 2411.4 207.3 2409.3 C209.7 2407.2 211.4 2405.7 213.1 2404.9 C214.8 2404.2 216.0 2405.2 217.5 2404.9 C218.9 2404.7 220.1 2404.7 221.8 2403.5 C223.5 2402.3 226.0 2400.6 227.7 2397.7 C229.4 2394.8 230.6 2391.4 232.0 2386.0 C233.5 2380.7 234.9 2373.4 236.4 2365.7 C237.8 2357.9 239.3 2349.7 240.7 2339.5 C242.2 2329.3 243.7 2316.2 245.1 2304.6 C246.6 2292.9 248.0 2280.3 249.5 2269.7 C250.9 2259.0 252.6 2250.3 253.8 2240.6 C255.1 2230.9 255.8 2221.6 256.8 2211.5 C257.7 2201.3 258.9 2186.2 259.7 2179.5 C260.4 2172.8 260.4 2171.3 261.1 2171.3 C261.8 2171.3 263.1 2172.3 264.0 2179.5 C265.0 2186.6 266.0 2202.3 266.9 2214.4 C267.9 2226.5 268.9 2239.1 269.8 2252.2 C270.8 2265.3 271.8 2279.4 272.8 2292.9 C273.7 2306.5 274.7 2322.0 275.7 2333.7 C276.6 2345.3 277.6 2354.0 278.6 2362.8 C279.5 2371.5 280.3 2378.8 281.5 2386.0 C282.7 2393.3 284.1 2401.1 285.8 2406.4 C287.5 2411.7 289.2 2415.4 291.7 2418.0 C294.1 2420.7 296.0 2421.6 300.4 2422.4 C304.8 2423.2 313.5 2422.5 317.9 2422.7 C322.2 2422.9 316.4 2423.6 326.6 2423.9 C336.8 2424.2 370.2 2424.3 379.0 2424.4" stroke="#f01414" stroke-width="1.9"/>
<path d="M189.8 2423.9 C191.3 2423.4 195.2 2421.7 198.6 2421.0 C202.0 2420.2 207.3 2419.6 210.2 2419.5 C213.1 2419.4 214.1 2420.9 216.0 2420.4 C218.0 2419.9 219.9 2417.7 221.8 2416.6 C223.8 2415.5 226.0 2415.1 227.7 2413.7 C229.4 2412.2 230.8 2410.5 232.0 2407.9 C233.2 2405.2 234.0 2402.3 234.9 2397.7 C235.9 2393.1 236.9 2387.0 237.8 2380.2 C238.8 2373.4 239.8 2365.7 240.7 2356.9 C241.7 2348.2 242.7 2338.5 243.7 2327.8 C244.6 2317.2 245.6 2304.1 246.6 2292.9 C247.5 2281.8 248.5 2270.6 249.5 2260.9 C250.4 2251.2 251.4 2242.5 252.4 2234.7 C253.4 2227.0 254.3 2221.2 255.3 2214.4 C256.3 2207.6 257.4 2199.8 258.2 2194.0 C259.0 2188.2 259.7 2182.6 260.2 2179.5 C260.8 2176.3 261.1 2174.6 261.7 2175.1 C262.3 2175.6 263.2 2176.3 264.0 2182.4 C264.9 2188.4 266.0 2199.8 266.9 2211.5 C267.9 2223.1 268.9 2238.6 269.8 2252.2 C270.8 2265.8 271.8 2279.4 272.8 2292.9 C273.7 2306.5 274.7 2321.5 275.7 2333.7 C276.6 2345.8 277.6 2356.5 278.6 2365.7 C279.5 2374.9 280.3 2382.2 281.5 2388.9 C282.7 2395.7 284.1 2401.6 285.8 2406.4 C287.5 2411.3 289.2 2415.4 291.7 2418.0 C294.1 2420.7 296.5 2421.4 300.4 2422.4 C304.3 2423.4 301.8 2423.5 314.9 2423.9 C328.0 2424.2 368.3 2424.3 379.0 2424.4" stroke="#1414d8" stroke-width="1.9"/>
</g>
<rect x="92.4" y="2135.6" width="289.9" height="289.2000000000003" fill="none" stroke="#111" stroke-width="1.4"/>
<path d="M84.0 2423.1H92.4M84.0 2368.3H92.4M84.0 2313.5H92.4M84.0 2258.7H92.4M84.0 2203.9H92.4M84.0 2149.1H92.4" stroke="#000" stroke-width="2.5"/>
<path d="M88.6 2409.4H92.4M88.6 2395.7H92.4M88.6 2382.0H92.4M88.6 2354.6H92.4M88.6 2340.9H92.4M88.6 2327.2H92.4M88.6 2299.8H92.4M88.6 2286.1H92.4M88.6 2272.4H92.4M88.6 2245.0H92.4M88.6 2231.3H92.4M88.6 2217.6H92.4M88.6 2190.2H92.4M88.6 2176.5H92.4M88.6 2162.8H92.4" stroke="#000" stroke-width="1.3"/>
<text x="79.10" y="2422.80" font-size="11" text-anchor="end" fill="#2a2a2a">0</text>
<text x="79.10" y="2372.20" font-size="11" text-anchor="end" fill="#2a2a2a">20</text>
<text x="79.10" y="2317.40" font-size="11" text-anchor="end" fill="#2a2a2a">40</text>
<text x="79.10" y="2262.60" font-size="11" text-anchor="end" fill="#2a2a2a">60</text>
<text x="79.10" y="2207.80" font-size="11" text-anchor="end" fill="#2a2a2a">80</text>
<text x="79.10" y="2153.00" font-size="11" text-anchor="end" fill="#2a2a2a">100</text>
<path d="M92.4 2424.8V2432.3M132.3 2424.8V2432.3M172.2 2424.8V2432.3M212.1 2424.8V2432.3M252.0 2424.8V2432.3M291.9 2424.8V2432.3M331.8 2424.8V2432.3M371.7 2424.8V2432.3" stroke="#000" stroke-width="2.2"/>
<path d="M104.4 2424.8V2429.6M111.4 2424.8V2429.6M116.4 2424.8V2429.6M120.3 2424.8V2429.6M123.4 2424.8V2429.6M126.1 2424.8V2429.6M128.4 2424.8V2429.6M130.5 2424.8V2429.6M144.3 2424.8V2429.6M151.3 2424.8V2429.6M156.3 2424.8V2429.6M160.2 2424.8V2429.6M163.3 2424.8V2429.6M166.0 2424.8V2429.6M168.3 2424.8V2429.6M170.4 2424.8V2429.6M184.2 2424.8V2429.6M191.2 2424.8V2429.6M196.2 2424.8V2429.6M200.1 2424.8V2429.6M203.2 2424.8V2429.6M205.9 2424.8V2429.6M208.2 2424.8V2429.6M210.3 2424.8V2429.6M224.1 2424.8V2429.6M231.1 2424.8V2429.6M236.1 2424.8V2429.6M240.0 2424.8V2429.6M243.1 2424.8V2429.6M245.8 2424.8V2429.6M248.1 2424.8V2429.6M250.2 2424.8V2429.6M264.0 2424.8V2429.6M271.0 2424.8V2429.6M276.0 2424.8V2429.6M279.9 2424.8V2429.6M283.0 2424.8V2429.6M285.7 2424.8V2429.6M288.0 2424.8V2429.6M290.1 2424.8V2429.6M303.9 2424.8V2429.6M310.9 2424.8V2429.6M315.9 2424.8V2429.6M319.8 2424.8V2429.6M322.9 2424.8V2429.6M325.6 2424.8V2429.6M327.9 2424.8V2429.6M330.0 2424.8V2429.6M343.8 2424.8V2429.6M350.8 2424.8V2429.6M355.8 2424.8V2429.6M359.7 2424.8V2429.6M362.8 2424.8V2429.6M365.5 2424.8V2429.6M367.8 2424.8V2429.6M369.9 2424.8V2429.6" stroke="#000" stroke-width="1.2"/>
<text x="97.6" y="2449.4" font-size="10.6" fill="#2a2a2a">10<tspan dy="-6.6">0</tspan></text>
<text x="172.2" y="2449.4" font-size="10.6" fill="#2a2a2a">10<tspan dy="-6.6">2</tspan></text>
<text x="252.0" y="2449.4" font-size="10.6" fill="#2a2a2a">10<tspan dy="-6.6">4</tspan></text>
<text x="331.8" y="2449.4" font-size="10.6" fill="#2a2a2a">10<tspan dy="-6.6">6</tspan></text>
<text x="227.90" y="2106.40" font-size="20" font-weight="bold" text-anchor="middle">HEK293+<tspan font-style="italic">ZNRF3/ASGR1</tspan></text>
<text x="227.90" y="2129.30" font-size="20" font-weight="bold" text-anchor="middle">With 10% Wnt CM</text>
<text x="226.00" y="2473.50" font-size="19.9" text-anchor="middle" fill="#111">pan-FZD-Alexa647</text>
<text font-size="20.1" text-anchor="middle" fill="#111" transform="translate(59.1 2293.4) rotate(-90)">% of maximum</text>
<clipPath id="c4"><rect x="489.6" y="2137.8" width="290.9" height="289.39999999999964"/></clipPath>
<g clip-path="url(#c4)" fill="none" stroke-linejoin="round">
<path d="M492.2 2427.2V2151.8" stroke="#707070" stroke-width="2.1" stroke-dasharray="2 2.4"/>
<path d="M493.7 2426.8 C496.2 2426.5 503.9 2425.9 508.3 2425.3 C512.6 2424.7 516.0 2424.0 519.9 2423.3 C523.8 2422.6 527.7 2422.1 531.6 2421.0 C535.4 2419.8 539.8 2418.3 543.2 2416.6 C546.6 2414.9 549.7 2412.5 551.9 2410.8 C554.1 2409.1 554.8 2409.1 556.3 2406.4 C557.7 2403.7 559.0 2399.6 560.6 2394.8 C562.3 2389.9 564.8 2383.6 566.5 2377.3 C568.2 2371.0 569.4 2363.2 570.8 2356.9 C572.3 2350.6 573.7 2344.8 575.2 2339.5 C576.6 2334.2 578.1 2330.8 579.6 2324.9 C581.0 2319.1 582.7 2311.4 583.9 2304.6 C585.1 2297.8 585.9 2292.9 586.8 2284.2 C587.8 2275.5 588.8 2263.4 589.7 2252.2 C590.7 2241.0 591.7 2223.6 592.7 2217.3 C593.6 2211.0 594.6 2216.3 595.6 2214.4 C596.5 2212.4 597.6 2207.8 598.5 2205.6 C599.3 2203.5 599.9 2200.3 600.8 2201.3 C601.7 2202.3 602.9 2206.4 603.7 2211.5 C604.5 2216.6 604.9 2223.1 605.7 2231.8 C606.6 2240.6 607.7 2251.7 608.7 2263.8 C609.6 2276.0 610.6 2291.0 611.6 2304.6 C612.5 2318.1 613.5 2332.7 614.5 2345.3 C615.4 2357.9 616.4 2372.5 617.4 2380.2 C618.4 2388.0 619.1 2388.5 620.3 2391.9 C621.5 2395.3 623.2 2398.4 624.7 2400.6 C626.1 2402.8 627.6 2402.8 629.0 2404.9 C630.5 2407.1 631.9 2411.0 633.4 2413.7 C634.8 2416.3 636.1 2418.8 637.7 2421.0 C639.4 2423.1 642.6 2425.8 643.6 2426.8" stroke="#707070" stroke-width="2.1" stroke-dasharray="2 2.5"/>
<path d="M490.4 2421.0L495.9 2426.4" stroke="#f01414" stroke-width="2.2"/>
<path d="M490.4 2422.0L495.9 2426.4" stroke="#3cf0a0" stroke-width="2.2"/>
<path d="M601.4 2426.8 C603.8 2426.3 612.0 2425.6 615.9 2423.9 C619.8 2422.2 622.5 2420.0 624.7 2416.6 C626.8 2413.2 627.8 2409.1 629.0 2403.5 C630.2 2397.9 631.0 2391.9 631.9 2383.1 C632.9 2374.4 633.9 2363.2 634.8 2351.1 C635.8 2339.0 636.8 2324.5 637.7 2310.4 C638.7 2296.3 639.7 2280.8 640.7 2266.7 C641.6 2252.7 642.6 2237.2 643.6 2226.0 C644.5 2214.9 645.5 2207.1 646.5 2199.8 C647.4 2192.6 648.4 2182.9 649.4 2182.4 C650.4 2181.9 651.3 2189.2 652.3 2196.9 C653.3 2204.7 654.2 2216.8 655.2 2228.9 C656.2 2241.0 657.1 2257.0 658.1 2269.7 C659.1 2282.3 660.1 2293.4 661.0 2304.6 C662.0 2315.7 663.0 2327.4 663.9 2336.6 C664.9 2345.8 665.9 2352.6 666.8 2359.9 C667.8 2367.1 668.8 2374.9 669.8 2380.2 C670.7 2385.6 671.5 2387.0 672.7 2391.9 C673.9 2396.7 675.3 2404.2 677.0 2409.3 C678.7 2414.4 680.9 2419.5 682.8 2422.4 C684.8 2425.3 687.7 2426.0 688.7 2426.8" stroke="#6c6c6c" stroke-width="1.9"/>
<path d="M601.4 2426.8 C603.8 2426.2 612.0 2425.0 615.9 2423.3 C619.8 2421.6 622.5 2419.4 624.7 2416.6 C626.8 2413.8 627.8 2411.0 629.0 2406.4 C630.2 2401.8 631.0 2396.2 631.9 2388.9 C632.9 2381.7 633.9 2372.9 634.8 2362.8 C635.8 2352.6 636.8 2339.5 637.7 2327.8 C638.7 2316.2 639.7 2306.5 640.7 2292.9 C641.6 2279.4 642.6 2261.4 643.6 2246.4 C644.5 2231.3 645.5 2213.9 646.5 2202.7 C647.4 2191.6 648.5 2184.9 649.4 2179.5 C650.3 2174.0 651.0 2169.2 651.7 2170.2 C652.4 2171.1 652.9 2175.5 653.8 2185.3 C654.6 2195.1 655.7 2216.3 656.7 2228.9 C657.6 2241.5 658.5 2250.7 659.6 2260.9 C660.6 2271.1 661.8 2278.9 663.1 2290.0 C664.3 2301.2 665.5 2315.7 666.8 2327.8 C668.2 2340.0 669.8 2352.6 671.2 2362.8 C672.7 2372.9 674.1 2381.4 675.6 2388.9 C677.0 2396.5 678.2 2402.5 679.9 2407.9 C681.6 2413.2 683.8 2417.8 685.8 2421.0 C687.7 2424.1 690.6 2425.8 691.6 2426.8" stroke="#3cf0a0" stroke-width="1.9"/>
<path d="M601.4 2426.8 C604.3 2426.3 614.5 2425.1 618.8 2423.9 C623.2 2422.6 625.1 2421.4 627.6 2419.5 C630.0 2417.6 631.7 2415.9 633.4 2412.2 C635.1 2408.6 636.5 2403.5 637.7 2397.7 C639.0 2391.9 639.7 2385.6 640.7 2377.3 C641.6 2369.1 642.6 2358.4 643.6 2348.2 C644.5 2338.0 645.5 2327.4 646.5 2316.2 C647.4 2305.1 648.4 2292.9 649.4 2281.3 C650.4 2269.7 651.3 2257.0 652.3 2246.4 C653.3 2235.7 654.2 2226.5 655.2 2217.3 C656.2 2208.1 657.4 2196.7 658.1 2191.1 C658.8 2185.5 658.9 2183.3 659.6 2183.8 C660.2 2184.3 661.0 2187.0 661.9 2194.0 C662.8 2201.0 663.8 2215.3 664.8 2226.0 C665.8 2236.7 666.7 2245.9 667.7 2258.0 C668.8 2270.1 669.9 2285.2 671.2 2298.8 C672.5 2312.3 674.1 2326.9 675.6 2339.5 C677.0 2352.1 678.5 2364.2 679.9 2374.4 C681.4 2384.6 682.8 2393.6 684.3 2400.6 C685.8 2407.6 687.0 2412.5 688.7 2416.6 C690.4 2420.7 692.5 2423.6 694.5 2425.3 C696.4 2427.0 699.3 2426.5 700.3 2426.8" stroke="#1414d8" stroke-width="1.9"/>
<path d="M607.2 2426.8 C609.6 2426.4 617.9 2425.4 621.7 2424.4 C625.6 2423.5 628.3 2422.3 630.5 2421.0 C632.7 2419.6 633.4 2418.5 634.8 2416.6 C636.3 2414.6 638.0 2412.5 639.2 2409.3 C640.4 2406.2 641.1 2403.5 642.1 2397.7 C643.1 2391.9 644.1 2384.1 645.0 2374.4 C646.0 2364.7 647.0 2352.1 647.9 2339.5 C648.9 2326.9 649.9 2311.8 650.8 2298.8 C651.8 2285.7 652.8 2273.5 653.8 2260.9 C654.7 2248.3 655.8 2235.2 656.7 2223.1 C657.5 2211.0 658.4 2195.8 659.0 2188.2 C659.6 2180.6 659.9 2177.4 660.4 2177.4 C661.0 2177.4 661.7 2180.1 662.5 2188.2 C663.3 2196.3 664.4 2213.9 665.4 2226.0 C666.4 2238.1 667.3 2249.8 668.3 2260.9 C669.3 2272.1 670.2 2282.7 671.2 2292.9 C672.2 2303.1 673.1 2313.3 674.1 2322.0 C675.1 2330.8 676.1 2338.0 677.0 2345.3 C678.0 2352.6 678.7 2357.9 679.9 2365.7 C681.1 2373.4 682.8 2384.6 684.3 2391.9 C685.8 2399.1 687.0 2404.5 688.7 2409.3 C690.4 2414.2 692.5 2418.0 694.5 2421.0 C696.4 2423.9 699.3 2425.8 700.3 2426.8" stroke="#f01414" stroke-width="1.9"/>
</g>
<rect x="489.6" y="2137.8" width="290.9" height="289.39999999999964" fill="none" stroke="#111" stroke-width="1.4"/>
<path d="M481.2 2425.8H489.6M481.2 2371.0H489.6M481.2 2316.2H489.6M481.2 2261.4H489.6M481.2 2206.6H489.6M481.2 2151.8H489.6" stroke="#000" stroke-width="2.5"/>
<path d="M485.8 2412.1H489.6M485.8 2398.4H489.6M485.8 2384.7H489.6M485.8 2357.3H489.6M485.8 2343.6H489.6M485.8 2329.9H489.6M485.8 2302.5H489.6M485.8 2288.8H489.6M485.8 2275.1H489.6M485.8 2247.7H489.6M485.8 2234.0H489.6M485.8 2220.3H489.6M485.8 2192.9H489.6M485.8 2179.2H489.6M485.8 2165.5H489.6" stroke="#000" stroke-width="1.3"/>
<text x="476.30" y="2425.50" font-size="11" text-anchor="end" fill="#2a2a2a">0</text>
<text x="476.30" y="2374.90" font-size="11" text-anchor="end" fill="#2a2a2a">20</text>
<text x="476.30" y="2320.10" font-size="11" text-anchor="end" fill="#2a2a2a">40</text>
<text x="476.30" y="2265.30" font-size="11" text-anchor="end" fill="#2a2a2a">60</text>
<text x="476.30" y="2210.50" font-size="11" text-anchor="end" fill="#2a2a2a">80</text>
<text x="476.30" y="2155.70" font-size="11" text-anchor="end" fill="#2a2a2a">100</text>
<path d="M490.5 2427.2V2434.7M530.3 2427.2V2434.7M570.1 2427.2V2434.7M609.9 2427.2V2434.7M649.7 2427.2V2434.7M689.5 2427.2V2434.7M729.3 2427.2V2434.7M769.1 2427.2V2434.7" stroke="#000" stroke-width="2.2"/>
<path d="M502.5 2427.2V2432.0M509.5 2427.2V2432.0M514.5 2427.2V2432.0M518.3 2427.2V2432.0M521.5 2427.2V2432.0M524.1 2427.2V2432.0M526.4 2427.2V2432.0M528.5 2427.2V2432.0M542.3 2427.2V2432.0M549.3 2427.2V2432.0M554.3 2427.2V2432.0M558.1 2427.2V2432.0M561.3 2427.2V2432.0M563.9 2427.2V2432.0M566.2 2427.2V2432.0M568.3 2427.2V2432.0M582.1 2427.2V2432.0M589.1 2427.2V2432.0M594.1 2427.2V2432.0M597.9 2427.2V2432.0M601.1 2427.2V2432.0M603.7 2427.2V2432.0M606.0 2427.2V2432.0M608.1 2427.2V2432.0M621.9 2427.2V2432.0M628.9 2427.2V2432.0M633.9 2427.2V2432.0M637.7 2427.2V2432.0M640.9 2427.2V2432.0M643.5 2427.2V2432.0M645.8 2427.2V2432.0M647.9 2427.2V2432.0M661.7 2427.2V2432.0M668.7 2427.2V2432.0M673.7 2427.2V2432.0M677.5 2427.2V2432.0M680.7 2427.2V2432.0M683.3 2427.2V2432.0M685.6 2427.2V2432.0M687.7 2427.2V2432.0M701.5 2427.2V2432.0M708.5 2427.2V2432.0M713.5 2427.2V2432.0M717.3 2427.2V2432.0M720.5 2427.2V2432.0M723.1 2427.2V2432.0M725.4 2427.2V2432.0M727.5 2427.2V2432.0M741.3 2427.2V2432.0M748.3 2427.2V2432.0M753.3 2427.2V2432.0M757.1 2427.2V2432.0M760.3 2427.2V2432.0M762.9 2427.2V2432.0M765.2 2427.2V2432.0M767.3 2427.2V2432.0" stroke="#000" stroke-width="1.2"/>
<text x="495.7" y="2451.8" font-size="10.6" fill="#2a2a2a">10<tspan dy="-6.6">0</tspan></text>
<text x="570.1" y="2451.8" font-size="10.6" fill="#2a2a2a">10<tspan dy="-6.6">2</tspan></text>
<text x="649.7" y="2451.8" font-size="10.6" fill="#2a2a2a">10<tspan dy="-6.6">4</tspan></text>
<text x="729.3" y="2451.8" font-size="10.6" fill="#2a2a2a">10<tspan dy="-6.6">6</tspan></text>
<text x="626.60" y="2106.40" font-size="20" font-weight="bold" text-anchor="middle">HEK293+<tspan font-style="italic">ZNRF3/ASGR1</tspan></text>
<text x="626.60" y="2129.60" font-size="20" font-weight="bold" text-anchor="middle">Without Wnt</text>
<text x="634.20" y="2473.90" font-size="19.9" text-anchor="middle" fill="#111">pan-FZD-Alexa647</text>
<text font-size="20.1" text-anchor="middle" fill="#111" transform="translate(447.0 2293.5) rotate(-90)">% of maximum</text>
<path d="M786.1 1769.8h42.5" stroke="#aaa" stroke-width="4.6" stroke-dasharray="4.3 5"/>
<text x="843.80" y="1775.50" font-size="19.9" fill="#1a1a1a">No stain</text>
<path d="M786.1 1817.5h42.5" stroke="#6e6e6e" stroke-width="4.8"/>
<text x="843.80" y="1823.20" font-size="19.9" fill="#1a1a1a">No treatment</text>
<path d="M786.1 1865.5h42.5" stroke="#f01414" stroke-width="4.8"/>
<text x="843.80" y="1871.20" font-size="19.9" fill="#1a1a1a">αGFP-RSPO2-WT</text>
<path d="M786.1 1913.5h42.5" stroke="#3cf0a0" stroke-width="4.8"/>
<text x="843.80" y="1919.20" font-size="19.9" fill="#1a1a1a">αGFP-RSPO2-RA</text>
<path d="M786.1 1961.7h42.5" stroke="#1414d8" stroke-width="4.8"/>
<text x="843.80" y="1967.40" font-size="19.9" fill="#1a1a1a">αASGR1-RSPO2-RA</text>
<path d="M786.1 2199.7h42.5" stroke="#aaa" stroke-width="4.6" stroke-dasharray="4.3 5"/>
<text x="843.80" y="2205.40" font-size="19.9" fill="#1a1a1a">No stain</text>
<path d="M786.1 2247.8h42.5" stroke="#6e6e6e" stroke-width="4.8"/>
<text x="843.80" y="2253.50" font-size="19.9" fill="#1a1a1a">No treatment</text>
<path d="M786.1 2296.4h42.5" stroke="#f01414" stroke-width="4.8"/>
<text x="843.80" y="2302.10" font-size="19.9" fill="#1a1a1a">αGFP-RSPO2-WT</text>
<path d="M786.1 2344.4h42.5" stroke="#3cf0a0" stroke-width="4.8"/>
<text x="843.80" y="2350.10" font-size="19.9" fill="#1a1a1a">αGFP-RSPO2-RA</text>
<path d="M786.1 2393.0h42.5" stroke="#1414d8" stroke-width="4.8"/>
<text x="843.80" y="2398.70" font-size="19.9" fill="#1a1a1a">αASGR1-RSPO2-RA</text>
</svg></body></html>
